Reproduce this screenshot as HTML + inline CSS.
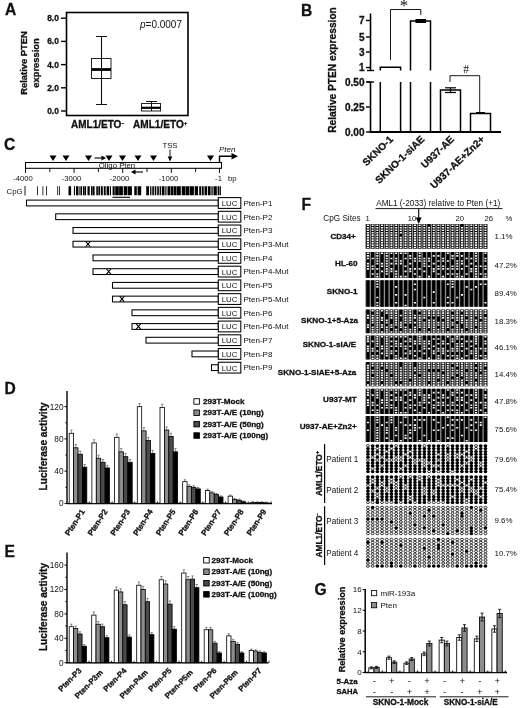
<!DOCTYPE html>
<html lang="en"><head><meta charset="utf-8"><title>Figure</title>
<style>
html,body{margin:0;padding:0;background:#fff;}
body{width:520px;height:708px;overflow:hidden;}
svg{display:block;font-family:"Liberation Sans", "DejaVu Sans", sans-serif;fill:#000;}
svg text{fill:#111;}
</style></head><body>
<svg width="520" height="708" viewBox="0 0 520 708">
<rect width="520" height="708" fill="#fff"/>
<g id="panelA">
<text x="5" y="15.4" text-anchor="start" style="font-size:15.6px;font-weight:bold;stroke:#111;stroke-width:0.3px;" >A</text>
<rect x="66.50" y="12.50" width="121.50" height="103.00" fill="none" stroke="#000" stroke-width="1.6"/>
<line x1="61" y1="111.0" x2="66" y2="111.0" stroke="#000" stroke-width="1.4" />
<text x="58.8" y="114.0" text-anchor="end" style="font-size:8.4px;font-weight:bold;stroke:#111;stroke-width:0.3px;" >0.0</text>
<line x1="61" y1="87.8" x2="66" y2="87.8" stroke="#000" stroke-width="1.4" />
<text x="58.8" y="90.8" text-anchor="end" style="font-size:8.4px;font-weight:bold;stroke:#111;stroke-width:0.3px;" >2.0</text>
<line x1="61" y1="64.6" x2="66" y2="64.6" stroke="#000" stroke-width="1.4" />
<text x="58.8" y="67.6" text-anchor="end" style="font-size:8.4px;font-weight:bold;stroke:#111;stroke-width:0.3px;" >4.0</text>
<line x1="61" y1="41.400000000000006" x2="66" y2="41.400000000000006" stroke="#000" stroke-width="1.4" />
<text x="58.8" y="44.400000000000006" text-anchor="end" style="font-size:8.4px;font-weight:bold;stroke:#111;stroke-width:0.3px;" >6.0</text>
<line x1="61" y1="18.200000000000003" x2="66" y2="18.200000000000003" stroke="#000" stroke-width="1.4" />
<text x="58.8" y="21.200000000000003" text-anchor="end" style="font-size:8.4px;font-weight:bold;stroke:#111;stroke-width:0.3px;" >8.0</text>
<text x="26.5" y="63" text-anchor="middle" style="font-size:9.4px;font-weight:bold;stroke:#111;stroke-width:0.3px;" transform="rotate(-90 26.5 63)" >Relative PTEN</text>
<text x="38.9" y="63" text-anchor="middle" style="font-size:9.4px;font-weight:bold;stroke:#111;stroke-width:0.3px;" transform="rotate(-90 38.9 63)" >expression</text>
<line x1="101.5" y1="36" x2="101.5" y2="105" stroke="#111" stroke-width="1.1" />
<line x1="96" y1="36.5" x2="107" y2="36.5" stroke="#111" stroke-width="1" />
<line x1="96" y1="104.5" x2="107" y2="104.5" stroke="#111" stroke-width="1" />
<rect x="91.50" y="58.50" width="19.50" height="20.00" fill="#fff" stroke="#222" stroke-width="1"/>
<line x1="101.5" y1="58" x2="101.5" y2="78.5" stroke="#111" stroke-width="1" />
<line x1="91.5" y1="69.5" x2="111" y2="69.5" stroke="#000" stroke-width="2.8" />
<line x1="151.5" y1="101" x2="151.5" y2="111" stroke="#111" stroke-width="1" />
<line x1="146" y1="101.5" x2="157" y2="101.5" stroke="#111" stroke-width="1" />
<rect x="141.50" y="103.50" width="19.00" height="7.50" fill="#fff" stroke="#222" stroke-width="1"/>
<line x1="151.5" y1="103.5" x2="151.5" y2="111" stroke="#111" stroke-width="1" />
<line x1="141.5" y1="107.8" x2="160.5" y2="107.8" stroke="#000" stroke-width="2.2" />
<text x="140" y="27.5" text-anchor="start" style="font-size:10px;" ><tspan font-style="italic">p</tspan>=0.0007</text>
<text x="71" y="127.8" text-anchor="start" style="font-size:10px;font-weight:bold;stroke:#111;stroke-width:0.3px;" >AML1/ETO<tspan dy="-3" font-size="7">-</tspan></text>
<text x="133" y="127.8" text-anchor="start" style="font-size:10.1px;font-weight:bold;stroke:#111;stroke-width:0.3px;" >AML1/ETO<tspan dy="-3" font-size="6">+</tspan></text>
</g>
<g id="panelB">
<text x="301" y="15.8" text-anchor="start" style="font-size:15.6px;font-weight:bold;stroke:#111;stroke-width:0.3px;" >B</text>
<line x1="370.5" y1="13.5" x2="370.5" y2="70.5" stroke="#000" stroke-width="1.6" />
<line x1="366" y1="20.5" x2="370.5" y2="20.5" stroke="#000" stroke-width="1.4" />
<text x="364.5" y="24.0" text-anchor="end" style="font-size:10px;font-weight:bold;stroke:#111;stroke-width:0.3px;" >7</text>
<line x1="366" y1="37" x2="370.5" y2="37" stroke="#000" stroke-width="1.4" />
<text x="364.5" y="40.5" text-anchor="end" style="font-size:10px;font-weight:bold;stroke:#111;stroke-width:0.3px;" >5</text>
<line x1="366" y1="52" x2="370.5" y2="52" stroke="#000" stroke-width="1.4" />
<text x="364.5" y="55.5" text-anchor="end" style="font-size:10px;font-weight:bold;stroke:#111;stroke-width:0.3px;" >3</text>
<line x1="366" y1="67.5" x2="370.5" y2="67.5" stroke="#000" stroke-width="1.4" />
<text x="364.5" y="71.0" text-anchor="end" style="font-size:10px;font-weight:bold;stroke:#111;stroke-width:0.3px;" >1</text>
<line x1="367" y1="70.5" x2="374" y2="70.5" stroke="#000" stroke-width="1.4" />
<line x1="370.5" y1="82" x2="370.5" y2="132.5" stroke="#000" stroke-width="1.6" />
<line x1="367" y1="82" x2="374" y2="82" stroke="#000" stroke-width="1.4" />
<line x1="366" y1="82" x2="370.5" y2="82" stroke="#000" stroke-width="1.4" />
<text x="364.5" y="85.5" text-anchor="end" style="font-size:10px;font-weight:bold;stroke:#111;stroke-width:0.3px;" >0.50</text>
<line x1="366" y1="107" x2="370.5" y2="107" stroke="#000" stroke-width="1.4" />
<text x="364.5" y="110.5" text-anchor="end" style="font-size:10px;font-weight:bold;stroke:#111;stroke-width:0.3px;" >0.25</text>
<line x1="366" y1="132" x2="370.5" y2="132" stroke="#000" stroke-width="1.4" />
<text x="364.5" y="135.5" text-anchor="end" style="font-size:10px;font-weight:bold;stroke:#111;stroke-width:0.3px;" >0.00</text>
<line x1="369.7" y1="132" x2="501" y2="132" stroke="#000" stroke-width="1.8" />
<text x="335.8" y="70" text-anchor="middle" style="font-size:10.2px;font-weight:bold;stroke:#111;stroke-width:0.3px;" transform="rotate(-90 335.8 70)" >Relative PTEN expression</text>
<path d="M380.3 70.5V67.3H400.6V70.5" fill="none" stroke="#000" stroke-width="1.5"/>
<path d="M380.3 132V82M400.6 82V132" fill="none" stroke="#000" stroke-width="1.5"/>
<path d="M410.5 70.5V21H430.5V70.5" fill="none" stroke="#000" stroke-width="1.5"/>
<path d="M410.5 132V82M430.5 82V132" fill="none" stroke="#000" stroke-width="1.5"/>
<rect x="415.50" y="19.00" width="10.50" height="4.00" fill="#000" stroke="none" stroke-width="0"/>
<path d="M440.5 132V90H460.5V132" fill="none" stroke="#000" stroke-width="1.5"/>
<line x1="450.5" y1="87.5" x2="450.5" y2="92.5" stroke="#000" stroke-width="1.2" />
<line x1="445" y1="87.8" x2="456" y2="87.8" stroke="#000" stroke-width="1.2" />
<line x1="445" y1="92.5" x2="456" y2="92.5" stroke="#000" stroke-width="1.2" />
<path d="M470.5 132V113.6H490.5V132" fill="none" stroke="#000" stroke-width="1.5"/>
<line x1="476" y1="113" x2="485" y2="113" stroke="#000" stroke-width="2" />
<path d="M390.5 60V9.5H420.8V15" fill="none" stroke="#000" stroke-width="0.9"/>
<text x="404" y="10.5" text-anchor="middle" style="font-size:17px;" font-family="Liberation Serif, serif">*</text>
<path d="M450 82V75.7H479.7V112" fill="none" stroke="#000" stroke-width="0.9"/>
<text x="466" y="73" text-anchor="middle" style="font-size:11.5px;" font-family="Liberation Serif, serif">#</text>
<text x="393.8" y="140" text-anchor="end" style="font-size:10.05px;font-weight:bold;stroke:#111;stroke-width:0.3px;" transform="rotate(-44 393.8 140)" >SKNO-1</text>
<text x="425" y="140" text-anchor="end" style="font-size:10.05px;font-weight:bold;stroke:#111;stroke-width:0.3px;" transform="rotate(-44 425 140)" >SKNO-1-siAE</text>
<text x="454.7" y="140" text-anchor="end" style="font-size:10.05px;font-weight:bold;stroke:#111;stroke-width:0.3px;" transform="rotate(-44 454.7 140)" >U937-AE</text>
<text x="485.2" y="140" text-anchor="end" style="font-size:10.05px;font-weight:bold;stroke:#111;stroke-width:0.3px;" transform="rotate(-44 485.2 140)" >U937-AE+Zn2+</text>
</g>
<g id="panelC">
<text x="4" y="149.5" text-anchor="start" style="font-size:15.6px;font-weight:bold;stroke:#111;stroke-width:0.3px;" >C</text>
<text x="117" y="168.3" text-anchor="middle" style="font-size:7.8px;" >Oligo Pten</text>
<rect x="25.50" y="162.50" width="196.00" height="5.80" fill="none" stroke="#000" stroke-width="1.05"/>
<line x1="25.5" y1="168" x2="25.5" y2="173" stroke="#000" stroke-width="0.9" />
<line x1="49.8" y1="168" x2="49.8" y2="172" stroke="#000" stroke-width="0.9" />
<line x1="74.1" y1="168" x2="74.1" y2="173" stroke="#000" stroke-width="0.9" />
<line x1="98.4" y1="168" x2="98.4" y2="172" stroke="#000" stroke-width="0.9" />
<line x1="122.7" y1="168" x2="122.7" y2="173" stroke="#000" stroke-width="0.9" />
<line x1="147.0" y1="168" x2="147.0" y2="172" stroke="#000" stroke-width="0.9" />
<line x1="171.3" y1="168" x2="171.3" y2="173" stroke="#000" stroke-width="0.9" />
<line x1="195.6" y1="168" x2="195.6" y2="172" stroke="#000" stroke-width="0.9" />
<line x1="219.5" y1="168" x2="219.5" y2="173" stroke="#000" stroke-width="0.9" />
<text x="23" y="181" text-anchor="middle" style="font-size:7.7px;" >-4000</text>
<text x="71.5" y="181" text-anchor="middle" style="font-size:7.7px;" >-3000</text>
<text x="119.5" y="181" text-anchor="middle" style="font-size:7.7px;" >-2000</text>
<text x="168.5" y="181" text-anchor="middle" style="font-size:7.7px;" >-1000</text>
<text x="218.5" y="181" text-anchor="middle" style="font-size:7.7px;" >-1</text>
<text x="228" y="181" text-anchor="start" style="font-size:7.7px;" >bp</text>
<path d="M49.5 155.5H56.5L53 161Z" fill="#000"/>
<path d="M62.5 155.5H69.5L66 161Z" fill="#000"/>
<path d="M85.0 155.5H92.0L88.5 161Z" fill="#000"/>
<path d="M105.5 155.5H112.5L109 161Z" fill="#000"/>
<path d="M119.0 155.5H126.0L122.5 161Z" fill="#000"/>
<path d="M134.5 155.5H141.5L138 161Z" fill="#000"/>
<path d="M150.0 155.5H157.0L153.5 161Z" fill="#000"/>
<path d="M207.0 155.5H214.0L210.5 161Z" fill="#000"/>
<path d="M94.5 158H103" stroke="#000" stroke-width="1.1"/><path d="M106 158L101.5 155.5V160.5Z" fill="#000"/>
<path d="M143 172H134" stroke="#000" stroke-width="1.1"/><path d="M131 172L135.5 169.5V174.5Z" fill="#000"/>
<text x="170" y="147.8" text-anchor="middle" style="font-size:7.8px;" >TSS</text>
<path d="M170 149.5V158" stroke="#000" stroke-width="0.9"/><path d="M170 161.5L167.7 156.5H172.3Z" fill="#000"/>
<text x="219" y="151.5" text-anchor="start" style="font-size:8px;font-style:italic;" >Pten</text>
<path d="M219.5 162.5V156.2H233" fill="none" stroke="#000" stroke-width="1.4"/><path d="M238 156.2L231.5 153V159.4Z" fill="#000"/>
<text x="6.5" y="193.8" text-anchor="start" style="font-size:7.8px;" >CpG</text>
<line x1="25" y1="186" x2="25" y2="195.5" stroke="#000" stroke-width="0.9" />
<path d="M37.0 186.3h0.8v9h-0.8zM42.5 186.3h0.8v9h-0.8zM46.0 186.3h0.8v9h-0.8zM57.3 186.3h0.8v9h-0.8zM59.0 186.3h0.8v9h-0.8zM68.5 186.3h2.6v9h-2.6zM73.9 186.3h1.1v9h-1.1zM76.0 186.3h2v9h-2zM78.5 186.3h1.1v9h-1.1zM80.4 186.3h1.6v9h-1.6zM82.9 186.3h1.4v9h-1.4zM84.6 186.3h1.5v9h-1.5zM87.5 186.3h2.2v9h-2.2zM91.0 186.3h1.6v9h-1.6zM92.9 186.3h1.7v9h-1.7zM96.3 186.3h1.6v9h-1.6zM98.4 186.3h1.6v9h-1.6zM100.8 186.3h2.0v9h-2.0zM103.8 186.3h1.9v9h-1.9zM106.6 186.3h2.4v9h-2.4zM109.8 186.3h1.2v9h-1.2zM112.6 186.3h2.1v9h-2.1zM115.2 186.3h3.6v9h-3.6zM119.1 186.3h3.8v9h-3.8zM123.7 186.3h3.6v9h-3.6zM127.8 186.3h4.1v9h-4.1zM134.3 186.3h2.5v9h-2.5zM137.6 186.3h3.6v9h-3.6zM146.2 186.3h2.8v9h-2.8zM150.1 186.3h1.3v9h-1.3zM152.3 186.3h1.6v9h-1.6zM154.7 186.3h1.6v9h-1.6zM157.2 186.3h1.6v9h-1.6zM159.6 186.3h1.6v9h-1.6zM162.0 186.3h2.5v9h-2.5zM165.3 186.3h1.2v9h-1.2zM167.5 186.3h2.7v9h-2.7zM170.7 186.3h2.6v9h-2.6zM173.7 186.3h2.9v9h-2.9zM177.0 186.3h3.8v9h-3.8zM181.7 186.3h3.3v9h-3.3zM185.4 186.3h3.6v9h-3.6zM189.5 186.3h4.4v9h-4.4zM194.7 186.3h3.3v9h-3.3zM199.2 186.3h2.1v9h-2.1zM202.0 186.3h1.7v9h-1.7zM204.5 186.3h2.5v9h-2.5zM207.8 186.3h2.8v9h-2.8zM211.4 186.3h1.3v9h-1.3zM213.5 186.3h3.3v9h-3.3zM217.6 186.3h1.6v9h-1.6zM219.7 186.3h1.2v9h-1.2z" fill="#000"/>
<line x1="112.5" y1="197.3" x2="130" y2="197.3" stroke="#000" stroke-width="1.1" />
<rect x="26.50" y="200.10" width="191.80" height="5.80" fill="#fff" stroke="#000" stroke-width="1.05"/>
<rect x="218.30" y="197.60" width="22.50" height="10.80" fill="#fff" stroke="#000" stroke-width="1.05"/>
<text x="229.5" y="205.9" text-anchor="middle" style="font-size:7.8px;" >LUC</text>
<text x="243.5" y="205.8" text-anchor="start" style="font-size:8px;" >Pten-P1</text>
<rect x="55.70" y="213.82" width="162.60" height="5.80" fill="#fff" stroke="#000" stroke-width="1.05"/>
<rect x="218.30" y="211.32" width="22.50" height="10.80" fill="#fff" stroke="#000" stroke-width="1.05"/>
<text x="229.5" y="219.62" text-anchor="middle" style="font-size:7.8px;" >LUC</text>
<text x="243.5" y="219.52" text-anchor="start" style="font-size:8px;" >Pten-P2</text>
<rect x="73.00" y="227.54" width="145.30" height="5.80" fill="#fff" stroke="#000" stroke-width="1.05"/>
<rect x="218.30" y="225.04" width="22.50" height="10.80" fill="#fff" stroke="#000" stroke-width="1.05"/>
<text x="229.5" y="233.34" text-anchor="middle" style="font-size:7.8px;" >LUC</text>
<text x="243.5" y="233.24" text-anchor="start" style="font-size:8px;" >Pten-P3</text>
<rect x="73.00" y="241.26" width="145.30" height="5.80" fill="#fff" stroke="#000" stroke-width="1.05"/>
<rect x="218.30" y="238.76" width="22.50" height="10.80" fill="#fff" stroke="#000" stroke-width="1.05"/>
<text x="229.5" y="247.06" text-anchor="middle" style="font-size:7.8px;" >LUC</text>
<text x="243.5" y="246.96" text-anchor="start" style="font-size:8px;" >Pten-P3-Mut</text>
<path d="M85.8 241.56L90.2 246.76M90.2 241.56L85.8 246.76" stroke="#000" stroke-width="1.1"/>
<rect x="93.00" y="254.98" width="125.30" height="5.80" fill="#fff" stroke="#000" stroke-width="1.05"/>
<rect x="218.30" y="252.48" width="22.50" height="10.80" fill="#fff" stroke="#000" stroke-width="1.05"/>
<text x="229.5" y="260.78" text-anchor="middle" style="font-size:7.8px;" >LUC</text>
<text x="243.5" y="260.68" text-anchor="start" style="font-size:8px;" >Pten-P4</text>
<rect x="93.00" y="268.70" width="125.30" height="5.80" fill="#fff" stroke="#000" stroke-width="1.05"/>
<rect x="218.30" y="266.20" width="22.50" height="10.80" fill="#fff" stroke="#000" stroke-width="1.05"/>
<text x="229.5" y="274.5" text-anchor="middle" style="font-size:7.8px;" >LUC</text>
<text x="243.5" y="274.40000000000003" text-anchor="start" style="font-size:8px;" >Pten-P4-Mut</text>
<path d="M106.5 269.0L110.9 274.20000000000005M110.9 269.0L106.5 274.20000000000005" stroke="#000" stroke-width="1.1"/>
<rect x="112.50" y="282.42" width="105.80" height="5.80" fill="#fff" stroke="#000" stroke-width="1.05"/>
<rect x="218.30" y="279.92" width="22.50" height="10.80" fill="#fff" stroke="#000" stroke-width="1.05"/>
<text x="229.5" y="288.21999999999997" text-anchor="middle" style="font-size:7.8px;" >LUC</text>
<text x="243.5" y="288.12" text-anchor="start" style="font-size:8px;" >Pten-P5</text>
<rect x="112.50" y="296.14" width="105.80" height="5.80" fill="#fff" stroke="#000" stroke-width="1.05"/>
<rect x="218.30" y="293.64" width="22.50" height="10.80" fill="#fff" stroke="#000" stroke-width="1.05"/>
<text x="229.5" y="301.94" text-anchor="middle" style="font-size:7.8px;" >LUC</text>
<text x="243.5" y="301.84000000000003" text-anchor="start" style="font-size:8px;" >Pten-P5-Mut</text>
<path d="M119.8 296.44L124.2 301.64000000000004M124.2 296.44L119.8 301.64000000000004" stroke="#000" stroke-width="1.1"/>
<rect x="132.00" y="309.86" width="86.30" height="5.80" fill="#fff" stroke="#000" stroke-width="1.05"/>
<rect x="218.30" y="307.36" width="22.50" height="10.80" fill="#fff" stroke="#000" stroke-width="1.05"/>
<text x="229.5" y="315.65999999999997" text-anchor="middle" style="font-size:7.8px;" >LUC</text>
<text x="243.5" y="315.56" text-anchor="start" style="font-size:8px;" >Pten-P6</text>
<rect x="132.00" y="323.58" width="86.30" height="5.80" fill="#fff" stroke="#000" stroke-width="1.05"/>
<rect x="218.30" y="321.08" width="22.50" height="10.80" fill="#fff" stroke="#000" stroke-width="1.05"/>
<text x="229.5" y="329.38" text-anchor="middle" style="font-size:7.8px;" >LUC</text>
<text x="243.5" y="329.28000000000003" text-anchor="start" style="font-size:8px;" >Pten-P6-Mut</text>
<path d="M136.3 323.88L140.7 329.08000000000004M140.7 323.88L136.3 329.08000000000004" stroke="#000" stroke-width="1.1"/>
<rect x="146.00" y="337.30" width="72.30" height="5.80" fill="#fff" stroke="#000" stroke-width="1.05"/>
<rect x="218.30" y="334.80" width="22.50" height="10.80" fill="#fff" stroke="#000" stroke-width="1.05"/>
<text x="229.5" y="343.1" text-anchor="middle" style="font-size:7.8px;" >LUC</text>
<text x="243.5" y="343.00000000000006" text-anchor="start" style="font-size:8px;" >Pten-P7</text>
<rect x="192.00" y="351.02" width="26.30" height="5.80" fill="#fff" stroke="#000" stroke-width="1.05"/>
<rect x="218.30" y="348.52" width="22.50" height="10.80" fill="#fff" stroke="#000" stroke-width="1.05"/>
<text x="229.5" y="356.82" text-anchor="middle" style="font-size:7.8px;" >LUC</text>
<text x="243.5" y="356.72" text-anchor="start" style="font-size:8px;" >Pten-P8</text>
<rect x="211.50" y="364.74" width="6.80" height="5.80" fill="#fff" stroke="#000" stroke-width="1.05"/>
<rect x="218.30" y="362.24" width="22.50" height="10.80" fill="#fff" stroke="#000" stroke-width="1.05"/>
<text x="229.5" y="370.53999999999996" text-anchor="middle" style="font-size:7.8px;" >LUC</text>
<text x="243.5" y="370.44" text-anchor="start" style="font-size:8px;" >Pten-P9</text>
</g>
<g id="panelD">
<text x="4.5" y="393.7" text-anchor="start" style="font-size:15.6px;font-weight:bold;stroke:#111;stroke-width:0.3px;" >D</text>
<line x1="67" y1="391" x2="67" y2="503.9" stroke="#000" stroke-width="1.4" />
<line x1="66.3" y1="503.4" x2="272" y2="503.4" stroke="#000" stroke-width="1.5" />
<line x1="64.5" y1="503.4" x2="67" y2="503.4" stroke="#000" stroke-width="1" />
<text x="63.5" y="506.29999999999995" text-anchor="end" style="font-size:8.3px;" >0</text>
<line x1="64.5" y1="471.15999999999997" x2="67" y2="471.15999999999997" stroke="#000" stroke-width="1" />
<text x="63.5" y="474.05999999999995" text-anchor="end" style="font-size:8.3px;" >40</text>
<line x1="65.2" y1="487.28" x2="67" y2="487.28" stroke="#000" stroke-width="0.8" />
<line x1="64.5" y1="438.91999999999996" x2="67" y2="438.91999999999996" stroke="#000" stroke-width="1" />
<text x="63.5" y="441.81999999999994" text-anchor="end" style="font-size:8.3px;" >80</text>
<line x1="65.2" y1="455.03999999999996" x2="67" y2="455.03999999999996" stroke="#000" stroke-width="0.8" />
<line x1="64.5" y1="406.67999999999995" x2="67" y2="406.67999999999995" stroke="#000" stroke-width="1" />
<text x="63.5" y="409.5799999999999" text-anchor="end" style="font-size:8.3px;" >120</text>
<line x1="65.2" y1="422.79999999999995" x2="67" y2="422.79999999999995" stroke="#000" stroke-width="0.8" />
<text x="46.8" y="446.4" text-anchor="middle" style="font-size:10.1px;font-weight:bold;stroke:#111;stroke-width:0.3px;" transform="rotate(-90 46.8 446.4)" >Luciferase activity</text>
<line x1="71.4" y1="430.078" x2="71.4" y2="436.47799999999995" stroke="#444" stroke-width="0.6" />
<line x1="70.2" y1="430.078" x2="72.60000000000001" y2="430.078" stroke="#444" stroke-width="0.6" />
<rect x="69.20" y="433.28" width="4.40" height="70.12" fill="#fff" stroke="#000" stroke-width="0.8"/>
<line x1="75.80000000000001" y1="444.58599999999996" x2="75.80000000000001" y2="447.78599999999994" stroke="#444" stroke-width="0.6" />
<line x1="74.60000000000001" y1="444.58599999999996" x2="77.00000000000001" y2="444.58599999999996" stroke="#444" stroke-width="0.6" />
<rect x="73.60" y="447.79" width="4.40" height="55.61" fill="#8c8c8c" stroke="#000" stroke-width="0.8"/>
<line x1="80.2" y1="451.034" x2="80.2" y2="454.234" stroke="#444" stroke-width="0.6" />
<line x1="79.0" y1="451.034" x2="81.4" y2="451.034" stroke="#444" stroke-width="0.6" />
<rect x="78.00" y="454.23" width="4.40" height="49.17" fill="#4a4a4a" stroke="#000" stroke-width="0.8"/>
<line x1="84.60000000000001" y1="464.5165" x2="84.60000000000001" y2="467.13" stroke="#444" stroke-width="0.6" />
<line x1="83.4" y1="464.5165" x2="85.80000000000001" y2="464.5165" stroke="#444" stroke-width="0.6" />
<rect x="82.40" y="467.13" width="4.40" height="36.27" fill="#000" stroke="#000" stroke-width="0.8"/>
<line x1="89.35000000000001" y1="503.4" x2="89.35000000000001" y2="501.4" stroke="#000" stroke-width="0.8" />
<text x="85.1" y="511.59999999999997" text-anchor="end" style="font-size:7.9px;font-weight:bold;stroke:#111;stroke-width:0.3px;" transform="rotate(-57 85.1 511.59999999999997)" >Pten-P1</text>
<line x1="94.10000000000001" y1="439.75" x2="94.10000000000001" y2="446.15" stroke="#444" stroke-width="0.6" />
<line x1="92.9" y1="439.75" x2="95.30000000000001" y2="439.75" stroke="#444" stroke-width="0.6" />
<rect x="91.90" y="442.95" width="4.40" height="60.45" fill="#fff" stroke="#000" stroke-width="0.8"/>
<line x1="98.50000000000001" y1="455.20719999999994" x2="98.50000000000001" y2="458.26399999999995" stroke="#444" stroke-width="0.6" />
<line x1="97.30000000000001" y1="455.20719999999994" x2="99.70000000000002" y2="455.20719999999994" stroke="#444" stroke-width="0.6" />
<rect x="96.30" y="458.26" width="4.40" height="45.14" fill="#8c8c8c" stroke="#000" stroke-width="0.8"/>
<line x1="102.9" y1="459.4387" x2="102.9" y2="462.294" stroke="#444" stroke-width="0.6" />
<line x1="101.7" y1="459.4387" x2="104.10000000000001" y2="459.4387" stroke="#444" stroke-width="0.6" />
<rect x="100.70" y="462.29" width="4.40" height="41.11" fill="#4a4a4a" stroke="#000" stroke-width="0.8"/>
<line x1="107.30000000000001" y1="465.3628" x2="107.30000000000001" y2="467.936" stroke="#444" stroke-width="0.6" />
<line x1="106.10000000000001" y1="465.3628" x2="108.50000000000001" y2="465.3628" stroke="#444" stroke-width="0.6" />
<rect x="105.10" y="467.94" width="4.40" height="35.46" fill="#000" stroke="#000" stroke-width="0.8"/>
<line x1="112.05" y1="503.4" x2="112.05" y2="501.4" stroke="#000" stroke-width="0.8" />
<text x="107.8" y="511.59999999999997" text-anchor="end" style="font-size:7.9px;font-weight:bold;stroke:#111;stroke-width:0.3px;" transform="rotate(-57 107.8 511.59999999999997)" >Pten-P2</text>
<line x1="116.8" y1="434.108" x2="116.8" y2="440.508" stroke="#444" stroke-width="0.6" />
<line x1="115.6" y1="434.108" x2="118.0" y2="434.108" stroke="#444" stroke-width="0.6" />
<rect x="114.60" y="437.31" width="4.40" height="66.09" fill="#fff" stroke="#000" stroke-width="0.8"/>
<line x1="121.2" y1="448.616" x2="121.2" y2="451.816" stroke="#444" stroke-width="0.6" />
<line x1="120.0" y1="448.616" x2="122.4" y2="448.616" stroke="#444" stroke-width="0.6" />
<rect x="119.00" y="451.82" width="4.40" height="51.58" fill="#8c8c8c" stroke="#000" stroke-width="0.8"/>
<line x1="125.6" y1="453.5146" x2="125.6" y2="456.652" stroke="#444" stroke-width="0.6" />
<line x1="124.39999999999999" y1="453.5146" x2="126.8" y2="453.5146" stroke="#444" stroke-width="0.6" />
<rect x="123.40" y="456.65" width="4.40" height="46.75" fill="#4a4a4a" stroke="#000" stroke-width="0.8"/>
<line x1="130.0" y1="459.4387" x2="130.0" y2="462.294" stroke="#444" stroke-width="0.6" />
<line x1="128.8" y1="459.4387" x2="131.2" y2="459.4387" stroke="#444" stroke-width="0.6" />
<rect x="127.80" y="462.29" width="4.40" height="41.11" fill="#000" stroke="#000" stroke-width="0.8"/>
<line x1="134.75" y1="503.4" x2="134.75" y2="501.4" stroke="#000" stroke-width="0.8" />
<text x="130.49999999999997" y="511.59999999999997" text-anchor="end" style="font-size:7.9px;font-weight:bold;stroke:#111;stroke-width:0.3px;" transform="rotate(-57 130.49999999999997 511.59999999999997)" >Pten-P3</text>
<line x1="139.5" y1="403.47999999999996" x2="139.5" y2="409.87999999999994" stroke="#444" stroke-width="0.6" />
<line x1="138.3" y1="403.47999999999996" x2="140.7" y2="403.47999999999996" stroke="#444" stroke-width="0.6" />
<rect x="137.30" y="406.68" width="4.40" height="96.72" fill="#fff" stroke="#000" stroke-width="0.8"/>
<line x1="143.9" y1="427.65999999999997" x2="143.9" y2="430.85999999999996" stroke="#444" stroke-width="0.6" />
<line x1="142.70000000000002" y1="427.65999999999997" x2="145.1" y2="427.65999999999997" stroke="#444" stroke-width="0.6" />
<rect x="141.70" y="430.86" width="4.40" height="72.54" fill="#8c8c8c" stroke="#000" stroke-width="0.8"/>
<line x1="148.3" y1="437.332" x2="148.3" y2="440.532" stroke="#444" stroke-width="0.6" />
<line x1="147.10000000000002" y1="437.332" x2="149.5" y2="437.332" stroke="#444" stroke-width="0.6" />
<rect x="146.10" y="440.53" width="4.40" height="62.87" fill="#4a4a4a" stroke="#000" stroke-width="0.8"/>
<line x1="152.7" y1="450.228" x2="152.7" y2="453.428" stroke="#444" stroke-width="0.6" />
<line x1="151.5" y1="450.228" x2="153.89999999999998" y2="450.228" stroke="#444" stroke-width="0.6" />
<rect x="150.50" y="453.43" width="4.40" height="49.97" fill="#000" stroke="#000" stroke-width="0.8"/>
<line x1="157.45000000000002" y1="503.4" x2="157.45000000000002" y2="501.4" stroke="#000" stroke-width="0.8" />
<text x="153.20000000000002" y="511.59999999999997" text-anchor="end" style="font-size:7.9px;font-weight:bold;stroke:#111;stroke-width:0.3px;" transform="rotate(-57 153.20000000000002 511.59999999999997)" >Pten-P4</text>
<line x1="162.2" y1="404.286" x2="162.2" y2="410.686" stroke="#444" stroke-width="0.6" />
<line x1="161.0" y1="404.286" x2="163.39999999999998" y2="404.286" stroke="#444" stroke-width="0.6" />
<rect x="160.00" y="407.49" width="4.40" height="95.91" fill="#fff" stroke="#000" stroke-width="0.8"/>
<line x1="166.6" y1="426.854" x2="166.6" y2="430.054" stroke="#444" stroke-width="0.6" />
<line x1="165.4" y1="426.854" x2="167.79999999999998" y2="426.854" stroke="#444" stroke-width="0.6" />
<rect x="164.40" y="430.05" width="4.40" height="73.35" fill="#8c8c8c" stroke="#000" stroke-width="0.8"/>
<line x1="171.0" y1="433.30199999999996" x2="171.0" y2="436.50199999999995" stroke="#444" stroke-width="0.6" />
<line x1="169.8" y1="433.30199999999996" x2="172.2" y2="433.30199999999996" stroke="#444" stroke-width="0.6" />
<rect x="168.80" y="436.50" width="4.40" height="66.90" fill="#4a4a4a" stroke="#000" stroke-width="0.8"/>
<line x1="175.39999999999998" y1="448.616" x2="175.39999999999998" y2="451.816" stroke="#444" stroke-width="0.6" />
<line x1="174.2" y1="448.616" x2="176.59999999999997" y2="448.616" stroke="#444" stroke-width="0.6" />
<rect x="173.20" y="451.82" width="4.40" height="51.58" fill="#000" stroke="#000" stroke-width="0.8"/>
<line x1="180.15" y1="503.4" x2="180.15" y2="501.4" stroke="#000" stroke-width="0.8" />
<text x="175.9" y="511.59999999999997" text-anchor="end" style="font-size:7.9px;font-weight:bold;stroke:#111;stroke-width:0.3px;" transform="rotate(-57 175.9 511.59999999999997)" >Pten-P5</text>
<line x1="184.89999999999998" y1="479.74989999999997" x2="184.89999999999998" y2="483.5261" stroke="#444" stroke-width="0.6" />
<line x1="183.7" y1="479.74989999999997" x2="186.09999999999997" y2="479.74989999999997" stroke="#444" stroke-width="0.6" />
<rect x="182.70" y="481.64" width="4.40" height="21.76" fill="#fff" stroke="#000" stroke-width="0.8"/>
<line x1="189.29999999999998" y1="484.8277" x2="189.29999999999998" y2="486.474" stroke="#444" stroke-width="0.6" />
<line x1="188.1" y1="484.8277" x2="190.49999999999997" y2="484.8277" stroke="#444" stroke-width="0.6" />
<rect x="187.10" y="486.47" width="4.40" height="16.93" fill="#8c8c8c" stroke="#000" stroke-width="0.8"/>
<line x1="193.7" y1="485.674" x2="193.7" y2="487.28" stroke="#444" stroke-width="0.6" />
<line x1="192.5" y1="485.674" x2="194.89999999999998" y2="485.674" stroke="#444" stroke-width="0.6" />
<rect x="191.50" y="487.28" width="4.40" height="16.12" fill="#4a4a4a" stroke="#000" stroke-width="0.8"/>
<line x1="198.09999999999997" y1="487.3666" x2="198.09999999999997" y2="488.892" stroke="#444" stroke-width="0.6" />
<line x1="196.89999999999998" y1="487.3666" x2="199.29999999999995" y2="487.3666" stroke="#444" stroke-width="0.6" />
<rect x="195.90" y="488.89" width="4.40" height="14.51" fill="#000" stroke="#000" stroke-width="0.8"/>
<line x1="202.85" y1="503.4" x2="202.85" y2="501.4" stroke="#000" stroke-width="0.8" />
<text x="198.6" y="511.59999999999997" text-anchor="end" style="font-size:7.9px;font-weight:bold;stroke:#111;stroke-width:0.3px;" transform="rotate(-57 198.6 511.59999999999997)" >Pten-P6</text>
<line x1="207.59999999999997" y1="489.0592" x2="207.59999999999997" y2="491.94879999999995" stroke="#444" stroke-width="0.6" />
<line x1="206.39999999999998" y1="489.0592" x2="208.79999999999995" y2="489.0592" stroke="#444" stroke-width="0.6" />
<rect x="205.40" y="490.50" width="4.40" height="12.90" fill="#fff" stroke="#000" stroke-width="0.8"/>
<line x1="211.99999999999997" y1="491.5981" x2="211.99999999999997" y2="492.92199999999997" stroke="#444" stroke-width="0.6" />
<line x1="210.79999999999998" y1="491.5981" x2="213.19999999999996" y2="491.5981" stroke="#444" stroke-width="0.6" />
<rect x="209.80" y="492.92" width="4.40" height="10.48" fill="#8c8c8c" stroke="#000" stroke-width="0.8"/>
<line x1="216.39999999999998" y1="493.2907" x2="216.39999999999998" y2="494.534" stroke="#444" stroke-width="0.6" />
<line x1="215.2" y1="493.2907" x2="217.59999999999997" y2="493.2907" stroke="#444" stroke-width="0.6" />
<rect x="214.20" y="494.53" width="4.40" height="8.87" fill="#4a4a4a" stroke="#000" stroke-width="0.8"/>
<line x1="220.79999999999995" y1="495.82959999999997" x2="220.79999999999995" y2="496.952" stroke="#444" stroke-width="0.6" />
<line x1="219.59999999999997" y1="495.82959999999997" x2="221.99999999999994" y2="495.82959999999997" stroke="#444" stroke-width="0.6" />
<rect x="218.60" y="496.95" width="4.40" height="6.45" fill="#000" stroke="#000" stroke-width="0.8"/>
<line x1="225.54999999999998" y1="503.4" x2="225.54999999999998" y2="501.4" stroke="#000" stroke-width="0.8" />
<text x="221.29999999999998" y="511.59999999999997" text-anchor="end" style="font-size:7.9px;font-weight:bold;stroke:#111;stroke-width:0.3px;" transform="rotate(-57 221.29999999999998 511.59999999999997)" >Pten-P7</text>
<line x1="230.3" y1="494.9833" x2="230.3" y2="497.30869999999993" stroke="#444" stroke-width="0.6" />
<line x1="229.10000000000002" y1="494.9833" x2="231.5" y2="494.9833" stroke="#444" stroke-width="0.6" />
<rect x="228.10" y="496.15" width="4.40" height="7.25" fill="#fff" stroke="#000" stroke-width="0.8"/>
<line x1="234.70000000000002" y1="498.3685" x2="234.70000000000002" y2="499.37" stroke="#444" stroke-width="0.6" />
<line x1="233.50000000000003" y1="498.3685" x2="235.9" y2="498.3685" stroke="#444" stroke-width="0.6" />
<rect x="232.50" y="499.37" width="4.40" height="4.03" fill="#8c8c8c" stroke="#000" stroke-width="0.8"/>
<line x1="239.10000000000002" y1="499.21479999999997" x2="239.10000000000002" y2="500.176" stroke="#444" stroke-width="0.6" />
<line x1="237.90000000000003" y1="499.21479999999997" x2="240.3" y2="499.21479999999997" stroke="#444" stroke-width="0.6" />
<rect x="236.90" y="500.18" width="4.40" height="3.22" fill="#4a4a4a" stroke="#000" stroke-width="0.8"/>
<line x1="243.5" y1="500.90739999999994" x2="243.5" y2="501.78799999999995" stroke="#444" stroke-width="0.6" />
<line x1="242.3" y1="500.90739999999994" x2="244.7" y2="500.90739999999994" stroke="#444" stroke-width="0.6" />
<rect x="241.30" y="501.79" width="4.40" height="1.61" fill="#000" stroke="#000" stroke-width="0.8"/>
<line x1="248.25000000000003" y1="503.4" x2="248.25000000000003" y2="501.4" stroke="#000" stroke-width="0.8" />
<text x="244.00000000000003" y="511.59999999999997" text-anchor="end" style="font-size:7.9px;font-weight:bold;stroke:#111;stroke-width:0.3px;" transform="rotate(-57 244.00000000000003 511.59999999999997)" >Pten-P8</text>
<line x1="253.0" y1="501.58444" x2="253.0" y2="503.28116" stroke="#444" stroke-width="0.6" />
<line x1="251.8" y1="501.58444" x2="254.2" y2="501.58444" stroke="#444" stroke-width="0.6" />
<rect x="250.80" y="502.43" width="4.40" height="0.97" fill="#fff" stroke="#000" stroke-width="0.8"/>
<line x1="257.40000000000003" y1="501.7537" x2="257.40000000000003" y2="502.594" stroke="#444" stroke-width="0.6" />
<line x1="256.20000000000005" y1="501.7537" x2="258.6" y2="501.7537" stroke="#444" stroke-width="0.6" />
<rect x="255.20" y="502.59" width="4.40" height="0.81" fill="#8c8c8c" stroke="#000" stroke-width="0.8"/>
<line x1="261.8" y1="501.7537" x2="261.8" y2="502.594" stroke="#444" stroke-width="0.6" />
<line x1="260.6" y1="501.7537" x2="263.0" y2="501.7537" stroke="#444" stroke-width="0.6" />
<rect x="259.60" y="502.59" width="4.40" height="0.81" fill="#4a4a4a" stroke="#000" stroke-width="0.8"/>
<line x1="266.2" y1="502.09221999999994" x2="266.2" y2="502.91639999999995" stroke="#444" stroke-width="0.6" />
<line x1="265.0" y1="502.09221999999994" x2="267.4" y2="502.09221999999994" stroke="#444" stroke-width="0.6" />
<rect x="264.00" y="502.92" width="4.40" height="0.48" fill="#000" stroke="#000" stroke-width="0.8"/>
<line x1="270.95000000000005" y1="503.4" x2="270.95000000000005" y2="501.4" stroke="#000" stroke-width="0.8" />
<text x="266.70000000000005" y="511.59999999999997" text-anchor="end" style="font-size:7.9px;font-weight:bold;stroke:#111;stroke-width:0.3px;" transform="rotate(-57 266.70000000000005 511.59999999999997)" >Pten-P9</text>
<rect x="193.90" y="398.70" width="5.50" height="5.50" fill="#fff" stroke="#000" stroke-width="0.9"/>
<text x="203" y="403.8" text-anchor="start" style="font-size:8.1px;font-weight:bold;stroke:#111;stroke-width:0.3px;" >293T-Mock</text>
<rect x="193.90" y="410.00" width="5.50" height="5.50" fill="#8c8c8c" stroke="#000" stroke-width="0.9"/>
<text x="203" y="415.1" text-anchor="start" style="font-size:8.1px;font-weight:bold;stroke:#111;stroke-width:0.3px;" >293T-A/E (10ng)</text>
<rect x="193.90" y="421.40" width="5.50" height="5.50" fill="#4a4a4a" stroke="#000" stroke-width="0.9"/>
<text x="203" y="426.5" text-anchor="start" style="font-size:8.1px;font-weight:bold;stroke:#111;stroke-width:0.3px;" >293T-A/E (50ng)</text>
<rect x="193.90" y="432.80" width="5.50" height="5.50" fill="#000" stroke="#000" stroke-width="0.9"/>
<text x="203" y="437.90000000000003" text-anchor="start" style="font-size:8.1px;font-weight:bold;stroke:#111;stroke-width:0.3px;" >293T-A/E (100ng)</text>
</g>
<g id="panelE">
<text x="4.5" y="557.4" text-anchor="start" style="font-size:15.6px;font-weight:bold;stroke:#111;stroke-width:0.3px;" >E</text>
<line x1="67" y1="552.5" x2="67" y2="663.2" stroke="#000" stroke-width="1.4" />
<line x1="66.3" y1="662.7" x2="268.5" y2="662.7" stroke="#000" stroke-width="1.5" />
<line x1="64.5" y1="662.7" x2="67" y2="662.7" stroke="#000" stroke-width="1" />
<text x="63.5" y="665.6" text-anchor="end" style="font-size:8.3px;" >0</text>
<line x1="64.5" y1="638.3000000000001" x2="67" y2="638.3000000000001" stroke="#000" stroke-width="1" />
<text x="63.5" y="641.2" text-anchor="end" style="font-size:8.3px;" >40</text>
<line x1="65.2" y1="650.5" x2="67" y2="650.5" stroke="#000" stroke-width="0.8" />
<line x1="64.5" y1="613.9000000000001" x2="67" y2="613.9000000000001" stroke="#000" stroke-width="1" />
<text x="63.5" y="616.8000000000001" text-anchor="end" style="font-size:8.3px;" >80</text>
<line x1="65.2" y1="626.1" x2="67" y2="626.1" stroke="#000" stroke-width="0.8" />
<line x1="64.5" y1="589.5" x2="67" y2="589.5" stroke="#000" stroke-width="1" />
<text x="63.5" y="592.4" text-anchor="end" style="font-size:8.3px;" >120</text>
<line x1="65.2" y1="601.7" x2="67" y2="601.7" stroke="#000" stroke-width="0.8" />
<line x1="64.5" y1="565.1" x2="67" y2="565.1" stroke="#000" stroke-width="1" />
<text x="63.5" y="568.0" text-anchor="end" style="font-size:8.3px;" >160</text>
<line x1="65.2" y1="577.3000000000001" x2="67" y2="577.3000000000001" stroke="#000" stroke-width="0.8" />
<text x="46.8" y="607" text-anchor="middle" style="font-size:10.1px;font-weight:bold;stroke:#111;stroke-width:0.3px;" transform="rotate(-90 46.8 607)" >Luciferase activity</text>
<line x1="71.35000000000001" y1="624.1105" x2="71.35000000000001" y2="629.3095000000001" stroke="#444" stroke-width="0.6" />
<line x1="70.15" y1="624.1105" x2="72.55000000000001" y2="624.1105" stroke="#444" stroke-width="0.6" />
<rect x="69.20" y="626.71" width="4.30" height="35.99" fill="#fff" stroke="#000" stroke-width="0.8"/>
<line x1="75.65" y1="626.032" x2="75.65" y2="628.5400000000001" stroke="#444" stroke-width="0.6" />
<line x1="74.45" y1="626.032" x2="76.85000000000001" y2="626.032" stroke="#444" stroke-width="0.6" />
<rect x="73.50" y="628.54" width="4.30" height="34.16" fill="#8c8c8c" stroke="#000" stroke-width="0.8"/>
<line x1="79.95" y1="631.7965" x2="79.95" y2="634.0300000000001" stroke="#444" stroke-width="0.6" />
<line x1="78.75" y1="631.7965" x2="81.15" y2="631.7965" stroke="#444" stroke-width="0.6" />
<rect x="77.80" y="634.03" width="4.30" height="28.67" fill="#4a4a4a" stroke="#000" stroke-width="0.8"/>
<line x1="84.25" y1="644.6065" x2="84.25" y2="646.23" stroke="#444" stroke-width="0.6" />
<line x1="83.05" y1="644.6065" x2="85.45" y2="644.6065" stroke="#444" stroke-width="0.6" />
<rect x="82.10" y="646.23" width="4.30" height="16.47" fill="#000" stroke="#000" stroke-width="0.8"/>
<line x1="89.05000000000001" y1="662.7" x2="89.05000000000001" y2="660.7" stroke="#000" stroke-width="0.8" />
<text x="82.0" y="671.0" text-anchor="end" style="font-size:7.9px;font-weight:bold;stroke:#111;stroke-width:0.3px;" transform="rotate(-46 82.0 671.0)" >Pten-P3</text>
<line x1="93.85000000000001" y1="611.941" x2="93.85000000000001" y2="618.299" stroke="#444" stroke-width="0.6" />
<line x1="92.65" y1="611.941" x2="95.05000000000001" y2="611.941" stroke="#444" stroke-width="0.6" />
<rect x="91.70" y="615.12" width="4.30" height="47.58" fill="#fff" stroke="#000" stroke-width="0.8"/>
<line x1="98.15" y1="621.5485000000001" x2="98.15" y2="624.2700000000001" stroke="#444" stroke-width="0.6" />
<line x1="96.95" y1="621.5485000000001" x2="99.35000000000001" y2="621.5485000000001" stroke="#444" stroke-width="0.6" />
<rect x="96.00" y="624.27" width="4.30" height="38.43" fill="#8c8c8c" stroke="#000" stroke-width="0.8"/>
<line x1="102.45" y1="624.1105" x2="102.45" y2="626.71" stroke="#444" stroke-width="0.6" />
<line x1="101.25" y1="624.1105" x2="103.65" y2="624.1105" stroke="#444" stroke-width="0.6" />
<rect x="100.30" y="626.71" width="4.30" height="35.99" fill="#4a4a4a" stroke="#000" stroke-width="0.8"/>
<line x1="106.75" y1="635.6395" x2="106.75" y2="637.69" stroke="#444" stroke-width="0.6" />
<line x1="105.55" y1="635.6395" x2="107.95" y2="635.6395" stroke="#444" stroke-width="0.6" />
<rect x="104.60" y="637.69" width="4.30" height="25.01" fill="#000" stroke="#000" stroke-width="0.8"/>
<line x1="111.55000000000001" y1="662.7" x2="111.55000000000001" y2="660.7" stroke="#000" stroke-width="0.8" />
<text x="103.3" y="673.0" text-anchor="end" style="font-size:7.9px;font-weight:bold;stroke:#111;stroke-width:0.3px;" transform="rotate(-46 103.3 673.0)" >Pten-P3m</text>
<line x1="116.35000000000001" y1="586.91" x2="116.35000000000001" y2="593.3100000000001" stroke="#444" stroke-width="0.6" />
<line x1="115.15" y1="586.91" x2="117.55000000000001" y2="586.91" stroke="#444" stroke-width="0.6" />
<rect x="114.20" y="590.11" width="4.30" height="72.59" fill="#fff" stroke="#000" stroke-width="0.8"/>
<line x1="120.65" y1="588.74" x2="120.65" y2="591.94" stroke="#444" stroke-width="0.6" />
<line x1="119.45" y1="588.74" x2="121.85000000000001" y2="588.74" stroke="#444" stroke-width="0.6" />
<rect x="118.50" y="591.94" width="4.30" height="70.76" fill="#8c8c8c" stroke="#000" stroke-width="0.8"/>
<line x1="124.95" y1="601.55" x2="124.95" y2="604.75" stroke="#444" stroke-width="0.6" />
<line x1="123.75" y1="601.55" x2="126.15" y2="601.55" stroke="#444" stroke-width="0.6" />
<rect x="122.80" y="604.75" width="4.30" height="57.95" fill="#4a4a4a" stroke="#000" stroke-width="0.8"/>
<line x1="129.25" y1="634.999" x2="129.25" y2="637.08" stroke="#444" stroke-width="0.6" />
<line x1="128.05" y1="634.999" x2="130.45" y2="634.999" stroke="#444" stroke-width="0.6" />
<rect x="127.10" y="637.08" width="4.30" height="25.62" fill="#000" stroke="#000" stroke-width="0.8"/>
<line x1="134.05" y1="662.7" x2="134.05" y2="660.7" stroke="#000" stroke-width="0.8" />
<text x="127.00000000000001" y="671.0" text-anchor="end" style="font-size:7.9px;font-weight:bold;stroke:#111;stroke-width:0.3px;" transform="rotate(-46 127.00000000000001 671.0)" >Pten-P4</text>
<line x1="138.85" y1="582.03" x2="138.85" y2="588.4300000000001" stroke="#444" stroke-width="0.6" />
<line x1="137.65" y1="582.03" x2="140.04999999999998" y2="582.03" stroke="#444" stroke-width="0.6" />
<rect x="136.70" y="585.23" width="4.30" height="77.47" fill="#fff" stroke="#000" stroke-width="0.8"/>
<line x1="143.15" y1="586.3" x2="143.15" y2="589.5" stroke="#444" stroke-width="0.6" />
<line x1="141.95000000000002" y1="586.3" x2="144.35" y2="586.3" stroke="#444" stroke-width="0.6" />
<rect x="141.00" y="589.50" width="4.30" height="73.20" fill="#8c8c8c" stroke="#000" stroke-width="0.8"/>
<line x1="147.45" y1="598.5" x2="147.45" y2="601.7" stroke="#444" stroke-width="0.6" />
<line x1="146.25" y1="598.5" x2="148.64999999999998" y2="598.5" stroke="#444" stroke-width="0.6" />
<rect x="145.30" y="601.70" width="4.30" height="61.00" fill="#4a4a4a" stroke="#000" stroke-width="0.8"/>
<line x1="151.75" y1="632.4370000000001" x2="151.75" y2="634.6400000000001" stroke="#444" stroke-width="0.6" />
<line x1="150.55" y1="632.4370000000001" x2="152.95" y2="632.4370000000001" stroke="#444" stroke-width="0.6" />
<rect x="149.60" y="634.64" width="4.30" height="28.06" fill="#000" stroke="#000" stroke-width="0.8"/>
<line x1="156.54999999999998" y1="662.7" x2="156.54999999999998" y2="660.7" stroke="#000" stroke-width="0.8" />
<text x="148.29999999999998" y="673.0" text-anchor="end" style="font-size:7.9px;font-weight:bold;stroke:#111;stroke-width:0.3px;" transform="rotate(-46 148.29999999999998 673.0)" >Pten-P4m</text>
<line x1="161.35" y1="576.54" x2="161.35" y2="582.94" stroke="#444" stroke-width="0.6" />
<line x1="160.15" y1="576.54" x2="162.54999999999998" y2="576.54" stroke="#444" stroke-width="0.6" />
<rect x="159.20" y="579.74" width="4.30" height="82.96" fill="#fff" stroke="#000" stroke-width="0.8"/>
<line x1="165.65" y1="580.81" x2="165.65" y2="584.01" stroke="#444" stroke-width="0.6" />
<line x1="164.45000000000002" y1="580.81" x2="166.85" y2="580.81" stroke="#444" stroke-width="0.6" />
<rect x="163.50" y="584.01" width="4.30" height="78.69" fill="#8c8c8c" stroke="#000" stroke-width="0.8"/>
<line x1="169.95" y1="600.94" x2="169.95" y2="604.1400000000001" stroke="#444" stroke-width="0.6" />
<line x1="168.75" y1="600.94" x2="171.14999999999998" y2="600.94" stroke="#444" stroke-width="0.6" />
<rect x="167.80" y="604.14" width="4.30" height="58.56" fill="#4a4a4a" stroke="#000" stroke-width="0.8"/>
<line x1="174.25" y1="626.6725000000001" x2="174.25" y2="629.1500000000001" stroke="#444" stroke-width="0.6" />
<line x1="173.05" y1="626.6725000000001" x2="175.45" y2="626.6725000000001" stroke="#444" stroke-width="0.6" />
<rect x="172.10" y="629.15" width="4.30" height="33.55" fill="#000" stroke="#000" stroke-width="0.8"/>
<line x1="179.04999999999998" y1="662.7" x2="179.04999999999998" y2="660.7" stroke="#000" stroke-width="0.8" />
<text x="171.99999999999997" y="671.0" text-anchor="end" style="font-size:7.9px;font-weight:bold;stroke:#111;stroke-width:0.3px;" transform="rotate(-46 171.99999999999997 671.0)" >Pten-P5</text>
<line x1="183.85" y1="569.83" x2="183.85" y2="576.2300000000001" stroke="#444" stroke-width="0.6" />
<line x1="182.65" y1="569.83" x2="185.04999999999998" y2="569.83" stroke="#444" stroke-width="0.6" />
<rect x="181.70" y="573.03" width="4.30" height="89.67" fill="#fff" stroke="#000" stroke-width="0.8"/>
<line x1="188.15" y1="576.54" x2="188.15" y2="579.74" stroke="#444" stroke-width="0.6" />
<line x1="186.95000000000002" y1="576.54" x2="189.35" y2="576.54" stroke="#444" stroke-width="0.6" />
<rect x="186.00" y="579.74" width="4.30" height="82.96" fill="#8c8c8c" stroke="#000" stroke-width="0.8"/>
<line x1="192.45" y1="575.9300000000001" x2="192.45" y2="579.1300000000001" stroke="#444" stroke-width="0.6" />
<line x1="191.25" y1="575.9300000000001" x2="193.64999999999998" y2="575.9300000000001" stroke="#444" stroke-width="0.6" />
<rect x="190.30" y="579.13" width="4.30" height="83.57" fill="#4a4a4a" stroke="#000" stroke-width="0.8"/>
<line x1="196.75" y1="584.47" x2="196.75" y2="587.6700000000001" stroke="#444" stroke-width="0.6" />
<line x1="195.55" y1="584.47" x2="197.95" y2="584.47" stroke="#444" stroke-width="0.6" />
<rect x="194.60" y="587.67" width="4.30" height="75.03" fill="#000" stroke="#000" stroke-width="0.8"/>
<line x1="201.54999999999998" y1="662.7" x2="201.54999999999998" y2="660.7" stroke="#000" stroke-width="0.8" />
<text x="193.29999999999998" y="673.0" text-anchor="end" style="font-size:7.9px;font-weight:bold;stroke:#111;stroke-width:0.3px;" transform="rotate(-46 193.29999999999998 673.0)" >Pten-P5m</text>
<line x1="206.35" y1="627.313" x2="206.35" y2="632.207" stroke="#444" stroke-width="0.6" />
<line x1="205.15" y1="627.313" x2="207.54999999999998" y2="627.313" stroke="#444" stroke-width="0.6" />
<rect x="204.20" y="629.76" width="4.30" height="32.94" fill="#fff" stroke="#000" stroke-width="0.8"/>
<line x1="210.65" y1="627.313" x2="210.65" y2="629.76" stroke="#444" stroke-width="0.6" />
<line x1="209.45000000000002" y1="627.313" x2="211.85" y2="627.313" stroke="#444" stroke-width="0.6" />
<rect x="208.50" y="629.76" width="4.30" height="32.94" fill="#8c8c8c" stroke="#000" stroke-width="0.8"/>
<line x1="214.95" y1="641.4040000000001" x2="214.95" y2="643.1800000000001" stroke="#444" stroke-width="0.6" />
<line x1="213.75" y1="641.4040000000001" x2="216.14999999999998" y2="641.4040000000001" stroke="#444" stroke-width="0.6" />
<rect x="212.80" y="643.18" width="4.30" height="19.52" fill="#4a4a4a" stroke="#000" stroke-width="0.8"/>
<line x1="219.25" y1="651.652" x2="219.25" y2="652.94" stroke="#444" stroke-width="0.6" />
<line x1="218.05" y1="651.652" x2="220.45" y2="651.652" stroke="#444" stroke-width="0.6" />
<rect x="217.10" y="652.94" width="4.30" height="9.76" fill="#000" stroke="#000" stroke-width="0.8"/>
<line x1="224.04999999999998" y1="662.7" x2="224.04999999999998" y2="660.7" stroke="#000" stroke-width="0.8" />
<text x="216.99999999999997" y="671.0" text-anchor="end" style="font-size:7.9px;font-weight:bold;stroke:#111;stroke-width:0.3px;" transform="rotate(-46 216.99999999999997 671.0)" >Pten-P6</text>
<line x1="228.85" y1="633.718" x2="228.85" y2="638.0020000000001" stroke="#444" stroke-width="0.6" />
<line x1="227.65" y1="633.718" x2="230.04999999999998" y2="633.718" stroke="#444" stroke-width="0.6" />
<rect x="226.70" y="635.86" width="4.30" height="26.84" fill="#fff" stroke="#000" stroke-width="0.8"/>
<line x1="233.15" y1="639.4825000000001" x2="233.15" y2="641.35" stroke="#444" stroke-width="0.6" />
<line x1="231.95000000000002" y1="639.4825000000001" x2="234.35" y2="639.4825000000001" stroke="#444" stroke-width="0.6" />
<rect x="231.00" y="641.35" width="4.30" height="21.35" fill="#8c8c8c" stroke="#000" stroke-width="0.8"/>
<line x1="237.45" y1="642.6850000000001" x2="237.45" y2="644.4000000000001" stroke="#444" stroke-width="0.6" />
<line x1="236.25" y1="642.6850000000001" x2="238.64999999999998" y2="642.6850000000001" stroke="#444" stroke-width="0.6" />
<rect x="235.30" y="644.40" width="4.30" height="18.30" fill="#4a4a4a" stroke="#000" stroke-width="0.8"/>
<line x1="241.75" y1="651.652" x2="241.75" y2="652.94" stroke="#444" stroke-width="0.6" />
<line x1="240.55" y1="651.652" x2="242.95" y2="651.652" stroke="#444" stroke-width="0.6" />
<rect x="239.60" y="652.94" width="4.30" height="9.76" fill="#000" stroke="#000" stroke-width="0.8"/>
<line x1="246.54999999999998" y1="662.7" x2="246.54999999999998" y2="660.7" stroke="#000" stroke-width="0.8" />
<text x="238.29999999999998" y="673.0" text-anchor="end" style="font-size:7.9px;font-weight:bold;stroke:#111;stroke-width:0.3px;" transform="rotate(-46 238.29999999999998 673.0)" >Pten-P6m</text>
<line x1="251.35" y1="649.09" x2="251.35" y2="651.91" stroke="#444" stroke-width="0.6" />
<line x1="250.15" y1="649.09" x2="252.54999999999998" y2="649.09" stroke="#444" stroke-width="0.6" />
<rect x="249.20" y="650.50" width="4.30" height="12.20" fill="#fff" stroke="#000" stroke-width="0.8"/>
<line x1="255.65" y1="649.7305" x2="255.65" y2="651.11" stroke="#444" stroke-width="0.6" />
<line x1="254.45000000000002" y1="649.7305" x2="256.85" y2="649.7305" stroke="#444" stroke-width="0.6" />
<rect x="253.50" y="651.11" width="4.30" height="11.59" fill="#8c8c8c" stroke="#000" stroke-width="0.8"/>
<line x1="259.95" y1="651.0115000000001" x2="259.95" y2="652.33" stroke="#444" stroke-width="0.6" />
<line x1="258.75" y1="651.0115000000001" x2="261.15" y2="651.0115000000001" stroke="#444" stroke-width="0.6" />
<rect x="257.80" y="652.33" width="4.30" height="10.37" fill="#4a4a4a" stroke="#000" stroke-width="0.8"/>
<line x1="264.24999999999994" y1="651.652" x2="264.24999999999994" y2="652.94" stroke="#444" stroke-width="0.6" />
<line x1="263.04999999999995" y1="651.652" x2="265.44999999999993" y2="651.652" stroke="#444" stroke-width="0.6" />
<rect x="262.10" y="652.94" width="4.30" height="9.76" fill="#000" stroke="#000" stroke-width="0.8"/>
<line x1="269.04999999999995" y1="662.7" x2="269.04999999999995" y2="660.7" stroke="#000" stroke-width="0.8" />
<text x="262.0" y="671.0" text-anchor="end" style="font-size:7.9px;font-weight:bold;stroke:#111;stroke-width:0.3px;" transform="rotate(-46 262.0 671.0)" >Pten-P7</text>
<rect x="203.70" y="557.50" width="5.50" height="5.50" fill="#fff" stroke="#000" stroke-width="0.9"/>
<text x="211.5" y="562.5999999999999" text-anchor="start" style="font-size:8.1px;font-weight:bold;stroke:#111;stroke-width:0.3px;" >293T-Mock</text>
<rect x="203.70" y="569.00" width="5.50" height="5.50" fill="#8c8c8c" stroke="#000" stroke-width="0.9"/>
<text x="211.5" y="574.0999999999999" text-anchor="start" style="font-size:8.1px;font-weight:bold;stroke:#111;stroke-width:0.3px;" >293T-A/E (10ng)</text>
<rect x="203.70" y="580.50" width="5.50" height="5.50" fill="#4a4a4a" stroke="#000" stroke-width="0.9"/>
<text x="211.5" y="585.5999999999999" text-anchor="start" style="font-size:8.1px;font-weight:bold;stroke:#111;stroke-width:0.3px;" >293T-A/E (50ng)</text>
<rect x="203.70" y="591.60" width="5.50" height="5.50" fill="#000" stroke="#000" stroke-width="0.9"/>
<text x="211.5" y="596.6999999999999" text-anchor="start" style="font-size:8.1px;font-weight:bold;stroke:#111;stroke-width:0.3px;" >293T-A/E (100ng)</text>
</g>
<g id="panelF">
<text x="301.6" y="210.4" text-anchor="start" style="font-size:15.6px;font-weight:bold;stroke:#111;stroke-width:0.3px;" >F</text>
<text x="376.2" y="206.4" text-anchor="start" style="font-size:8.2px;" >AML1 (-2033) relative to Pten (+1)</text>
<line x1="375.5" y1="208.6" x2="502.5" y2="208.6" stroke="#000" stroke-width="0.9" />
<text x="323.3" y="221.3" text-anchor="start" style="font-size:8.2px;" >CpG Sites</text>
<text x="365.5" y="221.3" text-anchor="start" style="font-size:7.7px;" >1</text>
<text x="412" y="221.3" text-anchor="middle" style="font-size:7.7px;" >10</text>
<text x="459.7" y="221.3" text-anchor="middle" style="font-size:7.7px;" >20</text>
<text x="488.7" y="221.3" text-anchor="middle" style="font-size:7.7px;" >26</text>
<text x="505.5" y="221.3" text-anchor="start" style="font-size:7.7px;" >%</text>
<path d="M418.7 209V219" stroke="#000" stroke-width="1.1"/><path d="M418.7 224L415.8 217.5H421.6Z" fill="#000"/>
<rect x="365.20000000000005" y="224" width="122.60000000000001" height="24.8" fill="#909090"/>
<path d="M366.25 224h3.4v24.8h-3.4zM370.95 224h3.4v24.8h-3.4zM375.65 224h3.4v24.8h-3.4zM380.35 224h3.4v24.8h-3.4zM385.05 224h3.4v24.8h-3.4zM389.75 224h3.4v24.8h-3.4zM394.45 224h3.4v24.8h-3.4zM399.15 224h3.4v24.8h-3.4zM403.85 224h3.4v24.8h-3.4zM408.55 224h3.4v24.8h-3.4zM413.25 224h3.4v24.8h-3.4zM417.95 224h3.4v24.8h-3.4zM422.65 224h3.4v24.8h-3.4zM427.35 224h3.4v24.8h-3.4zM432.05 224h3.4v24.8h-3.4zM436.75 224h3.4v24.8h-3.4zM441.45 224h3.4v24.8h-3.4zM446.15 224h3.4v24.8h-3.4zM450.85 224h3.4v24.8h-3.4zM455.55 224h3.4v24.8h-3.4zM460.25 224h3.4v24.8h-3.4zM464.95 224h3.4v24.8h-3.4zM469.65 224h3.4v24.8h-3.4zM474.35 224h3.4v24.8h-3.4zM479.05 224h3.4v24.8h-3.4zM483.75 224h3.4v24.8h-3.4z" fill="#000"/>
<path d="M366.95 224.44h2v1.6h-2zM371.65 224.44h2v1.6h-2zM376.35 224.44h2v1.6h-2zM381.05 224.44h2v1.6h-2zM385.75 224.44h2v1.6h-2zM390.45 224.44h2v1.6h-2zM395.15 224.44h2v1.6h-2zM399.85 224.44h2v1.6h-2zM404.55 224.44h2v1.6h-2zM409.25 224.44h2v1.6h-2zM413.95 224.44h2v1.6h-2zM418.65 224.44h2v1.6h-2zM423.35 224.44h2v1.6h-2zM432.75 224.44h2v1.6h-2zM437.45 224.44h2v1.6h-2zM442.15 224.44h2v1.6h-2zM446.85 224.44h2v1.6h-2zM451.55 224.44h2v1.6h-2zM456.25 224.44h2v1.6h-2zM465.65 224.44h2v1.6h-2zM470.35 224.44h2v1.6h-2zM475.05 224.44h2v1.6h-2zM479.75 224.44h2v1.6h-2zM484.45 224.44h2v1.6h-2zM366.95 226.92h2v1.6h-2zM371.65 226.92h2v1.6h-2zM376.35 226.92h2v1.6h-2zM381.05 226.92h2v1.6h-2zM385.75 226.92h2v1.6h-2zM390.45 226.92h2v1.6h-2zM395.15 226.92h2v1.6h-2zM399.85 226.92h2v1.6h-2zM404.55 226.92h2v1.6h-2zM409.25 226.92h2v1.6h-2zM413.95 226.92h2v1.6h-2zM418.65 226.92h2v1.6h-2zM423.35 226.92h2v1.6h-2zM428.05 226.92h2v1.6h-2zM432.75 226.92h2v1.6h-2zM437.45 226.92h2v1.6h-2zM442.15 226.92h2v1.6h-2zM446.85 226.92h2v1.6h-2zM451.55 226.92h2v1.6h-2zM456.25 226.92h2v1.6h-2zM460.95 226.92h2v1.6h-2zM465.65 226.92h2v1.6h-2zM470.35 226.92h2v1.6h-2zM475.05 226.92h2v1.6h-2zM479.75 226.92h2v1.6h-2zM484.45 226.92h2v1.6h-2zM366.95 229.4h2v1.6h-2zM371.65 229.4h2v1.6h-2zM376.35 229.4h2v1.6h-2zM381.05 229.4h2v1.6h-2zM385.75 229.4h2v1.6h-2zM390.45 229.4h2v1.6h-2zM395.15 229.4h2v1.6h-2zM399.85 229.4h2v1.6h-2zM404.55 229.4h2v1.6h-2zM409.25 229.4h2v1.6h-2zM413.95 229.4h2v1.6h-2zM418.65 229.4h2v1.6h-2zM423.35 229.4h2v1.6h-2zM428.05 229.4h2v1.6h-2zM432.75 229.4h2v1.6h-2zM437.45 229.4h2v1.6h-2zM442.15 229.4h2v1.6h-2zM446.85 229.4h2v1.6h-2zM451.55 229.4h2v1.6h-2zM456.25 229.4h2v1.6h-2zM460.95 229.4h2v1.6h-2zM465.65 229.4h2v1.6h-2zM470.35 229.4h2v1.6h-2zM475.05 229.4h2v1.6h-2zM479.75 229.4h2v1.6h-2zM484.45 229.4h2v1.6h-2zM366.95 231.88h2v1.6h-2zM371.65 231.88h2v1.6h-2zM376.35 231.88h2v1.6h-2zM381.05 231.88h2v1.6h-2zM385.75 231.88h2v1.6h-2zM390.45 231.88h2v1.6h-2zM395.15 231.88h2v1.6h-2zM399.85 231.88h2v1.6h-2zM404.55 231.88h2v1.6h-2zM409.25 231.88h2v1.6h-2zM413.95 231.88h2v1.6h-2zM418.65 231.88h2v1.6h-2zM423.35 231.88h2v1.6h-2zM428.05 231.88h2v1.6h-2zM432.75 231.88h2v1.6h-2zM437.45 231.88h2v1.6h-2zM442.15 231.88h2v1.6h-2zM446.85 231.88h2v1.6h-2zM451.55 231.88h2v1.6h-2zM456.25 231.88h2v1.6h-2zM460.95 231.88h2v1.6h-2zM465.65 231.88h2v1.6h-2zM470.35 231.88h2v1.6h-2zM475.05 231.88h2v1.6h-2zM479.75 231.88h2v1.6h-2zM484.45 231.88h2v1.6h-2zM366.95 234.36h2v1.6h-2zM371.65 234.36h2v1.6h-2zM376.35 234.36h2v1.6h-2zM381.05 234.36h2v1.6h-2zM385.75 234.36h2v1.6h-2zM390.45 234.36h2v1.6h-2zM395.15 234.36h2v1.6h-2zM404.55 234.36h2v1.6h-2zM409.25 234.36h2v1.6h-2zM413.95 234.36h2v1.6h-2zM418.65 234.36h2v1.6h-2zM423.35 234.36h2v1.6h-2zM428.05 234.36h2v1.6h-2zM432.75 234.36h2v1.6h-2zM437.45 234.36h2v1.6h-2zM442.15 234.36h2v1.6h-2zM446.85 234.36h2v1.6h-2zM451.55 234.36h2v1.6h-2zM456.25 234.36h2v1.6h-2zM460.95 234.36h2v1.6h-2zM465.65 234.36h2v1.6h-2zM470.35 234.36h2v1.6h-2zM475.05 234.36h2v1.6h-2zM479.75 234.36h2v1.6h-2zM484.45 234.36h2v1.6h-2zM366.95 236.84h2v1.6h-2zM371.65 236.84h2v1.6h-2zM376.35 236.84h2v1.6h-2zM381.05 236.84h2v1.6h-2zM385.75 236.84h2v1.6h-2zM390.45 236.84h2v1.6h-2zM395.15 236.84h2v1.6h-2zM399.85 236.84h2v1.6h-2zM404.55 236.84h2v1.6h-2zM409.25 236.84h2v1.6h-2zM413.95 236.84h2v1.6h-2zM418.65 236.84h2v1.6h-2zM423.35 236.84h2v1.6h-2zM428.05 236.84h2v1.6h-2zM432.75 236.84h2v1.6h-2zM437.45 236.84h2v1.6h-2zM442.15 236.84h2v1.6h-2zM446.85 236.84h2v1.6h-2zM451.55 236.84h2v1.6h-2zM456.25 236.84h2v1.6h-2zM460.95 236.84h2v1.6h-2zM465.65 236.84h2v1.6h-2zM470.35 236.84h2v1.6h-2zM475.05 236.84h2v1.6h-2zM479.75 236.84h2v1.6h-2zM484.45 236.84h2v1.6h-2zM366.95 239.32h2v1.6h-2zM371.65 239.32h2v1.6h-2zM376.35 239.32h2v1.6h-2zM381.05 239.32h2v1.6h-2zM385.75 239.32h2v1.6h-2zM390.45 239.32h2v1.6h-2zM395.15 239.32h2v1.6h-2zM399.85 239.32h2v1.6h-2zM404.55 239.32h2v1.6h-2zM409.25 239.32h2v1.6h-2zM413.95 239.32h2v1.6h-2zM418.65 239.32h2v1.6h-2zM423.35 239.32h2v1.6h-2zM428.05 239.32h2v1.6h-2zM432.75 239.32h2v1.6h-2zM437.45 239.32h2v1.6h-2zM442.15 239.32h2v1.6h-2zM446.85 239.32h2v1.6h-2zM451.55 239.32h2v1.6h-2zM456.25 239.32h2v1.6h-2zM460.95 239.32h2v1.6h-2zM465.65 239.32h2v1.6h-2zM470.35 239.32h2v1.6h-2zM475.05 239.32h2v1.6h-2zM479.75 239.32h2v1.6h-2zM484.45 239.32h2v1.6h-2zM366.95 241.8h2v1.6h-2zM371.65 241.8h2v1.6h-2zM376.35 241.8h2v1.6h-2zM381.05 241.8h2v1.6h-2zM385.75 241.8h2v1.6h-2zM390.45 241.8h2v1.6h-2zM395.15 241.8h2v1.6h-2zM399.85 241.8h2v1.6h-2zM404.55 241.8h2v1.6h-2zM409.25 241.8h2v1.6h-2zM413.95 241.8h2v1.6h-2zM418.65 241.8h2v1.6h-2zM423.35 241.8h2v1.6h-2zM428.05 241.8h2v1.6h-2zM432.75 241.8h2v1.6h-2zM437.45 241.8h2v1.6h-2zM442.15 241.8h2v1.6h-2zM446.85 241.8h2v1.6h-2zM451.55 241.8h2v1.6h-2zM456.25 241.8h2v1.6h-2zM460.95 241.8h2v1.6h-2zM465.65 241.8h2v1.6h-2zM470.35 241.8h2v1.6h-2zM475.05 241.8h2v1.6h-2zM479.75 241.8h2v1.6h-2zM484.45 241.8h2v1.6h-2zM366.95 244.28h2v1.6h-2zM371.65 244.28h2v1.6h-2zM376.35 244.28h2v1.6h-2zM381.05 244.28h2v1.6h-2zM385.75 244.28h2v1.6h-2zM390.45 244.28h2v1.6h-2zM395.15 244.28h2v1.6h-2zM399.85 244.28h2v1.6h-2zM404.55 244.28h2v1.6h-2zM409.25 244.28h2v1.6h-2zM413.95 244.28h2v1.6h-2zM418.65 244.28h2v1.6h-2zM423.35 244.28h2v1.6h-2zM428.05 244.28h2v1.6h-2zM432.75 244.28h2v1.6h-2zM437.45 244.28h2v1.6h-2zM442.15 244.28h2v1.6h-2zM446.85 244.28h2v1.6h-2zM451.55 244.28h2v1.6h-2zM456.25 244.28h2v1.6h-2zM460.95 244.28h2v1.6h-2zM465.65 244.28h2v1.6h-2zM470.35 244.28h2v1.6h-2zM475.05 244.28h2v1.6h-2zM479.75 244.28h2v1.6h-2zM484.45 244.28h2v1.6h-2zM366.95 246.76h2v1.6h-2zM371.65 246.76h2v1.6h-2zM376.35 246.76h2v1.6h-2zM381.05 246.76h2v1.6h-2zM385.75 246.76h2v1.6h-2zM390.45 246.76h2v1.6h-2zM395.15 246.76h2v1.6h-2zM399.85 246.76h2v1.6h-2zM404.55 246.76h2v1.6h-2zM409.25 246.76h2v1.6h-2zM413.95 246.76h2v1.6h-2zM418.65 246.76h2v1.6h-2zM423.35 246.76h2v1.6h-2zM428.05 246.76h2v1.6h-2zM432.75 246.76h2v1.6h-2zM437.45 246.76h2v1.6h-2zM442.15 246.76h2v1.6h-2zM446.85 246.76h2v1.6h-2zM451.55 246.76h2v1.6h-2zM456.25 246.76h2v1.6h-2zM460.95 246.76h2v1.6h-2zM465.65 246.76h2v1.6h-2zM470.35 246.76h2v1.6h-2zM475.05 246.76h2v1.6h-2zM479.75 246.76h2v1.6h-2zM484.45 246.76h2v1.6h-2z" fill="#fff"/>
<text x="355.8" y="239.0" text-anchor="end" style="font-size:8.1px;font-weight:bold;stroke:#111;stroke-width:0.3px;" >CD34+</text>
<text x="494.5" y="239.3" text-anchor="start" style="font-size:7.9px;" >1.1%</text>
<rect x="365.20000000000005" y="252" width="122.60000000000001" height="25.9" fill="#909090"/>
<path d="M366.25 252h3.4v25.9h-3.4zM370.95 252h3.4v25.9h-3.4zM375.65 252h3.4v25.9h-3.4zM380.35 252h3.4v25.9h-3.4zM385.05 252h3.4v25.9h-3.4zM389.75 252h3.4v25.9h-3.4zM394.45 252h3.4v25.9h-3.4zM399.15 252h3.4v25.9h-3.4zM403.85 252h3.4v25.9h-3.4zM408.55 252h3.4v25.9h-3.4zM413.25 252h3.4v25.9h-3.4zM417.95 252h3.4v25.9h-3.4zM422.65 252h3.4v25.9h-3.4zM427.35 252h3.4v25.9h-3.4zM432.05 252h3.4v25.9h-3.4zM436.75 252h3.4v25.9h-3.4zM441.45 252h3.4v25.9h-3.4zM446.15 252h3.4v25.9h-3.4zM450.85 252h3.4v25.9h-3.4zM455.55 252h3.4v25.9h-3.4zM460.25 252h3.4v25.9h-3.4zM464.95 252h3.4v25.9h-3.4zM469.65 252h3.4v25.9h-3.4zM474.35 252h3.4v25.9h-3.4zM479.05 252h3.4v25.9h-3.4zM483.75 252h3.4v25.9h-3.4z" fill="#000"/>
<path d="M366.95 252.49h2v1.6h-2zM376.35 252.49h2v1.6h-2zM381.05 252.49h2v1.6h-2zM385.75 252.49h2v1.6h-2zM390.45 252.49h2v1.6h-2zM395.15 252.49h2v1.6h-2zM399.85 252.49h2v1.6h-2zM404.55 252.49h2v1.6h-2zM418.65 252.49h2v1.6h-2zM446.85 252.49h2v1.6h-2zM456.25 252.49h2v1.6h-2zM475.05 252.49h2v1.6h-2zM484.45 252.49h2v1.6h-2zM366.95 255.08h2v1.6h-2zM376.35 255.08h2v1.6h-2zM385.75 255.08h2v1.6h-2zM409.25 255.08h2v1.6h-2zM418.65 255.08h2v1.6h-2zM432.75 255.08h2v1.6h-2zM437.45 255.08h2v1.6h-2zM451.55 255.08h2v1.6h-2zM456.25 255.08h2v1.6h-2zM460.95 255.08h2v1.6h-2zM475.05 255.08h2v1.6h-2zM366.95 257.68h2v1.6h-2zM371.65 257.68h2v1.6h-2zM376.35 257.68h2v1.6h-2zM385.75 257.68h2v1.6h-2zM390.45 257.68h2v1.6h-2zM395.15 257.68h2v1.6h-2zM404.55 257.68h2v1.6h-2zM409.25 257.68h2v1.6h-2zM413.95 257.68h2v1.6h-2zM418.65 257.68h2v1.6h-2zM423.35 257.68h2v1.6h-2zM428.05 257.68h2v1.6h-2zM442.15 257.68h2v1.6h-2zM451.55 257.68h2v1.6h-2zM465.65 257.68h2v1.6h-2zM470.35 257.68h2v1.6h-2zM475.05 257.68h2v1.6h-2zM484.45 257.68h2v1.6h-2zM376.35 260.26h2v1.6h-2zM385.75 260.26h2v1.6h-2zM395.15 260.26h2v1.6h-2zM399.85 260.26h2v1.6h-2zM413.95 260.26h2v1.6h-2zM418.65 260.26h2v1.6h-2zM423.35 260.26h2v1.6h-2zM428.05 260.26h2v1.6h-2zM437.45 260.26h2v1.6h-2zM442.15 260.26h2v1.6h-2zM446.85 260.26h2v1.6h-2zM456.25 260.26h2v1.6h-2zM460.95 260.26h2v1.6h-2zM475.05 260.26h2v1.6h-2zM484.45 260.26h2v1.6h-2zM366.95 262.85h2v1.6h-2zM376.35 262.85h2v1.6h-2zM381.05 262.85h2v1.6h-2zM385.75 262.85h2v1.6h-2zM390.45 262.85h2v1.6h-2zM395.15 262.85h2v1.6h-2zM399.85 262.85h2v1.6h-2zM409.25 262.85h2v1.6h-2zM423.35 262.85h2v1.6h-2zM432.75 262.85h2v1.6h-2zM456.25 262.85h2v1.6h-2zM460.95 262.85h2v1.6h-2zM470.35 262.85h2v1.6h-2zM366.95 265.44h2v1.6h-2zM371.65 265.44h2v1.6h-2zM381.05 265.44h2v1.6h-2zM385.75 265.44h2v1.6h-2zM404.55 265.44h2v1.6h-2zM423.35 265.44h2v1.6h-2zM428.05 265.44h2v1.6h-2zM437.45 265.44h2v1.6h-2zM442.15 265.44h2v1.6h-2zM451.55 265.44h2v1.6h-2zM456.25 265.44h2v1.6h-2zM465.65 265.44h2v1.6h-2zM475.05 265.44h2v1.6h-2zM479.75 265.44h2v1.6h-2zM484.45 265.44h2v1.6h-2zM366.95 268.03h2v1.6h-2zM371.65 268.03h2v1.6h-2zM376.35 268.03h2v1.6h-2zM385.75 268.03h2v1.6h-2zM390.45 268.03h2v1.6h-2zM409.25 268.03h2v1.6h-2zM413.95 268.03h2v1.6h-2zM418.65 268.03h2v1.6h-2zM432.75 268.03h2v1.6h-2zM437.45 268.03h2v1.6h-2zM442.15 268.03h2v1.6h-2zM446.85 268.03h2v1.6h-2zM451.55 268.03h2v1.6h-2zM456.25 268.03h2v1.6h-2zM460.95 268.03h2v1.6h-2zM470.35 268.03h2v1.6h-2zM475.05 268.03h2v1.6h-2zM484.45 268.03h2v1.6h-2zM381.05 270.62h2v1.6h-2zM385.75 270.62h2v1.6h-2zM390.45 270.62h2v1.6h-2zM395.15 270.62h2v1.6h-2zM404.55 270.62h2v1.6h-2zM409.25 270.62h2v1.6h-2zM423.35 270.62h2v1.6h-2zM432.75 270.62h2v1.6h-2zM470.35 270.62h2v1.6h-2zM475.05 270.62h2v1.6h-2zM371.65 273.21h2v1.6h-2zM376.35 273.21h2v1.6h-2zM385.75 273.21h2v1.6h-2zM395.15 273.21h2v1.6h-2zM413.95 273.21h2v1.6h-2zM437.45 273.21h2v1.6h-2zM446.85 273.21h2v1.6h-2zM451.55 273.21h2v1.6h-2zM456.25 273.21h2v1.6h-2zM465.65 273.21h2v1.6h-2zM475.05 273.21h2v1.6h-2zM479.75 273.21h2v1.6h-2zM484.45 273.21h2v1.6h-2zM376.35 275.8h2v1.6h-2zM395.15 275.8h2v1.6h-2zM399.85 275.8h2v1.6h-2zM404.55 275.8h2v1.6h-2zM418.65 275.8h2v1.6h-2zM428.05 275.8h2v1.6h-2zM442.15 275.8h2v1.6h-2zM456.25 275.8h2v1.6h-2zM460.95 275.8h2v1.6h-2zM475.05 275.8h2v1.6h-2zM484.45 275.8h2v1.6h-2z" fill="#fff"/>
<text x="357.6" y="265.59999999999997" text-anchor="end" style="font-size:8.1px;font-weight:bold;stroke:#111;stroke-width:0.3px;" >HL-60</text>
<text x="494.5" y="267.84999999999997" text-anchor="start" style="font-size:7.9px;" >47.2%</text>
<rect x="365.20000000000005" y="280.2" width="122.60000000000001" height="26.6" fill="#909090"/>
<path d="M366.25 280.2h3.4v26.6h-3.4zM370.95 280.2h3.4v26.6h-3.4zM375.65 280.2h3.4v26.6h-3.4zM380.35 280.2h3.4v26.6h-3.4zM385.05 280.2h3.4v26.6h-3.4zM389.75 280.2h3.4v26.6h-3.4zM394.45 280.2h3.4v26.6h-3.4zM399.15 280.2h3.4v26.6h-3.4zM403.85 280.2h3.4v26.6h-3.4zM408.55 280.2h3.4v26.6h-3.4zM413.25 280.2h3.4v26.6h-3.4zM417.95 280.2h3.4v26.6h-3.4zM422.65 280.2h3.4v26.6h-3.4zM427.35 280.2h3.4v26.6h-3.4zM432.05 280.2h3.4v26.6h-3.4zM436.75 280.2h3.4v26.6h-3.4zM441.45 280.2h3.4v26.6h-3.4zM446.15 280.2h3.4v26.6h-3.4zM450.85 280.2h3.4v26.6h-3.4zM455.55 280.2h3.4v26.6h-3.4zM460.25 280.2h3.4v26.6h-3.4zM464.95 280.2h3.4v26.6h-3.4zM469.65 280.2h3.4v26.6h-3.4zM474.35 280.2h3.4v26.6h-3.4zM479.05 280.2h3.4v26.6h-3.4zM483.75 280.2h3.4v26.6h-3.4z" fill="#000"/>
<path d="M376.35 280.73h2v1.6h-2zM451.55 280.73h2v1.6h-2zM376.35 283.39h2v1.6h-2zM413.95 283.39h2v1.6h-2zM446.85 283.39h2v1.6h-2zM451.55 283.39h2v1.6h-2zM479.75 283.39h2v1.6h-2zM484.45 283.39h2v1.6h-2zM376.35 286.05h2v1.6h-2zM395.15 286.05h2v1.6h-2zM451.55 286.05h2v1.6h-2zM465.65 286.05h2v1.6h-2zM475.05 286.05h2v1.6h-2zM413.95 288.71h2v1.6h-2zM470.35 288.71h2v1.6h-2zM432.75 291.37h2v1.6h-2zM395.15 294.03h2v1.6h-2zM404.55 294.03h2v1.6h-2zM460.95 294.03h2v1.6h-2zM376.35 296.69h2v1.6h-2zM423.35 296.69h2v1.6h-2zM446.85 296.69h2v1.6h-2zM456.25 296.69h2v1.6h-2zM376.35 302.01h2v1.6h-2zM395.15 302.01h2v1.6h-2zM413.95 302.01h2v1.6h-2zM432.75 302.01h2v1.6h-2zM446.85 302.01h2v1.6h-2zM451.55 302.01h2v1.6h-2zM484.45 302.01h2v1.6h-2zM376.35 304.67h2v1.6h-2zM404.55 304.67h2v1.6h-2z" fill="#fff"/>
<text x="357.4" y="294.09999999999997" text-anchor="end" style="font-size:8.1px;font-weight:bold;stroke:#111;stroke-width:0.3px;" >SKNO-1</text>
<text x="494.5" y="296.4" text-anchor="start" style="font-size:7.9px;" >89.4%</text>
<rect x="365.20000000000005" y="309.6" width="122.60000000000001" height="23.6" fill="#909090"/>
<path d="M366.25 309.6h3.4v23.6h-3.4zM370.95 309.6h3.4v23.6h-3.4zM375.65 309.6h3.4v23.6h-3.4zM380.35 309.6h3.4v23.6h-3.4zM385.05 309.6h3.4v23.6h-3.4zM389.75 309.6h3.4v23.6h-3.4zM394.45 309.6h3.4v23.6h-3.4zM399.15 309.6h3.4v23.6h-3.4zM403.85 309.6h3.4v23.6h-3.4zM408.55 309.6h3.4v23.6h-3.4zM413.25 309.6h3.4v23.6h-3.4zM417.95 309.6h3.4v23.6h-3.4zM422.65 309.6h3.4v23.6h-3.4zM427.35 309.6h3.4v23.6h-3.4zM432.05 309.6h3.4v23.6h-3.4zM436.75 309.6h3.4v23.6h-3.4zM441.45 309.6h3.4v23.6h-3.4zM446.15 309.6h3.4v23.6h-3.4zM450.85 309.6h3.4v23.6h-3.4zM455.55 309.6h3.4v23.6h-3.4zM460.25 309.6h3.4v23.6h-3.4zM464.95 309.6h3.4v23.6h-3.4zM469.65 309.6h3.4v23.6h-3.4zM474.35 309.6h3.4v23.6h-3.4zM479.05 309.6h3.4v23.6h-3.4zM483.75 309.6h3.4v23.6h-3.4z" fill="#000"/>
<path d="M371.65 309.98h2v1.6h-2zM376.35 309.98h2v1.6h-2zM381.05 309.98h2v1.6h-2zM385.75 309.98h2v1.6h-2zM390.45 309.98h2v1.6h-2zM395.15 309.98h2v1.6h-2zM404.55 309.98h2v1.6h-2zM409.25 309.98h2v1.6h-2zM418.65 309.98h2v1.6h-2zM423.35 309.98h2v1.6h-2zM428.05 309.98h2v1.6h-2zM432.75 309.98h2v1.6h-2zM437.45 309.98h2v1.6h-2zM442.15 309.98h2v1.6h-2zM446.85 309.98h2v1.6h-2zM451.55 309.98h2v1.6h-2zM456.25 309.98h2v1.6h-2zM460.95 309.98h2v1.6h-2zM465.65 309.98h2v1.6h-2zM470.35 309.98h2v1.6h-2zM475.05 309.98h2v1.6h-2zM479.75 309.98h2v1.6h-2zM484.45 309.98h2v1.6h-2zM376.35 312.34h2v1.6h-2zM385.75 312.34h2v1.6h-2zM390.45 312.34h2v1.6h-2zM395.15 312.34h2v1.6h-2zM404.55 312.34h2v1.6h-2zM409.25 312.34h2v1.6h-2zM423.35 312.34h2v1.6h-2zM428.05 312.34h2v1.6h-2zM432.75 312.34h2v1.6h-2zM437.45 312.34h2v1.6h-2zM442.15 312.34h2v1.6h-2zM446.85 312.34h2v1.6h-2zM456.25 312.34h2v1.6h-2zM465.65 312.34h2v1.6h-2zM470.35 312.34h2v1.6h-2zM475.05 312.34h2v1.6h-2zM479.75 312.34h2v1.6h-2zM484.45 312.34h2v1.6h-2zM366.95 314.7h2v1.6h-2zM371.65 314.7h2v1.6h-2zM376.35 314.7h2v1.6h-2zM390.45 314.7h2v1.6h-2zM395.15 314.7h2v1.6h-2zM399.85 314.7h2v1.6h-2zM404.55 314.7h2v1.6h-2zM409.25 314.7h2v1.6h-2zM413.95 314.7h2v1.6h-2zM418.65 314.7h2v1.6h-2zM423.35 314.7h2v1.6h-2zM428.05 314.7h2v1.6h-2zM432.75 314.7h2v1.6h-2zM437.45 314.7h2v1.6h-2zM442.15 314.7h2v1.6h-2zM446.85 314.7h2v1.6h-2zM451.55 314.7h2v1.6h-2zM456.25 314.7h2v1.6h-2zM460.95 314.7h2v1.6h-2zM465.65 314.7h2v1.6h-2zM470.35 314.7h2v1.6h-2zM475.05 314.7h2v1.6h-2zM479.75 314.7h2v1.6h-2zM366.95 317.06h2v1.6h-2zM371.65 317.06h2v1.6h-2zM376.35 317.06h2v1.6h-2zM381.05 317.06h2v1.6h-2zM390.45 317.06h2v1.6h-2zM395.15 317.06h2v1.6h-2zM404.55 317.06h2v1.6h-2zM409.25 317.06h2v1.6h-2zM413.95 317.06h2v1.6h-2zM418.65 317.06h2v1.6h-2zM423.35 317.06h2v1.6h-2zM442.15 317.06h2v1.6h-2zM446.85 317.06h2v1.6h-2zM451.55 317.06h2v1.6h-2zM456.25 317.06h2v1.6h-2zM460.95 317.06h2v1.6h-2zM470.35 317.06h2v1.6h-2zM479.75 317.06h2v1.6h-2zM484.45 317.06h2v1.6h-2zM371.65 319.42h2v1.6h-2zM376.35 319.42h2v1.6h-2zM381.05 319.42h2v1.6h-2zM385.75 319.42h2v1.6h-2zM395.15 319.42h2v1.6h-2zM404.55 319.42h2v1.6h-2zM409.25 319.42h2v1.6h-2zM418.65 319.42h2v1.6h-2zM428.05 319.42h2v1.6h-2zM432.75 319.42h2v1.6h-2zM446.85 319.42h2v1.6h-2zM456.25 319.42h2v1.6h-2zM460.95 319.42h2v1.6h-2zM465.65 319.42h2v1.6h-2zM470.35 319.42h2v1.6h-2zM475.05 319.42h2v1.6h-2zM484.45 319.42h2v1.6h-2zM371.65 321.78h2v1.6h-2zM376.35 321.78h2v1.6h-2zM385.75 321.78h2v1.6h-2zM395.15 321.78h2v1.6h-2zM399.85 321.78h2v1.6h-2zM404.55 321.78h2v1.6h-2zM409.25 321.78h2v1.6h-2zM413.95 321.78h2v1.6h-2zM418.65 321.78h2v1.6h-2zM423.35 321.78h2v1.6h-2zM428.05 321.78h2v1.6h-2zM432.75 321.78h2v1.6h-2zM437.45 321.78h2v1.6h-2zM442.15 321.78h2v1.6h-2zM446.85 321.78h2v1.6h-2zM451.55 321.78h2v1.6h-2zM460.95 321.78h2v1.6h-2zM465.65 321.78h2v1.6h-2zM470.35 321.78h2v1.6h-2zM475.05 321.78h2v1.6h-2zM479.75 321.78h2v1.6h-2zM484.45 321.78h2v1.6h-2zM366.95 324.14h2v1.6h-2zM376.35 324.14h2v1.6h-2zM381.05 324.14h2v1.6h-2zM390.45 324.14h2v1.6h-2zM395.15 324.14h2v1.6h-2zM399.85 324.14h2v1.6h-2zM418.65 324.14h2v1.6h-2zM423.35 324.14h2v1.6h-2zM428.05 324.14h2v1.6h-2zM432.75 324.14h2v1.6h-2zM437.45 324.14h2v1.6h-2zM442.15 324.14h2v1.6h-2zM446.85 324.14h2v1.6h-2zM451.55 324.14h2v1.6h-2zM456.25 324.14h2v1.6h-2zM465.65 324.14h2v1.6h-2zM470.35 324.14h2v1.6h-2zM475.05 324.14h2v1.6h-2zM479.75 324.14h2v1.6h-2zM484.45 324.14h2v1.6h-2zM366.95 326.5h2v1.6h-2zM371.65 326.5h2v1.6h-2zM376.35 326.5h2v1.6h-2zM381.05 326.5h2v1.6h-2zM385.75 326.5h2v1.6h-2zM390.45 326.5h2v1.6h-2zM399.85 326.5h2v1.6h-2zM404.55 326.5h2v1.6h-2zM413.95 326.5h2v1.6h-2zM418.65 326.5h2v1.6h-2zM423.35 326.5h2v1.6h-2zM428.05 326.5h2v1.6h-2zM432.75 326.5h2v1.6h-2zM442.15 326.5h2v1.6h-2zM446.85 326.5h2v1.6h-2zM456.25 326.5h2v1.6h-2zM465.65 326.5h2v1.6h-2zM470.35 326.5h2v1.6h-2zM479.75 326.5h2v1.6h-2zM484.45 326.5h2v1.6h-2zM371.65 328.86h2v1.6h-2zM376.35 328.86h2v1.6h-2zM385.75 328.86h2v1.6h-2zM395.15 328.86h2v1.6h-2zM404.55 328.86h2v1.6h-2zM409.25 328.86h2v1.6h-2zM413.95 328.86h2v1.6h-2zM423.35 328.86h2v1.6h-2zM432.75 328.86h2v1.6h-2zM437.45 328.86h2v1.6h-2zM442.15 328.86h2v1.6h-2zM451.55 328.86h2v1.6h-2zM456.25 328.86h2v1.6h-2zM460.95 328.86h2v1.6h-2zM470.35 328.86h2v1.6h-2zM475.05 328.86h2v1.6h-2zM479.75 328.86h2v1.6h-2zM484.45 328.86h2v1.6h-2zM371.65 331.22h2v1.6h-2zM376.35 331.22h2v1.6h-2zM381.05 331.22h2v1.6h-2zM385.75 331.22h2v1.6h-2zM390.45 331.22h2v1.6h-2zM395.15 331.22h2v1.6h-2zM399.85 331.22h2v1.6h-2zM404.55 331.22h2v1.6h-2zM409.25 331.22h2v1.6h-2zM413.95 331.22h2v1.6h-2zM418.65 331.22h2v1.6h-2zM423.35 331.22h2v1.6h-2zM428.05 331.22h2v1.6h-2zM432.75 331.22h2v1.6h-2zM437.45 331.22h2v1.6h-2zM442.15 331.22h2v1.6h-2zM446.85 331.22h2v1.6h-2zM451.55 331.22h2v1.6h-2zM456.25 331.22h2v1.6h-2zM460.95 331.22h2v1.6h-2zM465.65 331.22h2v1.6h-2zM470.35 331.22h2v1.6h-2zM475.05 331.22h2v1.6h-2zM479.75 331.22h2v1.6h-2zM484.45 331.22h2v1.6h-2z" fill="#fff"/>
<text x="358" y="322.9" text-anchor="end" style="font-size:8.1px;font-weight:bold;stroke:#111;stroke-width:0.3px;" >SKNO-1+5-Aza</text>
<text x="494.5" y="324.29999999999995" text-anchor="start" style="font-size:7.9px;" >18.3%</text>
<rect x="365.20000000000005" y="335.4" width="122.60000000000001" height="24" fill="#909090"/>
<path d="M366.25 335.4h3.4v24h-3.4zM370.95 335.4h3.4v24h-3.4zM375.65 335.4h3.4v24h-3.4zM380.35 335.4h3.4v24h-3.4zM385.05 335.4h3.4v24h-3.4zM389.75 335.4h3.4v24h-3.4zM394.45 335.4h3.4v24h-3.4zM399.15 335.4h3.4v24h-3.4zM403.85 335.4h3.4v24h-3.4zM408.55 335.4h3.4v24h-3.4zM413.25 335.4h3.4v24h-3.4zM417.95 335.4h3.4v24h-3.4zM422.65 335.4h3.4v24h-3.4zM427.35 335.4h3.4v24h-3.4zM432.05 335.4h3.4v24h-3.4zM436.75 335.4h3.4v24h-3.4zM441.45 335.4h3.4v24h-3.4zM446.15 335.4h3.4v24h-3.4zM450.85 335.4h3.4v24h-3.4zM455.55 335.4h3.4v24h-3.4zM460.25 335.4h3.4v24h-3.4zM464.95 335.4h3.4v24h-3.4zM469.65 335.4h3.4v24h-3.4zM474.35 335.4h3.4v24h-3.4zM479.05 335.4h3.4v24h-3.4zM483.75 335.4h3.4v24h-3.4z" fill="#000"/>
<path d="M366.95 335.8h2v1.6h-2zM376.35 335.8h2v1.6h-2zM381.05 335.8h2v1.6h-2zM385.75 335.8h2v1.6h-2zM390.45 335.8h2v1.6h-2zM395.15 335.8h2v1.6h-2zM399.85 335.8h2v1.6h-2zM404.55 335.8h2v1.6h-2zM418.65 335.8h2v1.6h-2zM446.85 335.8h2v1.6h-2zM456.25 335.8h2v1.6h-2zM475.05 335.8h2v1.6h-2zM484.45 335.8h2v1.6h-2zM366.95 338.2h2v1.6h-2zM376.35 338.2h2v1.6h-2zM385.75 338.2h2v1.6h-2zM409.25 338.2h2v1.6h-2zM418.65 338.2h2v1.6h-2zM432.75 338.2h2v1.6h-2zM437.45 338.2h2v1.6h-2zM451.55 338.2h2v1.6h-2zM456.25 338.2h2v1.6h-2zM460.95 338.2h2v1.6h-2zM475.05 338.2h2v1.6h-2zM366.95 340.6h2v1.6h-2zM371.65 340.6h2v1.6h-2zM376.35 340.6h2v1.6h-2zM385.75 340.6h2v1.6h-2zM390.45 340.6h2v1.6h-2zM395.15 340.6h2v1.6h-2zM404.55 340.6h2v1.6h-2zM409.25 340.6h2v1.6h-2zM413.95 340.6h2v1.6h-2zM418.65 340.6h2v1.6h-2zM423.35 340.6h2v1.6h-2zM428.05 340.6h2v1.6h-2zM442.15 340.6h2v1.6h-2zM451.55 340.6h2v1.6h-2zM465.65 340.6h2v1.6h-2zM470.35 340.6h2v1.6h-2zM475.05 340.6h2v1.6h-2zM484.45 340.6h2v1.6h-2zM376.35 343h2v1.6h-2zM385.75 343h2v1.6h-2zM395.15 343h2v1.6h-2zM399.85 343h2v1.6h-2zM413.95 343h2v1.6h-2zM418.65 343h2v1.6h-2zM423.35 343h2v1.6h-2zM428.05 343h2v1.6h-2zM437.45 343h2v1.6h-2zM442.15 343h2v1.6h-2zM446.85 343h2v1.6h-2zM456.25 343h2v1.6h-2zM460.95 343h2v1.6h-2zM475.05 343h2v1.6h-2zM484.45 343h2v1.6h-2zM366.95 345.4h2v1.6h-2zM376.35 345.4h2v1.6h-2zM381.05 345.4h2v1.6h-2zM385.75 345.4h2v1.6h-2zM390.45 345.4h2v1.6h-2zM395.15 345.4h2v1.6h-2zM399.85 345.4h2v1.6h-2zM404.55 345.4h2v1.6h-2zM409.25 345.4h2v1.6h-2zM423.35 345.4h2v1.6h-2zM432.75 345.4h2v1.6h-2zM456.25 345.4h2v1.6h-2zM460.95 345.4h2v1.6h-2zM470.35 345.4h2v1.6h-2zM366.95 347.8h2v1.6h-2zM371.65 347.8h2v1.6h-2zM381.05 347.8h2v1.6h-2zM385.75 347.8h2v1.6h-2zM404.55 347.8h2v1.6h-2zM423.35 347.8h2v1.6h-2zM428.05 347.8h2v1.6h-2zM437.45 347.8h2v1.6h-2zM442.15 347.8h2v1.6h-2zM451.55 347.8h2v1.6h-2zM456.25 347.8h2v1.6h-2zM465.65 347.8h2v1.6h-2zM475.05 347.8h2v1.6h-2zM479.75 347.8h2v1.6h-2zM484.45 347.8h2v1.6h-2zM366.95 350.2h2v1.6h-2zM371.65 350.2h2v1.6h-2zM376.35 350.2h2v1.6h-2zM385.75 350.2h2v1.6h-2zM390.45 350.2h2v1.6h-2zM395.15 350.2h2v1.6h-2zM409.25 350.2h2v1.6h-2zM413.95 350.2h2v1.6h-2zM418.65 350.2h2v1.6h-2zM432.75 350.2h2v1.6h-2zM437.45 350.2h2v1.6h-2zM442.15 350.2h2v1.6h-2zM446.85 350.2h2v1.6h-2zM451.55 350.2h2v1.6h-2zM456.25 350.2h2v1.6h-2zM460.95 350.2h2v1.6h-2zM470.35 350.2h2v1.6h-2zM475.05 350.2h2v1.6h-2zM484.45 350.2h2v1.6h-2zM381.05 352.6h2v1.6h-2zM385.75 352.6h2v1.6h-2zM390.45 352.6h2v1.6h-2zM404.55 352.6h2v1.6h-2zM409.25 352.6h2v1.6h-2zM423.35 352.6h2v1.6h-2zM432.75 352.6h2v1.6h-2zM442.15 352.6h2v1.6h-2zM470.35 352.6h2v1.6h-2zM475.05 352.6h2v1.6h-2zM371.65 355h2v1.6h-2zM376.35 355h2v1.6h-2zM385.75 355h2v1.6h-2zM395.15 355h2v1.6h-2zM413.95 355h2v1.6h-2zM437.45 355h2v1.6h-2zM446.85 355h2v1.6h-2zM451.55 355h2v1.6h-2zM456.25 355h2v1.6h-2zM465.65 355h2v1.6h-2zM475.05 355h2v1.6h-2zM479.75 355h2v1.6h-2zM484.45 355h2v1.6h-2zM371.65 357.4h2v1.6h-2zM376.35 357.4h2v1.6h-2zM395.15 357.4h2v1.6h-2zM399.85 357.4h2v1.6h-2zM404.55 357.4h2v1.6h-2zM418.65 357.4h2v1.6h-2zM428.05 357.4h2v1.6h-2zM437.45 357.4h2v1.6h-2zM456.25 357.4h2v1.6h-2zM460.95 357.4h2v1.6h-2zM475.05 357.4h2v1.6h-2zM484.45 357.4h2v1.6h-2z" fill="#fff"/>
<text x="356.2" y="347.29999999999995" text-anchor="end" style="font-size:8.1px;font-weight:bold;stroke:#111;stroke-width:0.3px;" >SKNO-1-siA/E</text>
<text x="494.5" y="350.29999999999995" text-anchor="start" style="font-size:7.9px;" >46.1%</text>
<rect x="365.20000000000005" y="362" width="122.60000000000001" height="24.3" fill="#909090"/>
<path d="M366.25 362h3.4v24.3h-3.4zM370.95 362h3.4v24.3h-3.4zM375.65 362h3.4v24.3h-3.4zM380.35 362h3.4v24.3h-3.4zM385.05 362h3.4v24.3h-3.4zM389.75 362h3.4v24.3h-3.4zM394.45 362h3.4v24.3h-3.4zM399.15 362h3.4v24.3h-3.4zM403.85 362h3.4v24.3h-3.4zM408.55 362h3.4v24.3h-3.4zM413.25 362h3.4v24.3h-3.4zM417.95 362h3.4v24.3h-3.4zM422.65 362h3.4v24.3h-3.4zM427.35 362h3.4v24.3h-3.4zM432.05 362h3.4v24.3h-3.4zM436.75 362h3.4v24.3h-3.4zM441.45 362h3.4v24.3h-3.4zM446.15 362h3.4v24.3h-3.4zM450.85 362h3.4v24.3h-3.4zM455.55 362h3.4v24.3h-3.4zM460.25 362h3.4v24.3h-3.4zM464.95 362h3.4v24.3h-3.4zM469.65 362h3.4v24.3h-3.4zM474.35 362h3.4v24.3h-3.4zM479.05 362h3.4v24.3h-3.4zM483.75 362h3.4v24.3h-3.4z" fill="#000"/>
<path d="M371.65 362.41h2v1.6h-2zM376.35 362.41h2v1.6h-2zM381.05 362.41h2v1.6h-2zM385.75 362.41h2v1.6h-2zM390.45 362.41h2v1.6h-2zM395.15 362.41h2v1.6h-2zM404.55 362.41h2v1.6h-2zM409.25 362.41h2v1.6h-2zM418.65 362.41h2v1.6h-2zM423.35 362.41h2v1.6h-2zM428.05 362.41h2v1.6h-2zM432.75 362.41h2v1.6h-2zM437.45 362.41h2v1.6h-2zM442.15 362.41h2v1.6h-2zM446.85 362.41h2v1.6h-2zM451.55 362.41h2v1.6h-2zM456.25 362.41h2v1.6h-2zM460.95 362.41h2v1.6h-2zM465.65 362.41h2v1.6h-2zM470.35 362.41h2v1.6h-2zM475.05 362.41h2v1.6h-2zM479.75 362.41h2v1.6h-2zM484.45 362.41h2v1.6h-2zM366.95 364.84h2v1.6h-2zM371.65 364.84h2v1.6h-2zM376.35 364.84h2v1.6h-2zM381.05 364.84h2v1.6h-2zM385.75 364.84h2v1.6h-2zM390.45 364.84h2v1.6h-2zM395.15 364.84h2v1.6h-2zM404.55 364.84h2v1.6h-2zM409.25 364.84h2v1.6h-2zM418.65 364.84h2v1.6h-2zM423.35 364.84h2v1.6h-2zM428.05 364.84h2v1.6h-2zM432.75 364.84h2v1.6h-2zM437.45 364.84h2v1.6h-2zM442.15 364.84h2v1.6h-2zM446.85 364.84h2v1.6h-2zM456.25 364.84h2v1.6h-2zM460.95 364.84h2v1.6h-2zM465.65 364.84h2v1.6h-2zM470.35 364.84h2v1.6h-2zM479.75 364.84h2v1.6h-2zM484.45 364.84h2v1.6h-2zM366.95 367.27h2v1.6h-2zM376.35 367.27h2v1.6h-2zM385.75 367.27h2v1.6h-2zM390.45 367.27h2v1.6h-2zM395.15 367.27h2v1.6h-2zM399.85 367.27h2v1.6h-2zM404.55 367.27h2v1.6h-2zM409.25 367.27h2v1.6h-2zM413.95 367.27h2v1.6h-2zM418.65 367.27h2v1.6h-2zM423.35 367.27h2v1.6h-2zM428.05 367.27h2v1.6h-2zM432.75 367.27h2v1.6h-2zM437.45 367.27h2v1.6h-2zM442.15 367.27h2v1.6h-2zM446.85 367.27h2v1.6h-2zM451.55 367.27h2v1.6h-2zM460.95 367.27h2v1.6h-2zM465.65 367.27h2v1.6h-2zM470.35 367.27h2v1.6h-2zM475.05 367.27h2v1.6h-2zM479.75 367.27h2v1.6h-2zM366.95 369.7h2v1.6h-2zM371.65 369.7h2v1.6h-2zM376.35 369.7h2v1.6h-2zM381.05 369.7h2v1.6h-2zM390.45 369.7h2v1.6h-2zM395.15 369.7h2v1.6h-2zM399.85 369.7h2v1.6h-2zM404.55 369.7h2v1.6h-2zM409.25 369.7h2v1.6h-2zM413.95 369.7h2v1.6h-2zM418.65 369.7h2v1.6h-2zM423.35 369.7h2v1.6h-2zM442.15 369.7h2v1.6h-2zM446.85 369.7h2v1.6h-2zM451.55 369.7h2v1.6h-2zM456.25 369.7h2v1.6h-2zM460.95 369.7h2v1.6h-2zM470.35 369.7h2v1.6h-2zM479.75 369.7h2v1.6h-2zM484.45 369.7h2v1.6h-2zM366.95 372.13h2v1.6h-2zM371.65 372.13h2v1.6h-2zM376.35 372.13h2v1.6h-2zM381.05 372.13h2v1.6h-2zM385.75 372.13h2v1.6h-2zM390.45 372.13h2v1.6h-2zM395.15 372.13h2v1.6h-2zM399.85 372.13h2v1.6h-2zM404.55 372.13h2v1.6h-2zM409.25 372.13h2v1.6h-2zM418.65 372.13h2v1.6h-2zM423.35 372.13h2v1.6h-2zM428.05 372.13h2v1.6h-2zM432.75 372.13h2v1.6h-2zM437.45 372.13h2v1.6h-2zM446.85 372.13h2v1.6h-2zM451.55 372.13h2v1.6h-2zM456.25 372.13h2v1.6h-2zM460.95 372.13h2v1.6h-2zM465.65 372.13h2v1.6h-2zM470.35 372.13h2v1.6h-2zM475.05 372.13h2v1.6h-2zM484.45 372.13h2v1.6h-2zM366.95 374.56h2v1.6h-2zM376.35 374.56h2v1.6h-2zM381.05 374.56h2v1.6h-2zM385.75 374.56h2v1.6h-2zM395.15 374.56h2v1.6h-2zM399.85 374.56h2v1.6h-2zM404.55 374.56h2v1.6h-2zM409.25 374.56h2v1.6h-2zM413.95 374.56h2v1.6h-2zM423.35 374.56h2v1.6h-2zM428.05 374.56h2v1.6h-2zM432.75 374.56h2v1.6h-2zM437.45 374.56h2v1.6h-2zM442.15 374.56h2v1.6h-2zM446.85 374.56h2v1.6h-2zM451.55 374.56h2v1.6h-2zM460.95 374.56h2v1.6h-2zM465.65 374.56h2v1.6h-2zM470.35 374.56h2v1.6h-2zM475.05 374.56h2v1.6h-2zM479.75 374.56h2v1.6h-2zM484.45 374.56h2v1.6h-2zM366.95 377h2v1.6h-2zM371.65 377h2v1.6h-2zM376.35 377h2v1.6h-2zM381.05 377h2v1.6h-2zM385.75 377h2v1.6h-2zM390.45 377h2v1.6h-2zM395.15 377h2v1.6h-2zM399.85 377h2v1.6h-2zM404.55 377h2v1.6h-2zM409.25 377h2v1.6h-2zM413.95 377h2v1.6h-2zM418.65 377h2v1.6h-2zM423.35 377h2v1.6h-2zM428.05 377h2v1.6h-2zM432.75 377h2v1.6h-2zM437.45 377h2v1.6h-2zM442.15 377h2v1.6h-2zM446.85 377h2v1.6h-2zM456.25 377h2v1.6h-2zM465.65 377h2v1.6h-2zM470.35 377h2v1.6h-2zM475.05 377h2v1.6h-2zM479.75 377h2v1.6h-2zM484.45 377h2v1.6h-2zM366.95 379.43h2v1.6h-2zM371.65 379.43h2v1.6h-2zM376.35 379.43h2v1.6h-2zM381.05 379.43h2v1.6h-2zM385.75 379.43h2v1.6h-2zM390.45 379.43h2v1.6h-2zM395.15 379.43h2v1.6h-2zM399.85 379.43h2v1.6h-2zM404.55 379.43h2v1.6h-2zM413.95 379.43h2v1.6h-2zM418.65 379.43h2v1.6h-2zM423.35 379.43h2v1.6h-2zM428.05 379.43h2v1.6h-2zM432.75 379.43h2v1.6h-2zM442.15 379.43h2v1.6h-2zM446.85 379.43h2v1.6h-2zM451.55 379.43h2v1.6h-2zM456.25 379.43h2v1.6h-2zM460.95 379.43h2v1.6h-2zM465.65 379.43h2v1.6h-2zM470.35 379.43h2v1.6h-2zM479.75 379.43h2v1.6h-2zM484.45 379.43h2v1.6h-2zM371.65 381.86h2v1.6h-2zM376.35 381.86h2v1.6h-2zM385.75 381.86h2v1.6h-2zM390.45 381.86h2v1.6h-2zM404.55 381.86h2v1.6h-2zM409.25 381.86h2v1.6h-2zM413.95 381.86h2v1.6h-2zM418.65 381.86h2v1.6h-2zM423.35 381.86h2v1.6h-2zM432.75 381.86h2v1.6h-2zM437.45 381.86h2v1.6h-2zM442.15 381.86h2v1.6h-2zM451.55 381.86h2v1.6h-2zM456.25 381.86h2v1.6h-2zM460.95 381.86h2v1.6h-2zM470.35 381.86h2v1.6h-2zM475.05 381.86h2v1.6h-2zM479.75 381.86h2v1.6h-2zM484.45 381.86h2v1.6h-2zM366.95 384.29h2v1.6h-2zM371.65 384.29h2v1.6h-2zM376.35 384.29h2v1.6h-2zM381.05 384.29h2v1.6h-2zM385.75 384.29h2v1.6h-2zM390.45 384.29h2v1.6h-2zM395.15 384.29h2v1.6h-2zM399.85 384.29h2v1.6h-2zM404.55 384.29h2v1.6h-2zM409.25 384.29h2v1.6h-2zM413.95 384.29h2v1.6h-2zM418.65 384.29h2v1.6h-2zM423.35 384.29h2v1.6h-2zM428.05 384.29h2v1.6h-2zM432.75 384.29h2v1.6h-2zM437.45 384.29h2v1.6h-2zM442.15 384.29h2v1.6h-2zM446.85 384.29h2v1.6h-2zM451.55 384.29h2v1.6h-2zM456.25 384.29h2v1.6h-2zM460.95 384.29h2v1.6h-2zM465.65 384.29h2v1.6h-2zM470.35 384.29h2v1.6h-2zM475.05 384.29h2v1.6h-2zM479.75 384.29h2v1.6h-2zM484.45 384.29h2v1.6h-2z" fill="#fff"/>
<text x="356.3" y="375.29999999999995" text-anchor="end" style="font-size:8.1px;font-weight:bold;stroke:#111;stroke-width:0.3px;" >SKNO-1-SiAE+5-Aza</text>
<text x="494.5" y="377.04999999999995" text-anchor="start" style="font-size:7.9px;" >14.4%</text>
<rect x="365.20000000000005" y="388.8" width="122.60000000000001" height="25.2" fill="#909090"/>
<path d="M366.25 388.8h3.4v25.2h-3.4zM370.95 388.8h3.4v25.2h-3.4zM375.65 388.8h3.4v25.2h-3.4zM380.35 388.8h3.4v25.2h-3.4zM385.05 388.8h3.4v25.2h-3.4zM389.75 388.8h3.4v25.2h-3.4zM394.45 388.8h3.4v25.2h-3.4zM399.15 388.8h3.4v25.2h-3.4zM403.85 388.8h3.4v25.2h-3.4zM408.55 388.8h3.4v25.2h-3.4zM413.25 388.8h3.4v25.2h-3.4zM417.95 388.8h3.4v25.2h-3.4zM422.65 388.8h3.4v25.2h-3.4zM427.35 388.8h3.4v25.2h-3.4zM432.05 388.8h3.4v25.2h-3.4zM436.75 388.8h3.4v25.2h-3.4zM441.45 388.8h3.4v25.2h-3.4zM446.15 388.8h3.4v25.2h-3.4zM450.85 388.8h3.4v25.2h-3.4zM455.55 388.8h3.4v25.2h-3.4zM460.25 388.8h3.4v25.2h-3.4zM464.95 388.8h3.4v25.2h-3.4zM469.65 388.8h3.4v25.2h-3.4zM474.35 388.8h3.4v25.2h-3.4zM479.05 388.8h3.4v25.2h-3.4zM483.75 388.8h3.4v25.2h-3.4z" fill="#000"/>
<path d="M366.95 389.26h2v1.6h-2zM376.35 389.26h2v1.6h-2zM381.05 389.26h2v1.6h-2zM385.75 389.26h2v1.6h-2zM390.45 389.26h2v1.6h-2zM395.15 389.26h2v1.6h-2zM399.85 389.26h2v1.6h-2zM404.55 389.26h2v1.6h-2zM418.65 389.26h2v1.6h-2zM446.85 389.26h2v1.6h-2zM456.25 389.26h2v1.6h-2zM475.05 389.26h2v1.6h-2zM484.45 389.26h2v1.6h-2zM366.95 391.78h2v1.6h-2zM376.35 391.78h2v1.6h-2zM385.75 391.78h2v1.6h-2zM395.15 391.78h2v1.6h-2zM409.25 391.78h2v1.6h-2zM418.65 391.78h2v1.6h-2zM432.75 391.78h2v1.6h-2zM437.45 391.78h2v1.6h-2zM451.55 391.78h2v1.6h-2zM456.25 391.78h2v1.6h-2zM460.95 391.78h2v1.6h-2zM475.05 391.78h2v1.6h-2zM366.95 394.3h2v1.6h-2zM371.65 394.3h2v1.6h-2zM376.35 394.3h2v1.6h-2zM385.75 394.3h2v1.6h-2zM390.45 394.3h2v1.6h-2zM404.55 394.3h2v1.6h-2zM409.25 394.3h2v1.6h-2zM413.95 394.3h2v1.6h-2zM418.65 394.3h2v1.6h-2zM423.35 394.3h2v1.6h-2zM428.05 394.3h2v1.6h-2zM442.15 394.3h2v1.6h-2zM451.55 394.3h2v1.6h-2zM465.65 394.3h2v1.6h-2zM470.35 394.3h2v1.6h-2zM475.05 394.3h2v1.6h-2zM484.45 394.3h2v1.6h-2zM376.35 396.82h2v1.6h-2zM385.75 396.82h2v1.6h-2zM395.15 396.82h2v1.6h-2zM399.85 396.82h2v1.6h-2zM413.95 396.82h2v1.6h-2zM423.35 396.82h2v1.6h-2zM428.05 396.82h2v1.6h-2zM437.45 396.82h2v1.6h-2zM442.15 396.82h2v1.6h-2zM446.85 396.82h2v1.6h-2zM456.25 396.82h2v1.6h-2zM460.95 396.82h2v1.6h-2zM475.05 396.82h2v1.6h-2zM484.45 396.82h2v1.6h-2zM366.95 399.34h2v1.6h-2zM381.05 399.34h2v1.6h-2zM385.75 399.34h2v1.6h-2zM390.45 399.34h2v1.6h-2zM395.15 399.34h2v1.6h-2zM399.85 399.34h2v1.6h-2zM409.25 399.34h2v1.6h-2zM423.35 399.34h2v1.6h-2zM432.75 399.34h2v1.6h-2zM456.25 399.34h2v1.6h-2zM460.95 399.34h2v1.6h-2zM470.35 399.34h2v1.6h-2zM366.95 401.86h2v1.6h-2zM371.65 401.86h2v1.6h-2zM381.05 401.86h2v1.6h-2zM385.75 401.86h2v1.6h-2zM404.55 401.86h2v1.6h-2zM418.65 401.86h2v1.6h-2zM423.35 401.86h2v1.6h-2zM428.05 401.86h2v1.6h-2zM437.45 401.86h2v1.6h-2zM442.15 401.86h2v1.6h-2zM451.55 401.86h2v1.6h-2zM465.65 401.86h2v1.6h-2zM475.05 401.86h2v1.6h-2zM479.75 401.86h2v1.6h-2zM484.45 401.86h2v1.6h-2zM366.95 404.38h2v1.6h-2zM371.65 404.38h2v1.6h-2zM376.35 404.38h2v1.6h-2zM385.75 404.38h2v1.6h-2zM390.45 404.38h2v1.6h-2zM409.25 404.38h2v1.6h-2zM413.95 404.38h2v1.6h-2zM418.65 404.38h2v1.6h-2zM432.75 404.38h2v1.6h-2zM437.45 404.38h2v1.6h-2zM442.15 404.38h2v1.6h-2zM446.85 404.38h2v1.6h-2zM451.55 404.38h2v1.6h-2zM456.25 404.38h2v1.6h-2zM460.95 404.38h2v1.6h-2zM470.35 404.38h2v1.6h-2zM475.05 404.38h2v1.6h-2zM484.45 404.38h2v1.6h-2zM381.05 406.9h2v1.6h-2zM385.75 406.9h2v1.6h-2zM390.45 406.9h2v1.6h-2zM395.15 406.9h2v1.6h-2zM404.55 406.9h2v1.6h-2zM409.25 406.9h2v1.6h-2zM423.35 406.9h2v1.6h-2zM432.75 406.9h2v1.6h-2zM470.35 406.9h2v1.6h-2zM475.05 406.9h2v1.6h-2zM484.45 406.9h2v1.6h-2zM371.65 409.42h2v1.6h-2zM376.35 409.42h2v1.6h-2zM395.15 409.42h2v1.6h-2zM413.95 409.42h2v1.6h-2zM437.45 409.42h2v1.6h-2zM446.85 409.42h2v1.6h-2zM451.55 409.42h2v1.6h-2zM456.25 409.42h2v1.6h-2zM465.65 409.42h2v1.6h-2zM475.05 409.42h2v1.6h-2zM479.75 409.42h2v1.6h-2zM376.35 411.94h2v1.6h-2zM395.15 411.94h2v1.6h-2zM399.85 411.94h2v1.6h-2zM404.55 411.94h2v1.6h-2zM418.65 411.94h2v1.6h-2zM428.05 411.94h2v1.6h-2zM442.15 411.94h2v1.6h-2zM456.25 411.94h2v1.6h-2zM460.95 411.94h2v1.6h-2zM475.05 411.94h2v1.6h-2zM484.45 411.94h2v1.6h-2z" fill="#fff"/>
<text x="356.8" y="402.09999999999997" text-anchor="end" style="font-size:8.1px;font-weight:bold;stroke:#111;stroke-width:0.3px;" >U937-MT</text>
<text x="494.5" y="404.29999999999995" text-anchor="start" style="font-size:7.9px;" >47.8%</text>
<rect x="365.20000000000005" y="416" width="122.60000000000001" height="26" fill="#909090"/>
<path d="M366.25 416h3.4v26h-3.4zM370.95 416h3.4v26h-3.4zM375.65 416h3.4v26h-3.4zM380.35 416h3.4v26h-3.4zM385.05 416h3.4v26h-3.4zM389.75 416h3.4v26h-3.4zM394.45 416h3.4v26h-3.4zM399.15 416h3.4v26h-3.4zM403.85 416h3.4v26h-3.4zM408.55 416h3.4v26h-3.4zM413.25 416h3.4v26h-3.4zM417.95 416h3.4v26h-3.4zM422.65 416h3.4v26h-3.4zM427.35 416h3.4v26h-3.4zM432.05 416h3.4v26h-3.4zM436.75 416h3.4v26h-3.4zM441.45 416h3.4v26h-3.4zM446.15 416h3.4v26h-3.4zM450.85 416h3.4v26h-3.4zM455.55 416h3.4v26h-3.4zM460.25 416h3.4v26h-3.4zM464.95 416h3.4v26h-3.4zM469.65 416h3.4v26h-3.4zM474.35 416h3.4v26h-3.4zM479.05 416h3.4v26h-3.4zM483.75 416h3.4v26h-3.4z" fill="#000"/>
<path d="M376.35 416.5h2v1.6h-2zM390.45 416.5h2v1.6h-2zM404.55 416.5h2v1.6h-2zM446.85 416.5h2v1.6h-2zM484.45 416.5h2v1.6h-2zM376.35 419.1h2v1.6h-2zM390.45 419.1h2v1.6h-2zM413.95 419.1h2v1.6h-2zM418.65 419.1h2v1.6h-2zM423.35 419.1h2v1.6h-2zM432.75 419.1h2v1.6h-2zM451.55 419.1h2v1.6h-2zM456.25 419.1h2v1.6h-2zM460.95 419.1h2v1.6h-2zM470.35 419.1h2v1.6h-2zM366.95 421.7h2v1.6h-2zM376.35 421.7h2v1.6h-2zM385.75 421.7h2v1.6h-2zM390.45 421.7h2v1.6h-2zM399.85 421.7h2v1.6h-2zM437.45 421.7h2v1.6h-2zM475.05 421.7h2v1.6h-2zM479.75 421.7h2v1.6h-2zM381.05 424.3h2v1.6h-2zM404.55 424.3h2v1.6h-2zM409.25 424.3h2v1.6h-2zM413.95 424.3h2v1.6h-2zM446.85 424.3h2v1.6h-2zM451.55 424.3h2v1.6h-2zM470.35 424.3h2v1.6h-2zM479.75 424.3h2v1.6h-2zM376.35 426.9h2v1.6h-2zM385.75 426.9h2v1.6h-2zM395.15 426.9h2v1.6h-2zM413.95 426.9h2v1.6h-2zM418.65 426.9h2v1.6h-2zM442.15 426.9h2v1.6h-2zM456.25 426.9h2v1.6h-2zM465.65 426.9h2v1.6h-2zM366.95 429.5h2v1.6h-2zM376.35 429.5h2v1.6h-2zM385.75 429.5h2v1.6h-2zM395.15 429.5h2v1.6h-2zM409.25 429.5h2v1.6h-2zM413.95 429.5h2v1.6h-2zM432.75 429.5h2v1.6h-2zM437.45 429.5h2v1.6h-2zM451.55 429.5h2v1.6h-2zM470.35 429.5h2v1.6h-2zM475.05 429.5h2v1.6h-2zM376.35 432.1h2v1.6h-2zM385.75 432.1h2v1.6h-2zM409.25 432.1h2v1.6h-2zM376.35 434.7h2v1.6h-2zM395.15 434.7h2v1.6h-2zM404.55 434.7h2v1.6h-2zM423.35 434.7h2v1.6h-2zM460.95 434.7h2v1.6h-2zM376.35 437.3h2v1.6h-2zM385.75 437.3h2v1.6h-2zM404.55 437.3h2v1.6h-2zM409.25 437.3h2v1.6h-2zM446.85 437.3h2v1.6h-2zM451.55 437.3h2v1.6h-2zM376.35 439.9h2v1.6h-2zM390.45 439.9h2v1.6h-2zM399.85 439.9h2v1.6h-2zM418.65 439.9h2v1.6h-2zM428.05 439.9h2v1.6h-2zM437.45 439.9h2v1.6h-2zM465.65 439.9h2v1.6h-2z" fill="#fff"/>
<text x="356.8" y="429.2" text-anchor="end" style="font-size:8.1px;font-weight:bold;stroke:#111;stroke-width:0.3px;" >U937-AE+Zn2+</text>
<text x="494.5" y="431.9" text-anchor="start" style="font-size:7.9px;" >75.6%</text>
<path d="M370.75 445.74a1.9 1.58 0 1 0 3.8 0a1.9 1.58 0 1 0 -3.8 0zM375.45 445.74a1.9 1.58 0 1 0 3.8 0a1.9 1.58 0 1 0 -3.8 0zM380.15 445.74a1.9 1.58 0 1 0 3.8 0a1.9 1.58 0 1 0 -3.8 0zM384.85 445.74a1.9 1.58 0 1 0 3.8 0a1.9 1.58 0 1 0 -3.8 0zM389.55 445.74a1.9 1.58 0 1 0 3.8 0a1.9 1.58 0 1 0 -3.8 0zM398.95 445.74a1.9 1.58 0 1 0 3.8 0a1.9 1.58 0 1 0 -3.8 0zM403.65 445.74a1.9 1.58 0 1 0 3.8 0a1.9 1.58 0 1 0 -3.8 0zM408.35 445.74a1.9 1.58 0 1 0 3.8 0a1.9 1.58 0 1 0 -3.8 0zM413.05 445.74a1.9 1.58 0 1 0 3.8 0a1.9 1.58 0 1 0 -3.8 0zM417.75 445.74a1.9 1.58 0 1 0 3.8 0a1.9 1.58 0 1 0 -3.8 0zM427.15 445.74a1.9 1.58 0 1 0 3.8 0a1.9 1.58 0 1 0 -3.8 0zM431.85 445.74a1.9 1.58 0 1 0 3.8 0a1.9 1.58 0 1 0 -3.8 0zM436.55 445.74a1.9 1.58 0 1 0 3.8 0a1.9 1.58 0 1 0 -3.8 0zM441.25 445.74a1.9 1.58 0 1 0 3.8 0a1.9 1.58 0 1 0 -3.8 0zM450.65 445.74a1.9 1.58 0 1 0 3.8 0a1.9 1.58 0 1 0 -3.8 0zM455.35 445.74a1.9 1.58 0 1 0 3.8 0a1.9 1.58 0 1 0 -3.8 0zM460.05 445.74a1.9 1.58 0 1 0 3.8 0a1.9 1.58 0 1 0 -3.8 0zM464.75 445.74a1.9 1.58 0 1 0 3.8 0a1.9 1.58 0 1 0 -3.8 0zM469.45 445.74a1.9 1.58 0 1 0 3.8 0a1.9 1.58 0 1 0 -3.8 0zM478.85 445.74a1.9 1.58 0 1 0 3.8 0a1.9 1.58 0 1 0 -3.8 0zM483.55 445.74a1.9 1.58 0 1 0 3.8 0a1.9 1.58 0 1 0 -3.8 0zM366.05 448.61a1.9 1.58 0 1 0 3.8 0a1.9 1.58 0 1 0 -3.8 0zM370.75 448.61a1.9 1.58 0 1 0 3.8 0a1.9 1.58 0 1 0 -3.8 0zM380.15 448.61a1.9 1.58 0 1 0 3.8 0a1.9 1.58 0 1 0 -3.8 0zM384.85 448.61a1.9 1.58 0 1 0 3.8 0a1.9 1.58 0 1 0 -3.8 0zM394.25 448.61a1.9 1.58 0 1 0 3.8 0a1.9 1.58 0 1 0 -3.8 0zM398.95 448.61a1.9 1.58 0 1 0 3.8 0a1.9 1.58 0 1 0 -3.8 0zM403.65 448.61a1.9 1.58 0 1 0 3.8 0a1.9 1.58 0 1 0 -3.8 0zM408.35 448.61a1.9 1.58 0 1 0 3.8 0a1.9 1.58 0 1 0 -3.8 0zM413.05 448.61a1.9 1.58 0 1 0 3.8 0a1.9 1.58 0 1 0 -3.8 0zM417.75 448.61a1.9 1.58 0 1 0 3.8 0a1.9 1.58 0 1 0 -3.8 0zM422.45 448.61a1.9 1.58 0 1 0 3.8 0a1.9 1.58 0 1 0 -3.8 0zM427.15 448.61a1.9 1.58 0 1 0 3.8 0a1.9 1.58 0 1 0 -3.8 0zM431.85 448.61a1.9 1.58 0 1 0 3.8 0a1.9 1.58 0 1 0 -3.8 0zM436.55 448.61a1.9 1.58 0 1 0 3.8 0a1.9 1.58 0 1 0 -3.8 0zM441.25 448.61a1.9 1.58 0 1 0 3.8 0a1.9 1.58 0 1 0 -3.8 0zM445.95 448.61a1.9 1.58 0 1 0 3.8 0a1.9 1.58 0 1 0 -3.8 0zM450.65 448.61a1.9 1.58 0 1 0 3.8 0a1.9 1.58 0 1 0 -3.8 0zM455.35 448.61a1.9 1.58 0 1 0 3.8 0a1.9 1.58 0 1 0 -3.8 0zM460.05 448.61a1.9 1.58 0 1 0 3.8 0a1.9 1.58 0 1 0 -3.8 0zM464.75 448.61a1.9 1.58 0 1 0 3.8 0a1.9 1.58 0 1 0 -3.8 0zM469.45 448.61a1.9 1.58 0 1 0 3.8 0a1.9 1.58 0 1 0 -3.8 0zM478.85 448.61a1.9 1.58 0 1 0 3.8 0a1.9 1.58 0 1 0 -3.8 0zM483.55 448.61a1.9 1.58 0 1 0 3.8 0a1.9 1.58 0 1 0 -3.8 0zM366.05 451.48a1.9 1.58 0 1 0 3.8 0a1.9 1.58 0 1 0 -3.8 0zM370.75 451.48a1.9 1.58 0 1 0 3.8 0a1.9 1.58 0 1 0 -3.8 0zM375.45 451.48a1.9 1.58 0 1 0 3.8 0a1.9 1.58 0 1 0 -3.8 0zM380.15 451.48a1.9 1.58 0 1 0 3.8 0a1.9 1.58 0 1 0 -3.8 0zM389.55 451.48a1.9 1.58 0 1 0 3.8 0a1.9 1.58 0 1 0 -3.8 0zM394.25 451.48a1.9 1.58 0 1 0 3.8 0a1.9 1.58 0 1 0 -3.8 0zM398.95 451.48a1.9 1.58 0 1 0 3.8 0a1.9 1.58 0 1 0 -3.8 0zM403.65 451.48a1.9 1.58 0 1 0 3.8 0a1.9 1.58 0 1 0 -3.8 0zM413.05 451.48a1.9 1.58 0 1 0 3.8 0a1.9 1.58 0 1 0 -3.8 0zM417.75 451.48a1.9 1.58 0 1 0 3.8 0a1.9 1.58 0 1 0 -3.8 0zM422.45 451.48a1.9 1.58 0 1 0 3.8 0a1.9 1.58 0 1 0 -3.8 0zM427.15 451.48a1.9 1.58 0 1 0 3.8 0a1.9 1.58 0 1 0 -3.8 0zM431.85 451.48a1.9 1.58 0 1 0 3.8 0a1.9 1.58 0 1 0 -3.8 0zM436.55 451.48a1.9 1.58 0 1 0 3.8 0a1.9 1.58 0 1 0 -3.8 0zM441.25 451.48a1.9 1.58 0 1 0 3.8 0a1.9 1.58 0 1 0 -3.8 0zM445.95 451.48a1.9 1.58 0 1 0 3.8 0a1.9 1.58 0 1 0 -3.8 0zM450.65 451.48a1.9 1.58 0 1 0 3.8 0a1.9 1.58 0 1 0 -3.8 0zM455.35 451.48a1.9 1.58 0 1 0 3.8 0a1.9 1.58 0 1 0 -3.8 0zM460.05 451.48a1.9 1.58 0 1 0 3.8 0a1.9 1.58 0 1 0 -3.8 0zM469.45 451.48a1.9 1.58 0 1 0 3.8 0a1.9 1.58 0 1 0 -3.8 0zM474.15 451.48a1.9 1.58 0 1 0 3.8 0a1.9 1.58 0 1 0 -3.8 0zM478.85 451.48a1.9 1.58 0 1 0 3.8 0a1.9 1.58 0 1 0 -3.8 0zM483.55 451.48a1.9 1.58 0 1 0 3.8 0a1.9 1.58 0 1 0 -3.8 0zM366.05 454.35a1.9 1.58 0 1 0 3.8 0a1.9 1.58 0 1 0 -3.8 0zM370.75 454.35a1.9 1.58 0 1 0 3.8 0a1.9 1.58 0 1 0 -3.8 0zM380.15 454.35a1.9 1.58 0 1 0 3.8 0a1.9 1.58 0 1 0 -3.8 0zM384.85 454.35a1.9 1.58 0 1 0 3.8 0a1.9 1.58 0 1 0 -3.8 0zM389.55 454.35a1.9 1.58 0 1 0 3.8 0a1.9 1.58 0 1 0 -3.8 0zM394.25 454.35a1.9 1.58 0 1 0 3.8 0a1.9 1.58 0 1 0 -3.8 0zM398.95 454.35a1.9 1.58 0 1 0 3.8 0a1.9 1.58 0 1 0 -3.8 0zM408.35 454.35a1.9 1.58 0 1 0 3.8 0a1.9 1.58 0 1 0 -3.8 0zM413.05 454.35a1.9 1.58 0 1 0 3.8 0a1.9 1.58 0 1 0 -3.8 0zM417.75 454.35a1.9 1.58 0 1 0 3.8 0a1.9 1.58 0 1 0 -3.8 0zM422.45 454.35a1.9 1.58 0 1 0 3.8 0a1.9 1.58 0 1 0 -3.8 0zM427.15 454.35a1.9 1.58 0 1 0 3.8 0a1.9 1.58 0 1 0 -3.8 0zM431.85 454.35a1.9 1.58 0 1 0 3.8 0a1.9 1.58 0 1 0 -3.8 0zM441.25 454.35a1.9 1.58 0 1 0 3.8 0a1.9 1.58 0 1 0 -3.8 0zM450.65 454.35a1.9 1.58 0 1 0 3.8 0a1.9 1.58 0 1 0 -3.8 0zM464.75 454.35a1.9 1.58 0 1 0 3.8 0a1.9 1.58 0 1 0 -3.8 0zM469.45 454.35a1.9 1.58 0 1 0 3.8 0a1.9 1.58 0 1 0 -3.8 0zM474.15 454.35a1.9 1.58 0 1 0 3.8 0a1.9 1.58 0 1 0 -3.8 0zM478.85 454.35a1.9 1.58 0 1 0 3.8 0a1.9 1.58 0 1 0 -3.8 0zM483.55 454.35a1.9 1.58 0 1 0 3.8 0a1.9 1.58 0 1 0 -3.8 0zM366.05 457.22a1.9 1.58 0 1 0 3.8 0a1.9 1.58 0 1 0 -3.8 0zM375.45 457.22a1.9 1.58 0 1 0 3.8 0a1.9 1.58 0 1 0 -3.8 0zM384.85 457.22a1.9 1.58 0 1 0 3.8 0a1.9 1.58 0 1 0 -3.8 0zM389.55 457.22a1.9 1.58 0 1 0 3.8 0a1.9 1.58 0 1 0 -3.8 0zM403.65 457.22a1.9 1.58 0 1 0 3.8 0a1.9 1.58 0 1 0 -3.8 0zM413.05 457.22a1.9 1.58 0 1 0 3.8 0a1.9 1.58 0 1 0 -3.8 0zM417.75 457.22a1.9 1.58 0 1 0 3.8 0a1.9 1.58 0 1 0 -3.8 0zM422.45 457.22a1.9 1.58 0 1 0 3.8 0a1.9 1.58 0 1 0 -3.8 0zM427.15 457.22a1.9 1.58 0 1 0 3.8 0a1.9 1.58 0 1 0 -3.8 0zM431.85 457.22a1.9 1.58 0 1 0 3.8 0a1.9 1.58 0 1 0 -3.8 0zM436.55 457.22a1.9 1.58 0 1 0 3.8 0a1.9 1.58 0 1 0 -3.8 0zM441.25 457.22a1.9 1.58 0 1 0 3.8 0a1.9 1.58 0 1 0 -3.8 0zM450.65 457.22a1.9 1.58 0 1 0 3.8 0a1.9 1.58 0 1 0 -3.8 0zM460.05 457.22a1.9 1.58 0 1 0 3.8 0a1.9 1.58 0 1 0 -3.8 0zM474.15 457.22a1.9 1.58 0 1 0 3.8 0a1.9 1.58 0 1 0 -3.8 0zM478.85 457.22a1.9 1.58 0 1 0 3.8 0a1.9 1.58 0 1 0 -3.8 0zM483.55 457.22a1.9 1.58 0 1 0 3.8 0a1.9 1.58 0 1 0 -3.8 0zM370.75 460.08a1.9 1.58 0 1 0 3.8 0a1.9 1.58 0 1 0 -3.8 0zM380.15 460.08a1.9 1.58 0 1 0 3.8 0a1.9 1.58 0 1 0 -3.8 0zM403.65 460.08a1.9 1.58 0 1 0 3.8 0a1.9 1.58 0 1 0 -3.8 0zM408.35 460.08a1.9 1.58 0 1 0 3.8 0a1.9 1.58 0 1 0 -3.8 0zM427.15 460.08a1.9 1.58 0 1 0 3.8 0a1.9 1.58 0 1 0 -3.8 0zM431.85 460.08a1.9 1.58 0 1 0 3.8 0a1.9 1.58 0 1 0 -3.8 0zM441.25 460.08a1.9 1.58 0 1 0 3.8 0a1.9 1.58 0 1 0 -3.8 0zM450.65 460.08a1.9 1.58 0 1 0 3.8 0a1.9 1.58 0 1 0 -3.8 0zM455.35 460.08a1.9 1.58 0 1 0 3.8 0a1.9 1.58 0 1 0 -3.8 0zM460.05 460.08a1.9 1.58 0 1 0 3.8 0a1.9 1.58 0 1 0 -3.8 0zM464.75 460.08a1.9 1.58 0 1 0 3.8 0a1.9 1.58 0 1 0 -3.8 0zM474.15 460.08a1.9 1.58 0 1 0 3.8 0a1.9 1.58 0 1 0 -3.8 0zM478.85 460.08a1.9 1.58 0 1 0 3.8 0a1.9 1.58 0 1 0 -3.8 0zM483.55 460.08a1.9 1.58 0 1 0 3.8 0a1.9 1.58 0 1 0 -3.8 0zM366.05 462.95a1.9 1.58 0 1 0 3.8 0a1.9 1.58 0 1 0 -3.8 0zM370.75 462.95a1.9 1.58 0 1 0 3.8 0a1.9 1.58 0 1 0 -3.8 0zM375.45 462.95a1.9 1.58 0 1 0 3.8 0a1.9 1.58 0 1 0 -3.8 0zM380.15 462.95a1.9 1.58 0 1 0 3.8 0a1.9 1.58 0 1 0 -3.8 0zM384.85 462.95a1.9 1.58 0 1 0 3.8 0a1.9 1.58 0 1 0 -3.8 0zM389.55 462.95a1.9 1.58 0 1 0 3.8 0a1.9 1.58 0 1 0 -3.8 0zM394.25 462.95a1.9 1.58 0 1 0 3.8 0a1.9 1.58 0 1 0 -3.8 0zM398.95 462.95a1.9 1.58 0 1 0 3.8 0a1.9 1.58 0 1 0 -3.8 0zM403.65 462.95a1.9 1.58 0 1 0 3.8 0a1.9 1.58 0 1 0 -3.8 0zM408.35 462.95a1.9 1.58 0 1 0 3.8 0a1.9 1.58 0 1 0 -3.8 0zM417.75 462.95a1.9 1.58 0 1 0 3.8 0a1.9 1.58 0 1 0 -3.8 0zM431.85 462.95a1.9 1.58 0 1 0 3.8 0a1.9 1.58 0 1 0 -3.8 0zM436.55 462.95a1.9 1.58 0 1 0 3.8 0a1.9 1.58 0 1 0 -3.8 0zM441.25 462.95a1.9 1.58 0 1 0 3.8 0a1.9 1.58 0 1 0 -3.8 0zM445.95 462.95a1.9 1.58 0 1 0 3.8 0a1.9 1.58 0 1 0 -3.8 0zM450.65 462.95a1.9 1.58 0 1 0 3.8 0a1.9 1.58 0 1 0 -3.8 0zM455.35 462.95a1.9 1.58 0 1 0 3.8 0a1.9 1.58 0 1 0 -3.8 0zM460.05 462.95a1.9 1.58 0 1 0 3.8 0a1.9 1.58 0 1 0 -3.8 0zM469.45 462.95a1.9 1.58 0 1 0 3.8 0a1.9 1.58 0 1 0 -3.8 0zM474.15 462.95a1.9 1.58 0 1 0 3.8 0a1.9 1.58 0 1 0 -3.8 0zM483.55 462.95a1.9 1.58 0 1 0 3.8 0a1.9 1.58 0 1 0 -3.8 0zM366.05 465.82a1.9 1.58 0 1 0 3.8 0a1.9 1.58 0 1 0 -3.8 0zM370.75 465.82a1.9 1.58 0 1 0 3.8 0a1.9 1.58 0 1 0 -3.8 0zM375.45 465.82a1.9 1.58 0 1 0 3.8 0a1.9 1.58 0 1 0 -3.8 0zM384.85 465.82a1.9 1.58 0 1 0 3.8 0a1.9 1.58 0 1 0 -3.8 0zM389.55 465.82a1.9 1.58 0 1 0 3.8 0a1.9 1.58 0 1 0 -3.8 0zM394.25 465.82a1.9 1.58 0 1 0 3.8 0a1.9 1.58 0 1 0 -3.8 0zM398.95 465.82a1.9 1.58 0 1 0 3.8 0a1.9 1.58 0 1 0 -3.8 0zM408.35 465.82a1.9 1.58 0 1 0 3.8 0a1.9 1.58 0 1 0 -3.8 0zM413.05 465.82a1.9 1.58 0 1 0 3.8 0a1.9 1.58 0 1 0 -3.8 0zM417.75 465.82a1.9 1.58 0 1 0 3.8 0a1.9 1.58 0 1 0 -3.8 0zM427.15 465.82a1.9 1.58 0 1 0 3.8 0a1.9 1.58 0 1 0 -3.8 0zM441.25 465.82a1.9 1.58 0 1 0 3.8 0a1.9 1.58 0 1 0 -3.8 0zM445.95 465.82a1.9 1.58 0 1 0 3.8 0a1.9 1.58 0 1 0 -3.8 0zM450.65 465.82a1.9 1.58 0 1 0 3.8 0a1.9 1.58 0 1 0 -3.8 0zM455.35 465.82a1.9 1.58 0 1 0 3.8 0a1.9 1.58 0 1 0 -3.8 0zM464.75 465.82a1.9 1.58 0 1 0 3.8 0a1.9 1.58 0 1 0 -3.8 0zM469.45 465.82a1.9 1.58 0 1 0 3.8 0a1.9 1.58 0 1 0 -3.8 0zM474.15 465.82a1.9 1.58 0 1 0 3.8 0a1.9 1.58 0 1 0 -3.8 0zM483.55 465.82a1.9 1.58 0 1 0 3.8 0a1.9 1.58 0 1 0 -3.8 0zM366.05 468.69a1.9 1.58 0 1 0 3.8 0a1.9 1.58 0 1 0 -3.8 0zM375.45 468.69a1.9 1.58 0 1 0 3.8 0a1.9 1.58 0 1 0 -3.8 0zM380.15 468.69a1.9 1.58 0 1 0 3.8 0a1.9 1.58 0 1 0 -3.8 0zM384.85 468.69a1.9 1.58 0 1 0 3.8 0a1.9 1.58 0 1 0 -3.8 0zM389.55 468.69a1.9 1.58 0 1 0 3.8 0a1.9 1.58 0 1 0 -3.8 0zM394.25 468.69a1.9 1.58 0 1 0 3.8 0a1.9 1.58 0 1 0 -3.8 0zM403.65 468.69a1.9 1.58 0 1 0 3.8 0a1.9 1.58 0 1 0 -3.8 0zM408.35 468.69a1.9 1.58 0 1 0 3.8 0a1.9 1.58 0 1 0 -3.8 0zM413.05 468.69a1.9 1.58 0 1 0 3.8 0a1.9 1.58 0 1 0 -3.8 0zM417.75 468.69a1.9 1.58 0 1 0 3.8 0a1.9 1.58 0 1 0 -3.8 0zM422.45 468.69a1.9 1.58 0 1 0 3.8 0a1.9 1.58 0 1 0 -3.8 0zM427.15 468.69a1.9 1.58 0 1 0 3.8 0a1.9 1.58 0 1 0 -3.8 0zM431.85 468.69a1.9 1.58 0 1 0 3.8 0a1.9 1.58 0 1 0 -3.8 0zM436.55 468.69a1.9 1.58 0 1 0 3.8 0a1.9 1.58 0 1 0 -3.8 0zM441.25 468.69a1.9 1.58 0 1 0 3.8 0a1.9 1.58 0 1 0 -3.8 0zM445.95 468.69a1.9 1.58 0 1 0 3.8 0a1.9 1.58 0 1 0 -3.8 0zM450.65 468.69a1.9 1.58 0 1 0 3.8 0a1.9 1.58 0 1 0 -3.8 0zM455.35 468.69a1.9 1.58 0 1 0 3.8 0a1.9 1.58 0 1 0 -3.8 0zM460.05 468.69a1.9 1.58 0 1 0 3.8 0a1.9 1.58 0 1 0 -3.8 0zM464.75 468.69a1.9 1.58 0 1 0 3.8 0a1.9 1.58 0 1 0 -3.8 0zM469.45 468.69a1.9 1.58 0 1 0 3.8 0a1.9 1.58 0 1 0 -3.8 0zM474.15 468.69a1.9 1.58 0 1 0 3.8 0a1.9 1.58 0 1 0 -3.8 0zM478.85 468.69a1.9 1.58 0 1 0 3.8 0a1.9 1.58 0 1 0 -3.8 0zM483.55 468.69a1.9 1.58 0 1 0 3.8 0a1.9 1.58 0 1 0 -3.8 0zM366.05 471.56a1.9 1.58 0 1 0 3.8 0a1.9 1.58 0 1 0 -3.8 0zM370.75 471.56a1.9 1.58 0 1 0 3.8 0a1.9 1.58 0 1 0 -3.8 0zM375.45 471.56a1.9 1.58 0 1 0 3.8 0a1.9 1.58 0 1 0 -3.8 0zM380.15 471.56a1.9 1.58 0 1 0 3.8 0a1.9 1.58 0 1 0 -3.8 0zM384.85 471.56a1.9 1.58 0 1 0 3.8 0a1.9 1.58 0 1 0 -3.8 0zM389.55 471.56a1.9 1.58 0 1 0 3.8 0a1.9 1.58 0 1 0 -3.8 0zM394.25 471.56a1.9 1.58 0 1 0 3.8 0a1.9 1.58 0 1 0 -3.8 0zM398.95 471.56a1.9 1.58 0 1 0 3.8 0a1.9 1.58 0 1 0 -3.8 0zM403.65 471.56a1.9 1.58 0 1 0 3.8 0a1.9 1.58 0 1 0 -3.8 0zM408.35 471.56a1.9 1.58 0 1 0 3.8 0a1.9 1.58 0 1 0 -3.8 0zM413.05 471.56a1.9 1.58 0 1 0 3.8 0a1.9 1.58 0 1 0 -3.8 0zM417.75 471.56a1.9 1.58 0 1 0 3.8 0a1.9 1.58 0 1 0 -3.8 0zM422.45 471.56a1.9 1.58 0 1 0 3.8 0a1.9 1.58 0 1 0 -3.8 0zM431.85 471.56a1.9 1.58 0 1 0 3.8 0a1.9 1.58 0 1 0 -3.8 0zM441.25 471.56a1.9 1.58 0 1 0 3.8 0a1.9 1.58 0 1 0 -3.8 0zM445.95 471.56a1.9 1.58 0 1 0 3.8 0a1.9 1.58 0 1 0 -3.8 0zM455.35 471.56a1.9 1.58 0 1 0 3.8 0a1.9 1.58 0 1 0 -3.8 0zM460.05 471.56a1.9 1.58 0 1 0 3.8 0a1.9 1.58 0 1 0 -3.8 0zM464.75 471.56a1.9 1.58 0 1 0 3.8 0a1.9 1.58 0 1 0 -3.8 0zM469.45 471.56a1.9 1.58 0 1 0 3.8 0a1.9 1.58 0 1 0 -3.8 0zM474.15 471.56a1.9 1.58 0 1 0 3.8 0a1.9 1.58 0 1 0 -3.8 0zM478.85 471.56a1.9 1.58 0 1 0 3.8 0a1.9 1.58 0 1 0 -3.8 0zM483.55 471.56a1.9 1.58 0 1 0 3.8 0a1.9 1.58 0 1 0 -3.8 0z" fill="#000"/>
<path d="M366.45 445.74a1.5 1.18 0 1 0 3.0 0a1.5 1.18 0 1 0 -3.0 0zM394.65 445.74a1.5 1.18 0 1 0 3.0 0a1.5 1.18 0 1 0 -3.0 0zM422.85 445.74a1.5 1.18 0 1 0 3.0 0a1.5 1.18 0 1 0 -3.0 0zM446.35 445.74a1.5 1.18 0 1 0 3.0 0a1.5 1.18 0 1 0 -3.0 0zM474.55 445.74a1.5 1.18 0 1 0 3.0 0a1.5 1.18 0 1 0 -3.0 0zM375.85 448.61a1.5 1.18 0 1 0 3.0 0a1.5 1.18 0 1 0 -3.0 0zM389.95 448.61a1.5 1.18 0 1 0 3.0 0a1.5 1.18 0 1 0 -3.0 0zM474.55 448.61a1.5 1.18 0 1 0 3.0 0a1.5 1.18 0 1 0 -3.0 0zM385.25 451.48a1.5 1.18 0 1 0 3.0 0a1.5 1.18 0 1 0 -3.0 0zM408.75 451.48a1.5 1.18 0 1 0 3.0 0a1.5 1.18 0 1 0 -3.0 0zM465.15 451.48a1.5 1.18 0 1 0 3.0 0a1.5 1.18 0 1 0 -3.0 0zM375.85 454.35a1.5 1.18 0 1 0 3.0 0a1.5 1.18 0 1 0 -3.0 0zM404.05 454.35a1.5 1.18 0 1 0 3.0 0a1.5 1.18 0 1 0 -3.0 0zM436.95 454.35a1.5 1.18 0 1 0 3.0 0a1.5 1.18 0 1 0 -3.0 0zM446.35 454.35a1.5 1.18 0 1 0 3.0 0a1.5 1.18 0 1 0 -3.0 0zM455.75 454.35a1.5 1.18 0 1 0 3.0 0a1.5 1.18 0 1 0 -3.0 0zM460.45 454.35a1.5 1.18 0 1 0 3.0 0a1.5 1.18 0 1 0 -3.0 0zM371.15 457.22a1.5 1.18 0 1 0 3.0 0a1.5 1.18 0 1 0 -3.0 0zM380.55 457.22a1.5 1.18 0 1 0 3.0 0a1.5 1.18 0 1 0 -3.0 0zM394.65 457.22a1.5 1.18 0 1 0 3.0 0a1.5 1.18 0 1 0 -3.0 0zM399.35 457.22a1.5 1.18 0 1 0 3.0 0a1.5 1.18 0 1 0 -3.0 0zM408.75 457.22a1.5 1.18 0 1 0 3.0 0a1.5 1.18 0 1 0 -3.0 0zM446.35 457.22a1.5 1.18 0 1 0 3.0 0a1.5 1.18 0 1 0 -3.0 0zM455.75 457.22a1.5 1.18 0 1 0 3.0 0a1.5 1.18 0 1 0 -3.0 0zM465.15 457.22a1.5 1.18 0 1 0 3.0 0a1.5 1.18 0 1 0 -3.0 0zM469.85 457.22a1.5 1.18 0 1 0 3.0 0a1.5 1.18 0 1 0 -3.0 0zM366.45 460.08a1.5 1.18 0 1 0 3.0 0a1.5 1.18 0 1 0 -3.0 0zM375.85 460.08a1.5 1.18 0 1 0 3.0 0a1.5 1.18 0 1 0 -3.0 0zM385.25 460.08a1.5 1.18 0 1 0 3.0 0a1.5 1.18 0 1 0 -3.0 0zM389.95 460.08a1.5 1.18 0 1 0 3.0 0a1.5 1.18 0 1 0 -3.0 0zM394.65 460.08a1.5 1.18 0 1 0 3.0 0a1.5 1.18 0 1 0 -3.0 0zM399.35 460.08a1.5 1.18 0 1 0 3.0 0a1.5 1.18 0 1 0 -3.0 0zM413.45 460.08a1.5 1.18 0 1 0 3.0 0a1.5 1.18 0 1 0 -3.0 0zM418.15 460.08a1.5 1.18 0 1 0 3.0 0a1.5 1.18 0 1 0 -3.0 0zM422.85 460.08a1.5 1.18 0 1 0 3.0 0a1.5 1.18 0 1 0 -3.0 0zM436.95 460.08a1.5 1.18 0 1 0 3.0 0a1.5 1.18 0 1 0 -3.0 0zM446.35 460.08a1.5 1.18 0 1 0 3.0 0a1.5 1.18 0 1 0 -3.0 0zM469.85 460.08a1.5 1.18 0 1 0 3.0 0a1.5 1.18 0 1 0 -3.0 0zM413.45 462.95a1.5 1.18 0 1 0 3.0 0a1.5 1.18 0 1 0 -3.0 0zM422.85 462.95a1.5 1.18 0 1 0 3.0 0a1.5 1.18 0 1 0 -3.0 0zM427.55 462.95a1.5 1.18 0 1 0 3.0 0a1.5 1.18 0 1 0 -3.0 0zM465.15 462.95a1.5 1.18 0 1 0 3.0 0a1.5 1.18 0 1 0 -3.0 0zM479.25 462.95a1.5 1.18 0 1 0 3.0 0a1.5 1.18 0 1 0 -3.0 0zM380.55 465.82a1.5 1.18 0 1 0 3.0 0a1.5 1.18 0 1 0 -3.0 0zM404.05 465.82a1.5 1.18 0 1 0 3.0 0a1.5 1.18 0 1 0 -3.0 0zM422.85 465.82a1.5 1.18 0 1 0 3.0 0a1.5 1.18 0 1 0 -3.0 0zM432.25 465.82a1.5 1.18 0 1 0 3.0 0a1.5 1.18 0 1 0 -3.0 0zM436.95 465.82a1.5 1.18 0 1 0 3.0 0a1.5 1.18 0 1 0 -3.0 0zM460.45 465.82a1.5 1.18 0 1 0 3.0 0a1.5 1.18 0 1 0 -3.0 0zM479.25 465.82a1.5 1.18 0 1 0 3.0 0a1.5 1.18 0 1 0 -3.0 0zM371.15 468.69a1.5 1.18 0 1 0 3.0 0a1.5 1.18 0 1 0 -3.0 0zM399.35 468.69a1.5 1.18 0 1 0 3.0 0a1.5 1.18 0 1 0 -3.0 0zM427.55 471.56a1.5 1.18 0 1 0 3.0 0a1.5 1.18 0 1 0 -3.0 0zM436.95 471.56a1.5 1.18 0 1 0 3.0 0a1.5 1.18 0 1 0 -3.0 0zM451.05 471.56a1.5 1.18 0 1 0 3.0 0a1.5 1.18 0 1 0 -3.0 0z" fill="#fff" stroke="#111" stroke-width="0.85"/>
<text x="358.3" y="462.04999999999995" text-anchor="end" style="font-size:8.15px;" >Patient 1</text>
<text x="494.5" y="461.54999999999995" text-anchor="start" style="font-size:7.9px;" >79.6%</text>
<path d="M366.05 476.73a1.9 1.57 0 1 0 3.8 0a1.9 1.57 0 1 0 -3.8 0zM370.75 476.73a1.9 1.57 0 1 0 3.8 0a1.9 1.57 0 1 0 -3.8 0zM375.45 476.73a1.9 1.57 0 1 0 3.8 0a1.9 1.57 0 1 0 -3.8 0zM380.15 476.73a1.9 1.57 0 1 0 3.8 0a1.9 1.57 0 1 0 -3.8 0zM384.85 476.73a1.9 1.57 0 1 0 3.8 0a1.9 1.57 0 1 0 -3.8 0zM389.55 476.73a1.9 1.57 0 1 0 3.8 0a1.9 1.57 0 1 0 -3.8 0zM394.25 476.73a1.9 1.57 0 1 0 3.8 0a1.9 1.57 0 1 0 -3.8 0zM403.65 476.73a1.9 1.57 0 1 0 3.8 0a1.9 1.57 0 1 0 -3.8 0zM413.05 476.73a1.9 1.57 0 1 0 3.8 0a1.9 1.57 0 1 0 -3.8 0zM422.45 476.73a1.9 1.57 0 1 0 3.8 0a1.9 1.57 0 1 0 -3.8 0zM431.85 476.73a1.9 1.57 0 1 0 3.8 0a1.9 1.57 0 1 0 -3.8 0zM436.55 476.73a1.9 1.57 0 1 0 3.8 0a1.9 1.57 0 1 0 -3.8 0zM441.25 476.73a1.9 1.57 0 1 0 3.8 0a1.9 1.57 0 1 0 -3.8 0zM445.95 476.73a1.9 1.57 0 1 0 3.8 0a1.9 1.57 0 1 0 -3.8 0zM450.65 476.73a1.9 1.57 0 1 0 3.8 0a1.9 1.57 0 1 0 -3.8 0zM455.35 476.73a1.9 1.57 0 1 0 3.8 0a1.9 1.57 0 1 0 -3.8 0zM460.05 476.73a1.9 1.57 0 1 0 3.8 0a1.9 1.57 0 1 0 -3.8 0zM464.75 476.73a1.9 1.57 0 1 0 3.8 0a1.9 1.57 0 1 0 -3.8 0zM469.45 476.73a1.9 1.57 0 1 0 3.8 0a1.9 1.57 0 1 0 -3.8 0zM474.15 476.73a1.9 1.57 0 1 0 3.8 0a1.9 1.57 0 1 0 -3.8 0zM478.85 476.73a1.9 1.57 0 1 0 3.8 0a1.9 1.57 0 1 0 -3.8 0zM483.55 476.73a1.9 1.57 0 1 0 3.8 0a1.9 1.57 0 1 0 -3.8 0zM366.05 479.57a1.9 1.57 0 1 0 3.8 0a1.9 1.57 0 1 0 -3.8 0zM375.45 479.57a1.9 1.57 0 1 0 3.8 0a1.9 1.57 0 1 0 -3.8 0zM380.15 479.57a1.9 1.57 0 1 0 3.8 0a1.9 1.57 0 1 0 -3.8 0zM384.85 479.57a1.9 1.57 0 1 0 3.8 0a1.9 1.57 0 1 0 -3.8 0zM394.25 479.57a1.9 1.57 0 1 0 3.8 0a1.9 1.57 0 1 0 -3.8 0zM398.95 479.57a1.9 1.57 0 1 0 3.8 0a1.9 1.57 0 1 0 -3.8 0zM403.65 479.57a1.9 1.57 0 1 0 3.8 0a1.9 1.57 0 1 0 -3.8 0zM408.35 479.57a1.9 1.57 0 1 0 3.8 0a1.9 1.57 0 1 0 -3.8 0zM413.05 479.57a1.9 1.57 0 1 0 3.8 0a1.9 1.57 0 1 0 -3.8 0zM422.45 479.57a1.9 1.57 0 1 0 3.8 0a1.9 1.57 0 1 0 -3.8 0zM427.15 479.57a1.9 1.57 0 1 0 3.8 0a1.9 1.57 0 1 0 -3.8 0zM431.85 479.57a1.9 1.57 0 1 0 3.8 0a1.9 1.57 0 1 0 -3.8 0zM441.25 479.57a1.9 1.57 0 1 0 3.8 0a1.9 1.57 0 1 0 -3.8 0zM445.95 479.57a1.9 1.57 0 1 0 3.8 0a1.9 1.57 0 1 0 -3.8 0zM450.65 479.57a1.9 1.57 0 1 0 3.8 0a1.9 1.57 0 1 0 -3.8 0zM460.05 479.57a1.9 1.57 0 1 0 3.8 0a1.9 1.57 0 1 0 -3.8 0zM464.75 479.57a1.9 1.57 0 1 0 3.8 0a1.9 1.57 0 1 0 -3.8 0zM474.15 479.57a1.9 1.57 0 1 0 3.8 0a1.9 1.57 0 1 0 -3.8 0zM478.85 479.57a1.9 1.57 0 1 0 3.8 0a1.9 1.57 0 1 0 -3.8 0zM483.55 479.57a1.9 1.57 0 1 0 3.8 0a1.9 1.57 0 1 0 -3.8 0zM366.05 482.43a1.9 1.57 0 1 0 3.8 0a1.9 1.57 0 1 0 -3.8 0zM375.45 482.43a1.9 1.57 0 1 0 3.8 0a1.9 1.57 0 1 0 -3.8 0zM384.85 482.43a1.9 1.57 0 1 0 3.8 0a1.9 1.57 0 1 0 -3.8 0zM398.95 482.43a1.9 1.57 0 1 0 3.8 0a1.9 1.57 0 1 0 -3.8 0zM403.65 482.43a1.9 1.57 0 1 0 3.8 0a1.9 1.57 0 1 0 -3.8 0zM408.35 482.43a1.9 1.57 0 1 0 3.8 0a1.9 1.57 0 1 0 -3.8 0zM413.05 482.43a1.9 1.57 0 1 0 3.8 0a1.9 1.57 0 1 0 -3.8 0zM417.75 482.43a1.9 1.57 0 1 0 3.8 0a1.9 1.57 0 1 0 -3.8 0zM422.45 482.43a1.9 1.57 0 1 0 3.8 0a1.9 1.57 0 1 0 -3.8 0zM427.15 482.43a1.9 1.57 0 1 0 3.8 0a1.9 1.57 0 1 0 -3.8 0zM431.85 482.43a1.9 1.57 0 1 0 3.8 0a1.9 1.57 0 1 0 -3.8 0zM441.25 482.43a1.9 1.57 0 1 0 3.8 0a1.9 1.57 0 1 0 -3.8 0zM445.95 482.43a1.9 1.57 0 1 0 3.8 0a1.9 1.57 0 1 0 -3.8 0zM450.65 482.43a1.9 1.57 0 1 0 3.8 0a1.9 1.57 0 1 0 -3.8 0zM455.35 482.43a1.9 1.57 0 1 0 3.8 0a1.9 1.57 0 1 0 -3.8 0zM464.75 482.43a1.9 1.57 0 1 0 3.8 0a1.9 1.57 0 1 0 -3.8 0zM469.45 482.43a1.9 1.57 0 1 0 3.8 0a1.9 1.57 0 1 0 -3.8 0zM474.15 482.43a1.9 1.57 0 1 0 3.8 0a1.9 1.57 0 1 0 -3.8 0zM478.85 482.43a1.9 1.57 0 1 0 3.8 0a1.9 1.57 0 1 0 -3.8 0zM370.75 485.28a1.9 1.57 0 1 0 3.8 0a1.9 1.57 0 1 0 -3.8 0zM375.45 485.28a1.9 1.57 0 1 0 3.8 0a1.9 1.57 0 1 0 -3.8 0zM384.85 485.28a1.9 1.57 0 1 0 3.8 0a1.9 1.57 0 1 0 -3.8 0zM389.55 485.28a1.9 1.57 0 1 0 3.8 0a1.9 1.57 0 1 0 -3.8 0zM398.95 485.28a1.9 1.57 0 1 0 3.8 0a1.9 1.57 0 1 0 -3.8 0zM408.35 485.28a1.9 1.57 0 1 0 3.8 0a1.9 1.57 0 1 0 -3.8 0zM413.05 485.28a1.9 1.57 0 1 0 3.8 0a1.9 1.57 0 1 0 -3.8 0zM417.75 485.28a1.9 1.57 0 1 0 3.8 0a1.9 1.57 0 1 0 -3.8 0zM422.45 485.28a1.9 1.57 0 1 0 3.8 0a1.9 1.57 0 1 0 -3.8 0zM427.15 485.28a1.9 1.57 0 1 0 3.8 0a1.9 1.57 0 1 0 -3.8 0zM431.85 485.28a1.9 1.57 0 1 0 3.8 0a1.9 1.57 0 1 0 -3.8 0zM460.05 485.28a1.9 1.57 0 1 0 3.8 0a1.9 1.57 0 1 0 -3.8 0zM469.45 485.28a1.9 1.57 0 1 0 3.8 0a1.9 1.57 0 1 0 -3.8 0zM474.15 485.28a1.9 1.57 0 1 0 3.8 0a1.9 1.57 0 1 0 -3.8 0zM478.85 485.28a1.9 1.57 0 1 0 3.8 0a1.9 1.57 0 1 0 -3.8 0zM483.55 485.28a1.9 1.57 0 1 0 3.8 0a1.9 1.57 0 1 0 -3.8 0zM366.05 488.12a1.9 1.57 0 1 0 3.8 0a1.9 1.57 0 1 0 -3.8 0zM370.75 488.12a1.9 1.57 0 1 0 3.8 0a1.9 1.57 0 1 0 -3.8 0zM380.15 488.12a1.9 1.57 0 1 0 3.8 0a1.9 1.57 0 1 0 -3.8 0zM389.55 488.12a1.9 1.57 0 1 0 3.8 0a1.9 1.57 0 1 0 -3.8 0zM398.95 488.12a1.9 1.57 0 1 0 3.8 0a1.9 1.57 0 1 0 -3.8 0zM408.35 488.12a1.9 1.57 0 1 0 3.8 0a1.9 1.57 0 1 0 -3.8 0zM413.05 488.12a1.9 1.57 0 1 0 3.8 0a1.9 1.57 0 1 0 -3.8 0zM417.75 488.12a1.9 1.57 0 1 0 3.8 0a1.9 1.57 0 1 0 -3.8 0zM427.15 488.12a1.9 1.57 0 1 0 3.8 0a1.9 1.57 0 1 0 -3.8 0zM431.85 488.12a1.9 1.57 0 1 0 3.8 0a1.9 1.57 0 1 0 -3.8 0zM436.55 488.12a1.9 1.57 0 1 0 3.8 0a1.9 1.57 0 1 0 -3.8 0zM441.25 488.12a1.9 1.57 0 1 0 3.8 0a1.9 1.57 0 1 0 -3.8 0zM445.95 488.12a1.9 1.57 0 1 0 3.8 0a1.9 1.57 0 1 0 -3.8 0zM450.65 488.12a1.9 1.57 0 1 0 3.8 0a1.9 1.57 0 1 0 -3.8 0zM455.35 488.12a1.9 1.57 0 1 0 3.8 0a1.9 1.57 0 1 0 -3.8 0zM464.75 488.12a1.9 1.57 0 1 0 3.8 0a1.9 1.57 0 1 0 -3.8 0zM474.15 488.12a1.9 1.57 0 1 0 3.8 0a1.9 1.57 0 1 0 -3.8 0zM483.55 488.12a1.9 1.57 0 1 0 3.8 0a1.9 1.57 0 1 0 -3.8 0zM366.05 490.98a1.9 1.57 0 1 0 3.8 0a1.9 1.57 0 1 0 -3.8 0zM375.45 490.98a1.9 1.57 0 1 0 3.8 0a1.9 1.57 0 1 0 -3.8 0zM380.15 490.98a1.9 1.57 0 1 0 3.8 0a1.9 1.57 0 1 0 -3.8 0zM389.55 490.98a1.9 1.57 0 1 0 3.8 0a1.9 1.57 0 1 0 -3.8 0zM394.25 490.98a1.9 1.57 0 1 0 3.8 0a1.9 1.57 0 1 0 -3.8 0zM398.95 490.98a1.9 1.57 0 1 0 3.8 0a1.9 1.57 0 1 0 -3.8 0zM403.65 490.98a1.9 1.57 0 1 0 3.8 0a1.9 1.57 0 1 0 -3.8 0zM408.35 490.98a1.9 1.57 0 1 0 3.8 0a1.9 1.57 0 1 0 -3.8 0zM413.05 490.98a1.9 1.57 0 1 0 3.8 0a1.9 1.57 0 1 0 -3.8 0zM417.75 490.98a1.9 1.57 0 1 0 3.8 0a1.9 1.57 0 1 0 -3.8 0zM427.15 490.98a1.9 1.57 0 1 0 3.8 0a1.9 1.57 0 1 0 -3.8 0zM436.55 490.98a1.9 1.57 0 1 0 3.8 0a1.9 1.57 0 1 0 -3.8 0zM441.25 490.98a1.9 1.57 0 1 0 3.8 0a1.9 1.57 0 1 0 -3.8 0zM445.95 490.98a1.9 1.57 0 1 0 3.8 0a1.9 1.57 0 1 0 -3.8 0zM450.65 490.98a1.9 1.57 0 1 0 3.8 0a1.9 1.57 0 1 0 -3.8 0zM455.35 490.98a1.9 1.57 0 1 0 3.8 0a1.9 1.57 0 1 0 -3.8 0zM464.75 490.98a1.9 1.57 0 1 0 3.8 0a1.9 1.57 0 1 0 -3.8 0zM478.85 490.98a1.9 1.57 0 1 0 3.8 0a1.9 1.57 0 1 0 -3.8 0zM483.55 490.98a1.9 1.57 0 1 0 3.8 0a1.9 1.57 0 1 0 -3.8 0zM366.05 493.82a1.9 1.57 0 1 0 3.8 0a1.9 1.57 0 1 0 -3.8 0zM370.75 493.82a1.9 1.57 0 1 0 3.8 0a1.9 1.57 0 1 0 -3.8 0zM380.15 493.82a1.9 1.57 0 1 0 3.8 0a1.9 1.57 0 1 0 -3.8 0zM384.85 493.82a1.9 1.57 0 1 0 3.8 0a1.9 1.57 0 1 0 -3.8 0zM389.55 493.82a1.9 1.57 0 1 0 3.8 0a1.9 1.57 0 1 0 -3.8 0zM394.25 493.82a1.9 1.57 0 1 0 3.8 0a1.9 1.57 0 1 0 -3.8 0zM398.95 493.82a1.9 1.57 0 1 0 3.8 0a1.9 1.57 0 1 0 -3.8 0zM403.65 493.82a1.9 1.57 0 1 0 3.8 0a1.9 1.57 0 1 0 -3.8 0zM408.35 493.82a1.9 1.57 0 1 0 3.8 0a1.9 1.57 0 1 0 -3.8 0zM413.05 493.82a1.9 1.57 0 1 0 3.8 0a1.9 1.57 0 1 0 -3.8 0zM417.75 493.82a1.9 1.57 0 1 0 3.8 0a1.9 1.57 0 1 0 -3.8 0zM427.15 493.82a1.9 1.57 0 1 0 3.8 0a1.9 1.57 0 1 0 -3.8 0zM436.55 493.82a1.9 1.57 0 1 0 3.8 0a1.9 1.57 0 1 0 -3.8 0zM441.25 493.82a1.9 1.57 0 1 0 3.8 0a1.9 1.57 0 1 0 -3.8 0zM445.95 493.82a1.9 1.57 0 1 0 3.8 0a1.9 1.57 0 1 0 -3.8 0zM450.65 493.82a1.9 1.57 0 1 0 3.8 0a1.9 1.57 0 1 0 -3.8 0zM455.35 493.82a1.9 1.57 0 1 0 3.8 0a1.9 1.57 0 1 0 -3.8 0zM460.05 493.82a1.9 1.57 0 1 0 3.8 0a1.9 1.57 0 1 0 -3.8 0zM464.75 493.82a1.9 1.57 0 1 0 3.8 0a1.9 1.57 0 1 0 -3.8 0zM469.45 493.82a1.9 1.57 0 1 0 3.8 0a1.9 1.57 0 1 0 -3.8 0zM478.85 493.82a1.9 1.57 0 1 0 3.8 0a1.9 1.57 0 1 0 -3.8 0zM483.55 493.82a1.9 1.57 0 1 0 3.8 0a1.9 1.57 0 1 0 -3.8 0zM366.05 496.68a1.9 1.57 0 1 0 3.8 0a1.9 1.57 0 1 0 -3.8 0zM370.75 496.68a1.9 1.57 0 1 0 3.8 0a1.9 1.57 0 1 0 -3.8 0zM380.15 496.68a1.9 1.57 0 1 0 3.8 0a1.9 1.57 0 1 0 -3.8 0zM384.85 496.68a1.9 1.57 0 1 0 3.8 0a1.9 1.57 0 1 0 -3.8 0zM389.55 496.68a1.9 1.57 0 1 0 3.8 0a1.9 1.57 0 1 0 -3.8 0zM394.25 496.68a1.9 1.57 0 1 0 3.8 0a1.9 1.57 0 1 0 -3.8 0zM398.95 496.68a1.9 1.57 0 1 0 3.8 0a1.9 1.57 0 1 0 -3.8 0zM403.65 496.68a1.9 1.57 0 1 0 3.8 0a1.9 1.57 0 1 0 -3.8 0zM413.05 496.68a1.9 1.57 0 1 0 3.8 0a1.9 1.57 0 1 0 -3.8 0zM417.75 496.68a1.9 1.57 0 1 0 3.8 0a1.9 1.57 0 1 0 -3.8 0zM422.45 496.68a1.9 1.57 0 1 0 3.8 0a1.9 1.57 0 1 0 -3.8 0zM427.15 496.68a1.9 1.57 0 1 0 3.8 0a1.9 1.57 0 1 0 -3.8 0zM431.85 496.68a1.9 1.57 0 1 0 3.8 0a1.9 1.57 0 1 0 -3.8 0zM436.55 496.68a1.9 1.57 0 1 0 3.8 0a1.9 1.57 0 1 0 -3.8 0zM441.25 496.68a1.9 1.57 0 1 0 3.8 0a1.9 1.57 0 1 0 -3.8 0zM445.95 496.68a1.9 1.57 0 1 0 3.8 0a1.9 1.57 0 1 0 -3.8 0zM455.35 496.68a1.9 1.57 0 1 0 3.8 0a1.9 1.57 0 1 0 -3.8 0zM460.05 496.68a1.9 1.57 0 1 0 3.8 0a1.9 1.57 0 1 0 -3.8 0zM464.75 496.68a1.9 1.57 0 1 0 3.8 0a1.9 1.57 0 1 0 -3.8 0zM469.45 496.68a1.9 1.57 0 1 0 3.8 0a1.9 1.57 0 1 0 -3.8 0zM474.15 496.68a1.9 1.57 0 1 0 3.8 0a1.9 1.57 0 1 0 -3.8 0zM483.55 496.68a1.9 1.57 0 1 0 3.8 0a1.9 1.57 0 1 0 -3.8 0zM366.05 499.53a1.9 1.57 0 1 0 3.8 0a1.9 1.57 0 1 0 -3.8 0zM370.75 499.53a1.9 1.57 0 1 0 3.8 0a1.9 1.57 0 1 0 -3.8 0zM375.45 499.53a1.9 1.57 0 1 0 3.8 0a1.9 1.57 0 1 0 -3.8 0zM380.15 499.53a1.9 1.57 0 1 0 3.8 0a1.9 1.57 0 1 0 -3.8 0zM384.85 499.53a1.9 1.57 0 1 0 3.8 0a1.9 1.57 0 1 0 -3.8 0zM389.55 499.53a1.9 1.57 0 1 0 3.8 0a1.9 1.57 0 1 0 -3.8 0zM394.25 499.53a1.9 1.57 0 1 0 3.8 0a1.9 1.57 0 1 0 -3.8 0zM398.95 499.53a1.9 1.57 0 1 0 3.8 0a1.9 1.57 0 1 0 -3.8 0zM403.65 499.53a1.9 1.57 0 1 0 3.8 0a1.9 1.57 0 1 0 -3.8 0zM413.05 499.53a1.9 1.57 0 1 0 3.8 0a1.9 1.57 0 1 0 -3.8 0zM417.75 499.53a1.9 1.57 0 1 0 3.8 0a1.9 1.57 0 1 0 -3.8 0zM422.45 499.53a1.9 1.57 0 1 0 3.8 0a1.9 1.57 0 1 0 -3.8 0zM427.15 499.53a1.9 1.57 0 1 0 3.8 0a1.9 1.57 0 1 0 -3.8 0zM431.85 499.53a1.9 1.57 0 1 0 3.8 0a1.9 1.57 0 1 0 -3.8 0zM436.55 499.53a1.9 1.57 0 1 0 3.8 0a1.9 1.57 0 1 0 -3.8 0zM441.25 499.53a1.9 1.57 0 1 0 3.8 0a1.9 1.57 0 1 0 -3.8 0zM445.95 499.53a1.9 1.57 0 1 0 3.8 0a1.9 1.57 0 1 0 -3.8 0zM450.65 499.53a1.9 1.57 0 1 0 3.8 0a1.9 1.57 0 1 0 -3.8 0zM455.35 499.53a1.9 1.57 0 1 0 3.8 0a1.9 1.57 0 1 0 -3.8 0zM460.05 499.53a1.9 1.57 0 1 0 3.8 0a1.9 1.57 0 1 0 -3.8 0zM469.45 499.53a1.9 1.57 0 1 0 3.8 0a1.9 1.57 0 1 0 -3.8 0zM474.15 499.53a1.9 1.57 0 1 0 3.8 0a1.9 1.57 0 1 0 -3.8 0zM478.85 499.53a1.9 1.57 0 1 0 3.8 0a1.9 1.57 0 1 0 -3.8 0zM483.55 499.53a1.9 1.57 0 1 0 3.8 0a1.9 1.57 0 1 0 -3.8 0zM375.45 502.38a1.9 1.57 0 1 0 3.8 0a1.9 1.57 0 1 0 -3.8 0zM394.25 502.38a1.9 1.57 0 1 0 3.8 0a1.9 1.57 0 1 0 -3.8 0zM403.65 502.38a1.9 1.57 0 1 0 3.8 0a1.9 1.57 0 1 0 -3.8 0zM408.35 502.38a1.9 1.57 0 1 0 3.8 0a1.9 1.57 0 1 0 -3.8 0zM417.75 502.38a1.9 1.57 0 1 0 3.8 0a1.9 1.57 0 1 0 -3.8 0zM422.45 502.38a1.9 1.57 0 1 0 3.8 0a1.9 1.57 0 1 0 -3.8 0zM445.95 502.38a1.9 1.57 0 1 0 3.8 0a1.9 1.57 0 1 0 -3.8 0zM450.65 502.38a1.9 1.57 0 1 0 3.8 0a1.9 1.57 0 1 0 -3.8 0zM455.35 502.38a1.9 1.57 0 1 0 3.8 0a1.9 1.57 0 1 0 -3.8 0zM460.05 502.38a1.9 1.57 0 1 0 3.8 0a1.9 1.57 0 1 0 -3.8 0zM469.45 502.38a1.9 1.57 0 1 0 3.8 0a1.9 1.57 0 1 0 -3.8 0zM474.15 502.38a1.9 1.57 0 1 0 3.8 0a1.9 1.57 0 1 0 -3.8 0zM478.85 502.38a1.9 1.57 0 1 0 3.8 0a1.9 1.57 0 1 0 -3.8 0zM483.55 502.38a1.9 1.57 0 1 0 3.8 0a1.9 1.57 0 1 0 -3.8 0z" fill="#000"/>
<path d="M399.35 476.73a1.5 1.18 0 1 0 3.0 0a1.5 1.18 0 1 0 -3.0 0zM408.75 476.73a1.5 1.18 0 1 0 3.0 0a1.5 1.18 0 1 0 -3.0 0zM418.15 476.73a1.5 1.18 0 1 0 3.0 0a1.5 1.18 0 1 0 -3.0 0zM427.55 476.73a1.5 1.18 0 1 0 3.0 0a1.5 1.18 0 1 0 -3.0 0zM371.15 479.57a1.5 1.18 0 1 0 3.0 0a1.5 1.18 0 1 0 -3.0 0zM389.95 479.57a1.5 1.18 0 1 0 3.0 0a1.5 1.18 0 1 0 -3.0 0zM418.15 479.57a1.5 1.18 0 1 0 3.0 0a1.5 1.18 0 1 0 -3.0 0zM436.95 479.57a1.5 1.18 0 1 0 3.0 0a1.5 1.18 0 1 0 -3.0 0zM455.75 479.57a1.5 1.18 0 1 0 3.0 0a1.5 1.18 0 1 0 -3.0 0zM469.85 479.57a1.5 1.18 0 1 0 3.0 0a1.5 1.18 0 1 0 -3.0 0zM371.15 482.43a1.5 1.18 0 1 0 3.0 0a1.5 1.18 0 1 0 -3.0 0zM380.55 482.43a1.5 1.18 0 1 0 3.0 0a1.5 1.18 0 1 0 -3.0 0zM389.95 482.43a1.5 1.18 0 1 0 3.0 0a1.5 1.18 0 1 0 -3.0 0zM394.65 482.43a1.5 1.18 0 1 0 3.0 0a1.5 1.18 0 1 0 -3.0 0zM436.95 482.43a1.5 1.18 0 1 0 3.0 0a1.5 1.18 0 1 0 -3.0 0zM460.45 482.43a1.5 1.18 0 1 0 3.0 0a1.5 1.18 0 1 0 -3.0 0zM483.95 482.43a1.5 1.18 0 1 0 3.0 0a1.5 1.18 0 1 0 -3.0 0zM366.45 485.28a1.5 1.18 0 1 0 3.0 0a1.5 1.18 0 1 0 -3.0 0zM380.55 485.28a1.5 1.18 0 1 0 3.0 0a1.5 1.18 0 1 0 -3.0 0zM394.65 485.28a1.5 1.18 0 1 0 3.0 0a1.5 1.18 0 1 0 -3.0 0zM404.05 485.28a1.5 1.18 0 1 0 3.0 0a1.5 1.18 0 1 0 -3.0 0zM436.95 485.28a1.5 1.18 0 1 0 3.0 0a1.5 1.18 0 1 0 -3.0 0zM441.65 485.28a1.5 1.18 0 1 0 3.0 0a1.5 1.18 0 1 0 -3.0 0zM446.35 485.28a1.5 1.18 0 1 0 3.0 0a1.5 1.18 0 1 0 -3.0 0zM451.05 485.28a1.5 1.18 0 1 0 3.0 0a1.5 1.18 0 1 0 -3.0 0zM455.75 485.28a1.5 1.18 0 1 0 3.0 0a1.5 1.18 0 1 0 -3.0 0zM465.15 485.28a1.5 1.18 0 1 0 3.0 0a1.5 1.18 0 1 0 -3.0 0zM375.85 488.12a1.5 1.18 0 1 0 3.0 0a1.5 1.18 0 1 0 -3.0 0zM385.25 488.12a1.5 1.18 0 1 0 3.0 0a1.5 1.18 0 1 0 -3.0 0zM394.65 488.12a1.5 1.18 0 1 0 3.0 0a1.5 1.18 0 1 0 -3.0 0zM404.05 488.12a1.5 1.18 0 1 0 3.0 0a1.5 1.18 0 1 0 -3.0 0zM422.85 488.12a1.5 1.18 0 1 0 3.0 0a1.5 1.18 0 1 0 -3.0 0zM460.45 488.12a1.5 1.18 0 1 0 3.0 0a1.5 1.18 0 1 0 -3.0 0zM469.85 488.12a1.5 1.18 0 1 0 3.0 0a1.5 1.18 0 1 0 -3.0 0zM479.25 488.12a1.5 1.18 0 1 0 3.0 0a1.5 1.18 0 1 0 -3.0 0zM371.15 490.98a1.5 1.18 0 1 0 3.0 0a1.5 1.18 0 1 0 -3.0 0zM385.25 490.98a1.5 1.18 0 1 0 3.0 0a1.5 1.18 0 1 0 -3.0 0zM422.85 490.98a1.5 1.18 0 1 0 3.0 0a1.5 1.18 0 1 0 -3.0 0zM432.25 490.98a1.5 1.18 0 1 0 3.0 0a1.5 1.18 0 1 0 -3.0 0zM460.45 490.98a1.5 1.18 0 1 0 3.0 0a1.5 1.18 0 1 0 -3.0 0zM469.85 490.98a1.5 1.18 0 1 0 3.0 0a1.5 1.18 0 1 0 -3.0 0zM474.55 490.98a1.5 1.18 0 1 0 3.0 0a1.5 1.18 0 1 0 -3.0 0zM375.85 493.82a1.5 1.18 0 1 0 3.0 0a1.5 1.18 0 1 0 -3.0 0zM422.85 493.82a1.5 1.18 0 1 0 3.0 0a1.5 1.18 0 1 0 -3.0 0zM432.25 493.82a1.5 1.18 0 1 0 3.0 0a1.5 1.18 0 1 0 -3.0 0zM474.55 493.82a1.5 1.18 0 1 0 3.0 0a1.5 1.18 0 1 0 -3.0 0zM375.85 496.68a1.5 1.18 0 1 0 3.0 0a1.5 1.18 0 1 0 -3.0 0zM408.75 496.68a1.5 1.18 0 1 0 3.0 0a1.5 1.18 0 1 0 -3.0 0zM451.05 496.68a1.5 1.18 0 1 0 3.0 0a1.5 1.18 0 1 0 -3.0 0zM479.25 496.68a1.5 1.18 0 1 0 3.0 0a1.5 1.18 0 1 0 -3.0 0zM408.75 499.53a1.5 1.18 0 1 0 3.0 0a1.5 1.18 0 1 0 -3.0 0zM465.15 499.53a1.5 1.18 0 1 0 3.0 0a1.5 1.18 0 1 0 -3.0 0zM366.45 502.38a1.5 1.18 0 1 0 3.0 0a1.5 1.18 0 1 0 -3.0 0zM371.15 502.38a1.5 1.18 0 1 0 3.0 0a1.5 1.18 0 1 0 -3.0 0zM380.55 502.38a1.5 1.18 0 1 0 3.0 0a1.5 1.18 0 1 0 -3.0 0zM385.25 502.38a1.5 1.18 0 1 0 3.0 0a1.5 1.18 0 1 0 -3.0 0zM389.95 502.38a1.5 1.18 0 1 0 3.0 0a1.5 1.18 0 1 0 -3.0 0zM399.35 502.38a1.5 1.18 0 1 0 3.0 0a1.5 1.18 0 1 0 -3.0 0zM413.45 502.38a1.5 1.18 0 1 0 3.0 0a1.5 1.18 0 1 0 -3.0 0zM427.55 502.38a1.5 1.18 0 1 0 3.0 0a1.5 1.18 0 1 0 -3.0 0zM432.25 502.38a1.5 1.18 0 1 0 3.0 0a1.5 1.18 0 1 0 -3.0 0zM436.95 502.38a1.5 1.18 0 1 0 3.0 0a1.5 1.18 0 1 0 -3.0 0zM441.65 502.38a1.5 1.18 0 1 0 3.0 0a1.5 1.18 0 1 0 -3.0 0zM465.15 502.38a1.5 1.18 0 1 0 3.0 0a1.5 1.18 0 1 0 -3.0 0z" fill="#fff" stroke="#111" stroke-width="0.85"/>
<text x="358.3" y="492.95" text-anchor="end" style="font-size:8.15px;" >Patient 2</text>
<text x="494.5" y="492.45" text-anchor="start" style="font-size:7.9px;" >75.4%</text>
<path d="M370.75 507.45a1.9 1.6 0 1 0 3.8 0a1.9 1.6 0 1 0 -3.8 0zM469.45 507.45a1.9 1.6 0 1 0 3.8 0a1.9 1.6 0 1 0 -3.8 0zM427.15 510.35a1.9 1.6 0 1 0 3.8 0a1.9 1.6 0 1 0 -3.8 0zM478.85 510.35a1.9 1.6 0 1 0 3.8 0a1.9 1.6 0 1 0 -3.8 0zM408.35 513.25a1.9 1.6 0 1 0 3.8 0a1.9 1.6 0 1 0 -3.8 0zM460.05 513.25a1.9 1.6 0 1 0 3.8 0a1.9 1.6 0 1 0 -3.8 0zM422.45 516.15a1.9 1.6 0 1 0 3.8 0a1.9 1.6 0 1 0 -3.8 0zM431.85 516.15a1.9 1.6 0 1 0 3.8 0a1.9 1.6 0 1 0 -3.8 0zM460.05 516.15a1.9 1.6 0 1 0 3.8 0a1.9 1.6 0 1 0 -3.8 0zM366.05 519.05a1.9 1.6 0 1 0 3.8 0a1.9 1.6 0 1 0 -3.8 0zM370.75 519.05a1.9 1.6 0 1 0 3.8 0a1.9 1.6 0 1 0 -3.8 0zM375.45 519.05a1.9 1.6 0 1 0 3.8 0a1.9 1.6 0 1 0 -3.8 0zM380.15 519.05a1.9 1.6 0 1 0 3.8 0a1.9 1.6 0 1 0 -3.8 0zM389.55 521.95a1.9 1.6 0 1 0 3.8 0a1.9 1.6 0 1 0 -3.8 0zM413.05 524.85a1.9 1.6 0 1 0 3.8 0a1.9 1.6 0 1 0 -3.8 0zM441.25 524.85a1.9 1.6 0 1 0 3.8 0a1.9 1.6 0 1 0 -3.8 0zM394.25 527.75a1.9 1.6 0 1 0 3.8 0a1.9 1.6 0 1 0 -3.8 0zM422.45 527.75a1.9 1.6 0 1 0 3.8 0a1.9 1.6 0 1 0 -3.8 0zM469.45 527.75a1.9 1.6 0 1 0 3.8 0a1.9 1.6 0 1 0 -3.8 0zM483.55 527.75a1.9 1.6 0 1 0 3.8 0a1.9 1.6 0 1 0 -3.8 0zM431.85 530.65a1.9 1.6 0 1 0 3.8 0a1.9 1.6 0 1 0 -3.8 0zM455.35 530.65a1.9 1.6 0 1 0 3.8 0a1.9 1.6 0 1 0 -3.8 0zM469.45 530.65a1.9 1.6 0 1 0 3.8 0a1.9 1.6 0 1 0 -3.8 0zM445.95 533.55a1.9 1.6 0 1 0 3.8 0a1.9 1.6 0 1 0 -3.8 0zM469.45 533.55a1.9 1.6 0 1 0 3.8 0a1.9 1.6 0 1 0 -3.8 0z" fill="#000"/>
<path d="M366.45 507.45a1.5 1.2 0 1 0 3.0 0a1.5 1.2 0 1 0 -3.0 0zM375.85 507.45a1.5 1.2 0 1 0 3.0 0a1.5 1.2 0 1 0 -3.0 0zM380.55 507.45a1.5 1.2 0 1 0 3.0 0a1.5 1.2 0 1 0 -3.0 0zM385.25 507.45a1.5 1.2 0 1 0 3.0 0a1.5 1.2 0 1 0 -3.0 0zM389.95 507.45a1.5 1.2 0 1 0 3.0 0a1.5 1.2 0 1 0 -3.0 0zM394.65 507.45a1.5 1.2 0 1 0 3.0 0a1.5 1.2 0 1 0 -3.0 0zM399.35 507.45a1.5 1.2 0 1 0 3.0 0a1.5 1.2 0 1 0 -3.0 0zM404.05 507.45a1.5 1.2 0 1 0 3.0 0a1.5 1.2 0 1 0 -3.0 0zM408.75 507.45a1.5 1.2 0 1 0 3.0 0a1.5 1.2 0 1 0 -3.0 0zM413.45 507.45a1.5 1.2 0 1 0 3.0 0a1.5 1.2 0 1 0 -3.0 0zM418.15 507.45a1.5 1.2 0 1 0 3.0 0a1.5 1.2 0 1 0 -3.0 0zM422.85 507.45a1.5 1.2 0 1 0 3.0 0a1.5 1.2 0 1 0 -3.0 0zM427.55 507.45a1.5 1.2 0 1 0 3.0 0a1.5 1.2 0 1 0 -3.0 0zM432.25 507.45a1.5 1.2 0 1 0 3.0 0a1.5 1.2 0 1 0 -3.0 0zM436.95 507.45a1.5 1.2 0 1 0 3.0 0a1.5 1.2 0 1 0 -3.0 0zM441.65 507.45a1.5 1.2 0 1 0 3.0 0a1.5 1.2 0 1 0 -3.0 0zM446.35 507.45a1.5 1.2 0 1 0 3.0 0a1.5 1.2 0 1 0 -3.0 0zM451.05 507.45a1.5 1.2 0 1 0 3.0 0a1.5 1.2 0 1 0 -3.0 0zM455.75 507.45a1.5 1.2 0 1 0 3.0 0a1.5 1.2 0 1 0 -3.0 0zM460.45 507.45a1.5 1.2 0 1 0 3.0 0a1.5 1.2 0 1 0 -3.0 0zM465.15 507.45a1.5 1.2 0 1 0 3.0 0a1.5 1.2 0 1 0 -3.0 0zM474.55 507.45a1.5 1.2 0 1 0 3.0 0a1.5 1.2 0 1 0 -3.0 0zM479.25 507.45a1.5 1.2 0 1 0 3.0 0a1.5 1.2 0 1 0 -3.0 0zM483.95 507.45a1.5 1.2 0 1 0 3.0 0a1.5 1.2 0 1 0 -3.0 0zM366.45 510.35a1.5 1.2 0 1 0 3.0 0a1.5 1.2 0 1 0 -3.0 0zM371.15 510.35a1.5 1.2 0 1 0 3.0 0a1.5 1.2 0 1 0 -3.0 0zM375.85 510.35a1.5 1.2 0 1 0 3.0 0a1.5 1.2 0 1 0 -3.0 0zM380.55 510.35a1.5 1.2 0 1 0 3.0 0a1.5 1.2 0 1 0 -3.0 0zM385.25 510.35a1.5 1.2 0 1 0 3.0 0a1.5 1.2 0 1 0 -3.0 0zM389.95 510.35a1.5 1.2 0 1 0 3.0 0a1.5 1.2 0 1 0 -3.0 0zM394.65 510.35a1.5 1.2 0 1 0 3.0 0a1.5 1.2 0 1 0 -3.0 0zM399.35 510.35a1.5 1.2 0 1 0 3.0 0a1.5 1.2 0 1 0 -3.0 0zM404.05 510.35a1.5 1.2 0 1 0 3.0 0a1.5 1.2 0 1 0 -3.0 0zM408.75 510.35a1.5 1.2 0 1 0 3.0 0a1.5 1.2 0 1 0 -3.0 0zM413.45 510.35a1.5 1.2 0 1 0 3.0 0a1.5 1.2 0 1 0 -3.0 0zM418.15 510.35a1.5 1.2 0 1 0 3.0 0a1.5 1.2 0 1 0 -3.0 0zM422.85 510.35a1.5 1.2 0 1 0 3.0 0a1.5 1.2 0 1 0 -3.0 0zM432.25 510.35a1.5 1.2 0 1 0 3.0 0a1.5 1.2 0 1 0 -3.0 0zM436.95 510.35a1.5 1.2 0 1 0 3.0 0a1.5 1.2 0 1 0 -3.0 0zM441.65 510.35a1.5 1.2 0 1 0 3.0 0a1.5 1.2 0 1 0 -3.0 0zM446.35 510.35a1.5 1.2 0 1 0 3.0 0a1.5 1.2 0 1 0 -3.0 0zM451.05 510.35a1.5 1.2 0 1 0 3.0 0a1.5 1.2 0 1 0 -3.0 0zM455.75 510.35a1.5 1.2 0 1 0 3.0 0a1.5 1.2 0 1 0 -3.0 0zM460.45 510.35a1.5 1.2 0 1 0 3.0 0a1.5 1.2 0 1 0 -3.0 0zM465.15 510.35a1.5 1.2 0 1 0 3.0 0a1.5 1.2 0 1 0 -3.0 0zM469.85 510.35a1.5 1.2 0 1 0 3.0 0a1.5 1.2 0 1 0 -3.0 0zM474.55 510.35a1.5 1.2 0 1 0 3.0 0a1.5 1.2 0 1 0 -3.0 0zM483.95 510.35a1.5 1.2 0 1 0 3.0 0a1.5 1.2 0 1 0 -3.0 0zM366.45 513.25a1.5 1.2 0 1 0 3.0 0a1.5 1.2 0 1 0 -3.0 0zM371.15 513.25a1.5 1.2 0 1 0 3.0 0a1.5 1.2 0 1 0 -3.0 0zM375.85 513.25a1.5 1.2 0 1 0 3.0 0a1.5 1.2 0 1 0 -3.0 0zM380.55 513.25a1.5 1.2 0 1 0 3.0 0a1.5 1.2 0 1 0 -3.0 0zM385.25 513.25a1.5 1.2 0 1 0 3.0 0a1.5 1.2 0 1 0 -3.0 0zM389.95 513.25a1.5 1.2 0 1 0 3.0 0a1.5 1.2 0 1 0 -3.0 0zM394.65 513.25a1.5 1.2 0 1 0 3.0 0a1.5 1.2 0 1 0 -3.0 0zM399.35 513.25a1.5 1.2 0 1 0 3.0 0a1.5 1.2 0 1 0 -3.0 0zM404.05 513.25a1.5 1.2 0 1 0 3.0 0a1.5 1.2 0 1 0 -3.0 0zM413.45 513.25a1.5 1.2 0 1 0 3.0 0a1.5 1.2 0 1 0 -3.0 0zM418.15 513.25a1.5 1.2 0 1 0 3.0 0a1.5 1.2 0 1 0 -3.0 0zM422.85 513.25a1.5 1.2 0 1 0 3.0 0a1.5 1.2 0 1 0 -3.0 0zM427.55 513.25a1.5 1.2 0 1 0 3.0 0a1.5 1.2 0 1 0 -3.0 0zM432.25 513.25a1.5 1.2 0 1 0 3.0 0a1.5 1.2 0 1 0 -3.0 0zM436.95 513.25a1.5 1.2 0 1 0 3.0 0a1.5 1.2 0 1 0 -3.0 0zM441.65 513.25a1.5 1.2 0 1 0 3.0 0a1.5 1.2 0 1 0 -3.0 0zM446.35 513.25a1.5 1.2 0 1 0 3.0 0a1.5 1.2 0 1 0 -3.0 0zM451.05 513.25a1.5 1.2 0 1 0 3.0 0a1.5 1.2 0 1 0 -3.0 0zM455.75 513.25a1.5 1.2 0 1 0 3.0 0a1.5 1.2 0 1 0 -3.0 0zM465.15 513.25a1.5 1.2 0 1 0 3.0 0a1.5 1.2 0 1 0 -3.0 0zM469.85 513.25a1.5 1.2 0 1 0 3.0 0a1.5 1.2 0 1 0 -3.0 0zM474.55 513.25a1.5 1.2 0 1 0 3.0 0a1.5 1.2 0 1 0 -3.0 0zM479.25 513.25a1.5 1.2 0 1 0 3.0 0a1.5 1.2 0 1 0 -3.0 0zM483.95 513.25a1.5 1.2 0 1 0 3.0 0a1.5 1.2 0 1 0 -3.0 0zM366.45 516.15a1.5 1.2 0 1 0 3.0 0a1.5 1.2 0 1 0 -3.0 0zM371.15 516.15a1.5 1.2 0 1 0 3.0 0a1.5 1.2 0 1 0 -3.0 0zM375.85 516.15a1.5 1.2 0 1 0 3.0 0a1.5 1.2 0 1 0 -3.0 0zM380.55 516.15a1.5 1.2 0 1 0 3.0 0a1.5 1.2 0 1 0 -3.0 0zM385.25 516.15a1.5 1.2 0 1 0 3.0 0a1.5 1.2 0 1 0 -3.0 0zM389.95 516.15a1.5 1.2 0 1 0 3.0 0a1.5 1.2 0 1 0 -3.0 0zM394.65 516.15a1.5 1.2 0 1 0 3.0 0a1.5 1.2 0 1 0 -3.0 0zM399.35 516.15a1.5 1.2 0 1 0 3.0 0a1.5 1.2 0 1 0 -3.0 0zM404.05 516.15a1.5 1.2 0 1 0 3.0 0a1.5 1.2 0 1 0 -3.0 0zM408.75 516.15a1.5 1.2 0 1 0 3.0 0a1.5 1.2 0 1 0 -3.0 0zM413.45 516.15a1.5 1.2 0 1 0 3.0 0a1.5 1.2 0 1 0 -3.0 0zM418.15 516.15a1.5 1.2 0 1 0 3.0 0a1.5 1.2 0 1 0 -3.0 0zM427.55 516.15a1.5 1.2 0 1 0 3.0 0a1.5 1.2 0 1 0 -3.0 0zM436.95 516.15a1.5 1.2 0 1 0 3.0 0a1.5 1.2 0 1 0 -3.0 0zM441.65 516.15a1.5 1.2 0 1 0 3.0 0a1.5 1.2 0 1 0 -3.0 0zM446.35 516.15a1.5 1.2 0 1 0 3.0 0a1.5 1.2 0 1 0 -3.0 0zM451.05 516.15a1.5 1.2 0 1 0 3.0 0a1.5 1.2 0 1 0 -3.0 0zM455.75 516.15a1.5 1.2 0 1 0 3.0 0a1.5 1.2 0 1 0 -3.0 0zM465.15 516.15a1.5 1.2 0 1 0 3.0 0a1.5 1.2 0 1 0 -3.0 0zM469.85 516.15a1.5 1.2 0 1 0 3.0 0a1.5 1.2 0 1 0 -3.0 0zM474.55 516.15a1.5 1.2 0 1 0 3.0 0a1.5 1.2 0 1 0 -3.0 0zM479.25 516.15a1.5 1.2 0 1 0 3.0 0a1.5 1.2 0 1 0 -3.0 0zM483.95 516.15a1.5 1.2 0 1 0 3.0 0a1.5 1.2 0 1 0 -3.0 0zM385.25 519.05a1.5 1.2 0 1 0 3.0 0a1.5 1.2 0 1 0 -3.0 0zM389.95 519.05a1.5 1.2 0 1 0 3.0 0a1.5 1.2 0 1 0 -3.0 0zM394.65 519.05a1.5 1.2 0 1 0 3.0 0a1.5 1.2 0 1 0 -3.0 0zM399.35 519.05a1.5 1.2 0 1 0 3.0 0a1.5 1.2 0 1 0 -3.0 0zM404.05 519.05a1.5 1.2 0 1 0 3.0 0a1.5 1.2 0 1 0 -3.0 0zM408.75 519.05a1.5 1.2 0 1 0 3.0 0a1.5 1.2 0 1 0 -3.0 0zM413.45 519.05a1.5 1.2 0 1 0 3.0 0a1.5 1.2 0 1 0 -3.0 0zM418.15 519.05a1.5 1.2 0 1 0 3.0 0a1.5 1.2 0 1 0 -3.0 0zM422.85 519.05a1.5 1.2 0 1 0 3.0 0a1.5 1.2 0 1 0 -3.0 0zM427.55 519.05a1.5 1.2 0 1 0 3.0 0a1.5 1.2 0 1 0 -3.0 0zM432.25 519.05a1.5 1.2 0 1 0 3.0 0a1.5 1.2 0 1 0 -3.0 0zM436.95 519.05a1.5 1.2 0 1 0 3.0 0a1.5 1.2 0 1 0 -3.0 0zM441.65 519.05a1.5 1.2 0 1 0 3.0 0a1.5 1.2 0 1 0 -3.0 0zM446.35 519.05a1.5 1.2 0 1 0 3.0 0a1.5 1.2 0 1 0 -3.0 0zM451.05 519.05a1.5 1.2 0 1 0 3.0 0a1.5 1.2 0 1 0 -3.0 0zM455.75 519.05a1.5 1.2 0 1 0 3.0 0a1.5 1.2 0 1 0 -3.0 0zM460.45 519.05a1.5 1.2 0 1 0 3.0 0a1.5 1.2 0 1 0 -3.0 0zM465.15 519.05a1.5 1.2 0 1 0 3.0 0a1.5 1.2 0 1 0 -3.0 0zM469.85 519.05a1.5 1.2 0 1 0 3.0 0a1.5 1.2 0 1 0 -3.0 0zM474.55 519.05a1.5 1.2 0 1 0 3.0 0a1.5 1.2 0 1 0 -3.0 0zM479.25 519.05a1.5 1.2 0 1 0 3.0 0a1.5 1.2 0 1 0 -3.0 0zM483.95 519.05a1.5 1.2 0 1 0 3.0 0a1.5 1.2 0 1 0 -3.0 0zM366.45 521.95a1.5 1.2 0 1 0 3.0 0a1.5 1.2 0 1 0 -3.0 0zM371.15 521.95a1.5 1.2 0 1 0 3.0 0a1.5 1.2 0 1 0 -3.0 0zM375.85 521.95a1.5 1.2 0 1 0 3.0 0a1.5 1.2 0 1 0 -3.0 0zM380.55 521.95a1.5 1.2 0 1 0 3.0 0a1.5 1.2 0 1 0 -3.0 0zM385.25 521.95a1.5 1.2 0 1 0 3.0 0a1.5 1.2 0 1 0 -3.0 0zM394.65 521.95a1.5 1.2 0 1 0 3.0 0a1.5 1.2 0 1 0 -3.0 0zM399.35 521.95a1.5 1.2 0 1 0 3.0 0a1.5 1.2 0 1 0 -3.0 0zM404.05 521.95a1.5 1.2 0 1 0 3.0 0a1.5 1.2 0 1 0 -3.0 0zM408.75 521.95a1.5 1.2 0 1 0 3.0 0a1.5 1.2 0 1 0 -3.0 0zM413.45 521.95a1.5 1.2 0 1 0 3.0 0a1.5 1.2 0 1 0 -3.0 0zM418.15 521.95a1.5 1.2 0 1 0 3.0 0a1.5 1.2 0 1 0 -3.0 0zM422.85 521.95a1.5 1.2 0 1 0 3.0 0a1.5 1.2 0 1 0 -3.0 0zM427.55 521.95a1.5 1.2 0 1 0 3.0 0a1.5 1.2 0 1 0 -3.0 0zM432.25 521.95a1.5 1.2 0 1 0 3.0 0a1.5 1.2 0 1 0 -3.0 0zM436.95 521.95a1.5 1.2 0 1 0 3.0 0a1.5 1.2 0 1 0 -3.0 0zM441.65 521.95a1.5 1.2 0 1 0 3.0 0a1.5 1.2 0 1 0 -3.0 0zM446.35 521.95a1.5 1.2 0 1 0 3.0 0a1.5 1.2 0 1 0 -3.0 0zM451.05 521.95a1.5 1.2 0 1 0 3.0 0a1.5 1.2 0 1 0 -3.0 0zM455.75 521.95a1.5 1.2 0 1 0 3.0 0a1.5 1.2 0 1 0 -3.0 0zM460.45 521.95a1.5 1.2 0 1 0 3.0 0a1.5 1.2 0 1 0 -3.0 0zM465.15 521.95a1.5 1.2 0 1 0 3.0 0a1.5 1.2 0 1 0 -3.0 0zM469.85 521.95a1.5 1.2 0 1 0 3.0 0a1.5 1.2 0 1 0 -3.0 0zM474.55 521.95a1.5 1.2 0 1 0 3.0 0a1.5 1.2 0 1 0 -3.0 0zM479.25 521.95a1.5 1.2 0 1 0 3.0 0a1.5 1.2 0 1 0 -3.0 0zM483.95 521.95a1.5 1.2 0 1 0 3.0 0a1.5 1.2 0 1 0 -3.0 0zM366.45 524.85a1.5 1.2 0 1 0 3.0 0a1.5 1.2 0 1 0 -3.0 0zM371.15 524.85a1.5 1.2 0 1 0 3.0 0a1.5 1.2 0 1 0 -3.0 0zM375.85 524.85a1.5 1.2 0 1 0 3.0 0a1.5 1.2 0 1 0 -3.0 0zM380.55 524.85a1.5 1.2 0 1 0 3.0 0a1.5 1.2 0 1 0 -3.0 0zM385.25 524.85a1.5 1.2 0 1 0 3.0 0a1.5 1.2 0 1 0 -3.0 0zM389.95 524.85a1.5 1.2 0 1 0 3.0 0a1.5 1.2 0 1 0 -3.0 0zM394.65 524.85a1.5 1.2 0 1 0 3.0 0a1.5 1.2 0 1 0 -3.0 0zM399.35 524.85a1.5 1.2 0 1 0 3.0 0a1.5 1.2 0 1 0 -3.0 0zM404.05 524.85a1.5 1.2 0 1 0 3.0 0a1.5 1.2 0 1 0 -3.0 0zM408.75 524.85a1.5 1.2 0 1 0 3.0 0a1.5 1.2 0 1 0 -3.0 0zM418.15 524.85a1.5 1.2 0 1 0 3.0 0a1.5 1.2 0 1 0 -3.0 0zM422.85 524.85a1.5 1.2 0 1 0 3.0 0a1.5 1.2 0 1 0 -3.0 0zM427.55 524.85a1.5 1.2 0 1 0 3.0 0a1.5 1.2 0 1 0 -3.0 0zM432.25 524.85a1.5 1.2 0 1 0 3.0 0a1.5 1.2 0 1 0 -3.0 0zM436.95 524.85a1.5 1.2 0 1 0 3.0 0a1.5 1.2 0 1 0 -3.0 0zM446.35 524.85a1.5 1.2 0 1 0 3.0 0a1.5 1.2 0 1 0 -3.0 0zM451.05 524.85a1.5 1.2 0 1 0 3.0 0a1.5 1.2 0 1 0 -3.0 0zM455.75 524.85a1.5 1.2 0 1 0 3.0 0a1.5 1.2 0 1 0 -3.0 0zM460.45 524.85a1.5 1.2 0 1 0 3.0 0a1.5 1.2 0 1 0 -3.0 0zM465.15 524.85a1.5 1.2 0 1 0 3.0 0a1.5 1.2 0 1 0 -3.0 0zM469.85 524.85a1.5 1.2 0 1 0 3.0 0a1.5 1.2 0 1 0 -3.0 0zM474.55 524.85a1.5 1.2 0 1 0 3.0 0a1.5 1.2 0 1 0 -3.0 0zM479.25 524.85a1.5 1.2 0 1 0 3.0 0a1.5 1.2 0 1 0 -3.0 0zM483.95 524.85a1.5 1.2 0 1 0 3.0 0a1.5 1.2 0 1 0 -3.0 0zM366.45 527.75a1.5 1.2 0 1 0 3.0 0a1.5 1.2 0 1 0 -3.0 0zM371.15 527.75a1.5 1.2 0 1 0 3.0 0a1.5 1.2 0 1 0 -3.0 0zM375.85 527.75a1.5 1.2 0 1 0 3.0 0a1.5 1.2 0 1 0 -3.0 0zM380.55 527.75a1.5 1.2 0 1 0 3.0 0a1.5 1.2 0 1 0 -3.0 0zM385.25 527.75a1.5 1.2 0 1 0 3.0 0a1.5 1.2 0 1 0 -3.0 0zM389.95 527.75a1.5 1.2 0 1 0 3.0 0a1.5 1.2 0 1 0 -3.0 0zM399.35 527.75a1.5 1.2 0 1 0 3.0 0a1.5 1.2 0 1 0 -3.0 0zM404.05 527.75a1.5 1.2 0 1 0 3.0 0a1.5 1.2 0 1 0 -3.0 0zM408.75 527.75a1.5 1.2 0 1 0 3.0 0a1.5 1.2 0 1 0 -3.0 0zM413.45 527.75a1.5 1.2 0 1 0 3.0 0a1.5 1.2 0 1 0 -3.0 0zM418.15 527.75a1.5 1.2 0 1 0 3.0 0a1.5 1.2 0 1 0 -3.0 0zM427.55 527.75a1.5 1.2 0 1 0 3.0 0a1.5 1.2 0 1 0 -3.0 0zM432.25 527.75a1.5 1.2 0 1 0 3.0 0a1.5 1.2 0 1 0 -3.0 0zM436.95 527.75a1.5 1.2 0 1 0 3.0 0a1.5 1.2 0 1 0 -3.0 0zM441.65 527.75a1.5 1.2 0 1 0 3.0 0a1.5 1.2 0 1 0 -3.0 0zM446.35 527.75a1.5 1.2 0 1 0 3.0 0a1.5 1.2 0 1 0 -3.0 0zM451.05 527.75a1.5 1.2 0 1 0 3.0 0a1.5 1.2 0 1 0 -3.0 0zM455.75 527.75a1.5 1.2 0 1 0 3.0 0a1.5 1.2 0 1 0 -3.0 0zM460.45 527.75a1.5 1.2 0 1 0 3.0 0a1.5 1.2 0 1 0 -3.0 0zM465.15 527.75a1.5 1.2 0 1 0 3.0 0a1.5 1.2 0 1 0 -3.0 0zM474.55 527.75a1.5 1.2 0 1 0 3.0 0a1.5 1.2 0 1 0 -3.0 0zM479.25 527.75a1.5 1.2 0 1 0 3.0 0a1.5 1.2 0 1 0 -3.0 0zM366.45 530.65a1.5 1.2 0 1 0 3.0 0a1.5 1.2 0 1 0 -3.0 0zM371.15 530.65a1.5 1.2 0 1 0 3.0 0a1.5 1.2 0 1 0 -3.0 0zM375.85 530.65a1.5 1.2 0 1 0 3.0 0a1.5 1.2 0 1 0 -3.0 0zM380.55 530.65a1.5 1.2 0 1 0 3.0 0a1.5 1.2 0 1 0 -3.0 0zM385.25 530.65a1.5 1.2 0 1 0 3.0 0a1.5 1.2 0 1 0 -3.0 0zM389.95 530.65a1.5 1.2 0 1 0 3.0 0a1.5 1.2 0 1 0 -3.0 0zM394.65 530.65a1.5 1.2 0 1 0 3.0 0a1.5 1.2 0 1 0 -3.0 0zM399.35 530.65a1.5 1.2 0 1 0 3.0 0a1.5 1.2 0 1 0 -3.0 0zM404.05 530.65a1.5 1.2 0 1 0 3.0 0a1.5 1.2 0 1 0 -3.0 0zM408.75 530.65a1.5 1.2 0 1 0 3.0 0a1.5 1.2 0 1 0 -3.0 0zM413.45 530.65a1.5 1.2 0 1 0 3.0 0a1.5 1.2 0 1 0 -3.0 0zM418.15 530.65a1.5 1.2 0 1 0 3.0 0a1.5 1.2 0 1 0 -3.0 0zM422.85 530.65a1.5 1.2 0 1 0 3.0 0a1.5 1.2 0 1 0 -3.0 0zM427.55 530.65a1.5 1.2 0 1 0 3.0 0a1.5 1.2 0 1 0 -3.0 0zM436.95 530.65a1.5 1.2 0 1 0 3.0 0a1.5 1.2 0 1 0 -3.0 0zM441.65 530.65a1.5 1.2 0 1 0 3.0 0a1.5 1.2 0 1 0 -3.0 0zM446.35 530.65a1.5 1.2 0 1 0 3.0 0a1.5 1.2 0 1 0 -3.0 0zM451.05 530.65a1.5 1.2 0 1 0 3.0 0a1.5 1.2 0 1 0 -3.0 0zM460.45 530.65a1.5 1.2 0 1 0 3.0 0a1.5 1.2 0 1 0 -3.0 0zM465.15 530.65a1.5 1.2 0 1 0 3.0 0a1.5 1.2 0 1 0 -3.0 0zM474.55 530.65a1.5 1.2 0 1 0 3.0 0a1.5 1.2 0 1 0 -3.0 0zM479.25 530.65a1.5 1.2 0 1 0 3.0 0a1.5 1.2 0 1 0 -3.0 0zM483.95 530.65a1.5 1.2 0 1 0 3.0 0a1.5 1.2 0 1 0 -3.0 0zM366.45 533.55a1.5 1.2 0 1 0 3.0 0a1.5 1.2 0 1 0 -3.0 0zM371.15 533.55a1.5 1.2 0 1 0 3.0 0a1.5 1.2 0 1 0 -3.0 0zM375.85 533.55a1.5 1.2 0 1 0 3.0 0a1.5 1.2 0 1 0 -3.0 0zM380.55 533.55a1.5 1.2 0 1 0 3.0 0a1.5 1.2 0 1 0 -3.0 0zM385.25 533.55a1.5 1.2 0 1 0 3.0 0a1.5 1.2 0 1 0 -3.0 0zM389.95 533.55a1.5 1.2 0 1 0 3.0 0a1.5 1.2 0 1 0 -3.0 0zM394.65 533.55a1.5 1.2 0 1 0 3.0 0a1.5 1.2 0 1 0 -3.0 0zM399.35 533.55a1.5 1.2 0 1 0 3.0 0a1.5 1.2 0 1 0 -3.0 0zM404.05 533.55a1.5 1.2 0 1 0 3.0 0a1.5 1.2 0 1 0 -3.0 0zM408.75 533.55a1.5 1.2 0 1 0 3.0 0a1.5 1.2 0 1 0 -3.0 0zM413.45 533.55a1.5 1.2 0 1 0 3.0 0a1.5 1.2 0 1 0 -3.0 0zM418.15 533.55a1.5 1.2 0 1 0 3.0 0a1.5 1.2 0 1 0 -3.0 0zM422.85 533.55a1.5 1.2 0 1 0 3.0 0a1.5 1.2 0 1 0 -3.0 0zM427.55 533.55a1.5 1.2 0 1 0 3.0 0a1.5 1.2 0 1 0 -3.0 0zM432.25 533.55a1.5 1.2 0 1 0 3.0 0a1.5 1.2 0 1 0 -3.0 0zM436.95 533.55a1.5 1.2 0 1 0 3.0 0a1.5 1.2 0 1 0 -3.0 0zM441.65 533.55a1.5 1.2 0 1 0 3.0 0a1.5 1.2 0 1 0 -3.0 0zM451.05 533.55a1.5 1.2 0 1 0 3.0 0a1.5 1.2 0 1 0 -3.0 0zM455.75 533.55a1.5 1.2 0 1 0 3.0 0a1.5 1.2 0 1 0 -3.0 0zM460.45 533.55a1.5 1.2 0 1 0 3.0 0a1.5 1.2 0 1 0 -3.0 0zM465.15 533.55a1.5 1.2 0 1 0 3.0 0a1.5 1.2 0 1 0 -3.0 0zM474.55 533.55a1.5 1.2 0 1 0 3.0 0a1.5 1.2 0 1 0 -3.0 0zM479.25 533.55a1.5 1.2 0 1 0 3.0 0a1.5 1.2 0 1 0 -3.0 0zM483.95 533.55a1.5 1.2 0 1 0 3.0 0a1.5 1.2 0 1 0 -3.0 0z" fill="#fff" stroke="#111" stroke-width="0.85"/>
<text x="358.3" y="523.9" text-anchor="end" style="font-size:8.15px;" >Patient 3</text>
<text x="494.5" y="523.4" text-anchor="start" style="font-size:7.9px;" >9.6%</text>
<path d="M436.55 539.48a1.9 1.62 0 1 0 3.8 0a1.9 1.62 0 1 0 -3.8 0zM366.05 542.42a1.9 1.62 0 1 0 3.8 0a1.9 1.62 0 1 0 -3.8 0zM380.15 542.42a1.9 1.62 0 1 0 3.8 0a1.9 1.62 0 1 0 -3.8 0zM450.65 542.42a1.9 1.62 0 1 0 3.8 0a1.9 1.62 0 1 0 -3.8 0zM398.95 545.38a1.9 1.62 0 1 0 3.8 0a1.9 1.62 0 1 0 -3.8 0zM436.55 545.38a1.9 1.62 0 1 0 3.8 0a1.9 1.62 0 1 0 -3.8 0zM422.45 548.33a1.9 1.62 0 1 0 3.8 0a1.9 1.62 0 1 0 -3.8 0zM436.55 548.33a1.9 1.62 0 1 0 3.8 0a1.9 1.62 0 1 0 -3.8 0zM464.75 551.27a1.9 1.62 0 1 0 3.8 0a1.9 1.62 0 1 0 -3.8 0zM450.65 554.23a1.9 1.62 0 1 0 3.8 0a1.9 1.62 0 1 0 -3.8 0zM427.15 557.17a1.9 1.62 0 1 0 3.8 0a1.9 1.62 0 1 0 -3.8 0zM366.05 560.12a1.9 1.62 0 1 0 3.8 0a1.9 1.62 0 1 0 -3.8 0zM389.55 563.08a1.9 1.62 0 1 0 3.8 0a1.9 1.62 0 1 0 -3.8 0zM474.15 563.08a1.9 1.62 0 1 0 3.8 0a1.9 1.62 0 1 0 -3.8 0zM375.45 566.02a1.9 1.62 0 1 0 3.8 0a1.9 1.62 0 1 0 -3.8 0zM380.15 566.02a1.9 1.62 0 1 0 3.8 0a1.9 1.62 0 1 0 -3.8 0zM389.55 566.02a1.9 1.62 0 1 0 3.8 0a1.9 1.62 0 1 0 -3.8 0zM398.95 566.02a1.9 1.62 0 1 0 3.8 0a1.9 1.62 0 1 0 -3.8 0zM413.05 566.02a1.9 1.62 0 1 0 3.8 0a1.9 1.62 0 1 0 -3.8 0zM427.15 566.02a1.9 1.62 0 1 0 3.8 0a1.9 1.62 0 1 0 -3.8 0zM431.85 566.02a1.9 1.62 0 1 0 3.8 0a1.9 1.62 0 1 0 -3.8 0zM436.55 566.02a1.9 1.62 0 1 0 3.8 0a1.9 1.62 0 1 0 -3.8 0zM455.35 566.02a1.9 1.62 0 1 0 3.8 0a1.9 1.62 0 1 0 -3.8 0zM464.75 566.02a1.9 1.62 0 1 0 3.8 0a1.9 1.62 0 1 0 -3.8 0zM469.45 566.02a1.9 1.62 0 1 0 3.8 0a1.9 1.62 0 1 0 -3.8 0zM474.15 566.02a1.9 1.62 0 1 0 3.8 0a1.9 1.62 0 1 0 -3.8 0zM478.85 566.02a1.9 1.62 0 1 0 3.8 0a1.9 1.62 0 1 0 -3.8 0zM483.55 566.02a1.9 1.62 0 1 0 3.8 0a1.9 1.62 0 1 0 -3.8 0z" fill="#000"/>
<path d="M366.45 539.48a1.5 1.23 0 1 0 3.0 0a1.5 1.23 0 1 0 -3.0 0zM371.15 539.48a1.5 1.23 0 1 0 3.0 0a1.5 1.23 0 1 0 -3.0 0zM375.85 539.48a1.5 1.23 0 1 0 3.0 0a1.5 1.23 0 1 0 -3.0 0zM380.55 539.48a1.5 1.23 0 1 0 3.0 0a1.5 1.23 0 1 0 -3.0 0zM385.25 539.48a1.5 1.23 0 1 0 3.0 0a1.5 1.23 0 1 0 -3.0 0zM389.95 539.48a1.5 1.23 0 1 0 3.0 0a1.5 1.23 0 1 0 -3.0 0zM394.65 539.48a1.5 1.23 0 1 0 3.0 0a1.5 1.23 0 1 0 -3.0 0zM399.35 539.48a1.5 1.23 0 1 0 3.0 0a1.5 1.23 0 1 0 -3.0 0zM404.05 539.48a1.5 1.23 0 1 0 3.0 0a1.5 1.23 0 1 0 -3.0 0zM408.75 539.48a1.5 1.23 0 1 0 3.0 0a1.5 1.23 0 1 0 -3.0 0zM413.45 539.48a1.5 1.23 0 1 0 3.0 0a1.5 1.23 0 1 0 -3.0 0zM418.15 539.48a1.5 1.23 0 1 0 3.0 0a1.5 1.23 0 1 0 -3.0 0zM422.85 539.48a1.5 1.23 0 1 0 3.0 0a1.5 1.23 0 1 0 -3.0 0zM427.55 539.48a1.5 1.23 0 1 0 3.0 0a1.5 1.23 0 1 0 -3.0 0zM432.25 539.48a1.5 1.23 0 1 0 3.0 0a1.5 1.23 0 1 0 -3.0 0zM441.65 539.48a1.5 1.23 0 1 0 3.0 0a1.5 1.23 0 1 0 -3.0 0zM446.35 539.48a1.5 1.23 0 1 0 3.0 0a1.5 1.23 0 1 0 -3.0 0zM451.05 539.48a1.5 1.23 0 1 0 3.0 0a1.5 1.23 0 1 0 -3.0 0zM455.75 539.48a1.5 1.23 0 1 0 3.0 0a1.5 1.23 0 1 0 -3.0 0zM460.45 539.48a1.5 1.23 0 1 0 3.0 0a1.5 1.23 0 1 0 -3.0 0zM465.15 539.48a1.5 1.23 0 1 0 3.0 0a1.5 1.23 0 1 0 -3.0 0zM469.85 539.48a1.5 1.23 0 1 0 3.0 0a1.5 1.23 0 1 0 -3.0 0zM474.55 539.48a1.5 1.23 0 1 0 3.0 0a1.5 1.23 0 1 0 -3.0 0zM479.25 539.48a1.5 1.23 0 1 0 3.0 0a1.5 1.23 0 1 0 -3.0 0zM483.95 539.48a1.5 1.23 0 1 0 3.0 0a1.5 1.23 0 1 0 -3.0 0zM371.15 542.42a1.5 1.23 0 1 0 3.0 0a1.5 1.23 0 1 0 -3.0 0zM375.85 542.42a1.5 1.23 0 1 0 3.0 0a1.5 1.23 0 1 0 -3.0 0zM385.25 542.42a1.5 1.23 0 1 0 3.0 0a1.5 1.23 0 1 0 -3.0 0zM389.95 542.42a1.5 1.23 0 1 0 3.0 0a1.5 1.23 0 1 0 -3.0 0zM394.65 542.42a1.5 1.23 0 1 0 3.0 0a1.5 1.23 0 1 0 -3.0 0zM399.35 542.42a1.5 1.23 0 1 0 3.0 0a1.5 1.23 0 1 0 -3.0 0zM404.05 542.42a1.5 1.23 0 1 0 3.0 0a1.5 1.23 0 1 0 -3.0 0zM408.75 542.42a1.5 1.23 0 1 0 3.0 0a1.5 1.23 0 1 0 -3.0 0zM413.45 542.42a1.5 1.23 0 1 0 3.0 0a1.5 1.23 0 1 0 -3.0 0zM418.15 542.42a1.5 1.23 0 1 0 3.0 0a1.5 1.23 0 1 0 -3.0 0zM422.85 542.42a1.5 1.23 0 1 0 3.0 0a1.5 1.23 0 1 0 -3.0 0zM427.55 542.42a1.5 1.23 0 1 0 3.0 0a1.5 1.23 0 1 0 -3.0 0zM432.25 542.42a1.5 1.23 0 1 0 3.0 0a1.5 1.23 0 1 0 -3.0 0zM436.95 542.42a1.5 1.23 0 1 0 3.0 0a1.5 1.23 0 1 0 -3.0 0zM441.65 542.42a1.5 1.23 0 1 0 3.0 0a1.5 1.23 0 1 0 -3.0 0zM446.35 542.42a1.5 1.23 0 1 0 3.0 0a1.5 1.23 0 1 0 -3.0 0zM455.75 542.42a1.5 1.23 0 1 0 3.0 0a1.5 1.23 0 1 0 -3.0 0zM460.45 542.42a1.5 1.23 0 1 0 3.0 0a1.5 1.23 0 1 0 -3.0 0zM465.15 542.42a1.5 1.23 0 1 0 3.0 0a1.5 1.23 0 1 0 -3.0 0zM469.85 542.42a1.5 1.23 0 1 0 3.0 0a1.5 1.23 0 1 0 -3.0 0zM474.55 542.42a1.5 1.23 0 1 0 3.0 0a1.5 1.23 0 1 0 -3.0 0zM479.25 542.42a1.5 1.23 0 1 0 3.0 0a1.5 1.23 0 1 0 -3.0 0zM483.95 542.42a1.5 1.23 0 1 0 3.0 0a1.5 1.23 0 1 0 -3.0 0zM366.45 545.38a1.5 1.23 0 1 0 3.0 0a1.5 1.23 0 1 0 -3.0 0zM371.15 545.38a1.5 1.23 0 1 0 3.0 0a1.5 1.23 0 1 0 -3.0 0zM375.85 545.38a1.5 1.23 0 1 0 3.0 0a1.5 1.23 0 1 0 -3.0 0zM380.55 545.38a1.5 1.23 0 1 0 3.0 0a1.5 1.23 0 1 0 -3.0 0zM385.25 545.38a1.5 1.23 0 1 0 3.0 0a1.5 1.23 0 1 0 -3.0 0zM389.95 545.38a1.5 1.23 0 1 0 3.0 0a1.5 1.23 0 1 0 -3.0 0zM394.65 545.38a1.5 1.23 0 1 0 3.0 0a1.5 1.23 0 1 0 -3.0 0zM404.05 545.38a1.5 1.23 0 1 0 3.0 0a1.5 1.23 0 1 0 -3.0 0zM408.75 545.38a1.5 1.23 0 1 0 3.0 0a1.5 1.23 0 1 0 -3.0 0zM413.45 545.38a1.5 1.23 0 1 0 3.0 0a1.5 1.23 0 1 0 -3.0 0zM418.15 545.38a1.5 1.23 0 1 0 3.0 0a1.5 1.23 0 1 0 -3.0 0zM422.85 545.38a1.5 1.23 0 1 0 3.0 0a1.5 1.23 0 1 0 -3.0 0zM427.55 545.38a1.5 1.23 0 1 0 3.0 0a1.5 1.23 0 1 0 -3.0 0zM432.25 545.38a1.5 1.23 0 1 0 3.0 0a1.5 1.23 0 1 0 -3.0 0zM441.65 545.38a1.5 1.23 0 1 0 3.0 0a1.5 1.23 0 1 0 -3.0 0zM446.35 545.38a1.5 1.23 0 1 0 3.0 0a1.5 1.23 0 1 0 -3.0 0zM451.05 545.38a1.5 1.23 0 1 0 3.0 0a1.5 1.23 0 1 0 -3.0 0zM455.75 545.38a1.5 1.23 0 1 0 3.0 0a1.5 1.23 0 1 0 -3.0 0zM460.45 545.38a1.5 1.23 0 1 0 3.0 0a1.5 1.23 0 1 0 -3.0 0zM465.15 545.38a1.5 1.23 0 1 0 3.0 0a1.5 1.23 0 1 0 -3.0 0zM469.85 545.38a1.5 1.23 0 1 0 3.0 0a1.5 1.23 0 1 0 -3.0 0zM474.55 545.38a1.5 1.23 0 1 0 3.0 0a1.5 1.23 0 1 0 -3.0 0zM479.25 545.38a1.5 1.23 0 1 0 3.0 0a1.5 1.23 0 1 0 -3.0 0zM483.95 545.38a1.5 1.23 0 1 0 3.0 0a1.5 1.23 0 1 0 -3.0 0zM366.45 548.33a1.5 1.23 0 1 0 3.0 0a1.5 1.23 0 1 0 -3.0 0zM371.15 548.33a1.5 1.23 0 1 0 3.0 0a1.5 1.23 0 1 0 -3.0 0zM375.85 548.33a1.5 1.23 0 1 0 3.0 0a1.5 1.23 0 1 0 -3.0 0zM380.55 548.33a1.5 1.23 0 1 0 3.0 0a1.5 1.23 0 1 0 -3.0 0zM385.25 548.33a1.5 1.23 0 1 0 3.0 0a1.5 1.23 0 1 0 -3.0 0zM389.95 548.33a1.5 1.23 0 1 0 3.0 0a1.5 1.23 0 1 0 -3.0 0zM394.65 548.33a1.5 1.23 0 1 0 3.0 0a1.5 1.23 0 1 0 -3.0 0zM399.35 548.33a1.5 1.23 0 1 0 3.0 0a1.5 1.23 0 1 0 -3.0 0zM404.05 548.33a1.5 1.23 0 1 0 3.0 0a1.5 1.23 0 1 0 -3.0 0zM408.75 548.33a1.5 1.23 0 1 0 3.0 0a1.5 1.23 0 1 0 -3.0 0zM413.45 548.33a1.5 1.23 0 1 0 3.0 0a1.5 1.23 0 1 0 -3.0 0zM418.15 548.33a1.5 1.23 0 1 0 3.0 0a1.5 1.23 0 1 0 -3.0 0zM427.55 548.33a1.5 1.23 0 1 0 3.0 0a1.5 1.23 0 1 0 -3.0 0zM432.25 548.33a1.5 1.23 0 1 0 3.0 0a1.5 1.23 0 1 0 -3.0 0zM441.65 548.33a1.5 1.23 0 1 0 3.0 0a1.5 1.23 0 1 0 -3.0 0zM446.35 548.33a1.5 1.23 0 1 0 3.0 0a1.5 1.23 0 1 0 -3.0 0zM451.05 548.33a1.5 1.23 0 1 0 3.0 0a1.5 1.23 0 1 0 -3.0 0zM455.75 548.33a1.5 1.23 0 1 0 3.0 0a1.5 1.23 0 1 0 -3.0 0zM460.45 548.33a1.5 1.23 0 1 0 3.0 0a1.5 1.23 0 1 0 -3.0 0zM465.15 548.33a1.5 1.23 0 1 0 3.0 0a1.5 1.23 0 1 0 -3.0 0zM469.85 548.33a1.5 1.23 0 1 0 3.0 0a1.5 1.23 0 1 0 -3.0 0zM474.55 548.33a1.5 1.23 0 1 0 3.0 0a1.5 1.23 0 1 0 -3.0 0zM479.25 548.33a1.5 1.23 0 1 0 3.0 0a1.5 1.23 0 1 0 -3.0 0zM483.95 548.33a1.5 1.23 0 1 0 3.0 0a1.5 1.23 0 1 0 -3.0 0zM366.45 551.27a1.5 1.23 0 1 0 3.0 0a1.5 1.23 0 1 0 -3.0 0zM371.15 551.27a1.5 1.23 0 1 0 3.0 0a1.5 1.23 0 1 0 -3.0 0zM375.85 551.27a1.5 1.23 0 1 0 3.0 0a1.5 1.23 0 1 0 -3.0 0zM380.55 551.27a1.5 1.23 0 1 0 3.0 0a1.5 1.23 0 1 0 -3.0 0zM385.25 551.27a1.5 1.23 0 1 0 3.0 0a1.5 1.23 0 1 0 -3.0 0zM389.95 551.27a1.5 1.23 0 1 0 3.0 0a1.5 1.23 0 1 0 -3.0 0zM394.65 551.27a1.5 1.23 0 1 0 3.0 0a1.5 1.23 0 1 0 -3.0 0zM399.35 551.27a1.5 1.23 0 1 0 3.0 0a1.5 1.23 0 1 0 -3.0 0zM404.05 551.27a1.5 1.23 0 1 0 3.0 0a1.5 1.23 0 1 0 -3.0 0zM408.75 551.27a1.5 1.23 0 1 0 3.0 0a1.5 1.23 0 1 0 -3.0 0zM413.45 551.27a1.5 1.23 0 1 0 3.0 0a1.5 1.23 0 1 0 -3.0 0zM418.15 551.27a1.5 1.23 0 1 0 3.0 0a1.5 1.23 0 1 0 -3.0 0zM422.85 551.27a1.5 1.23 0 1 0 3.0 0a1.5 1.23 0 1 0 -3.0 0zM427.55 551.27a1.5 1.23 0 1 0 3.0 0a1.5 1.23 0 1 0 -3.0 0zM432.25 551.27a1.5 1.23 0 1 0 3.0 0a1.5 1.23 0 1 0 -3.0 0zM436.95 551.27a1.5 1.23 0 1 0 3.0 0a1.5 1.23 0 1 0 -3.0 0zM441.65 551.27a1.5 1.23 0 1 0 3.0 0a1.5 1.23 0 1 0 -3.0 0zM446.35 551.27a1.5 1.23 0 1 0 3.0 0a1.5 1.23 0 1 0 -3.0 0zM451.05 551.27a1.5 1.23 0 1 0 3.0 0a1.5 1.23 0 1 0 -3.0 0zM455.75 551.27a1.5 1.23 0 1 0 3.0 0a1.5 1.23 0 1 0 -3.0 0zM460.45 551.27a1.5 1.23 0 1 0 3.0 0a1.5 1.23 0 1 0 -3.0 0zM469.85 551.27a1.5 1.23 0 1 0 3.0 0a1.5 1.23 0 1 0 -3.0 0zM474.55 551.27a1.5 1.23 0 1 0 3.0 0a1.5 1.23 0 1 0 -3.0 0zM479.25 551.27a1.5 1.23 0 1 0 3.0 0a1.5 1.23 0 1 0 -3.0 0zM483.95 551.27a1.5 1.23 0 1 0 3.0 0a1.5 1.23 0 1 0 -3.0 0zM366.45 554.23a1.5 1.23 0 1 0 3.0 0a1.5 1.23 0 1 0 -3.0 0zM371.15 554.23a1.5 1.23 0 1 0 3.0 0a1.5 1.23 0 1 0 -3.0 0zM375.85 554.23a1.5 1.23 0 1 0 3.0 0a1.5 1.23 0 1 0 -3.0 0zM380.55 554.23a1.5 1.23 0 1 0 3.0 0a1.5 1.23 0 1 0 -3.0 0zM385.25 554.23a1.5 1.23 0 1 0 3.0 0a1.5 1.23 0 1 0 -3.0 0zM389.95 554.23a1.5 1.23 0 1 0 3.0 0a1.5 1.23 0 1 0 -3.0 0zM394.65 554.23a1.5 1.23 0 1 0 3.0 0a1.5 1.23 0 1 0 -3.0 0zM399.35 554.23a1.5 1.23 0 1 0 3.0 0a1.5 1.23 0 1 0 -3.0 0zM404.05 554.23a1.5 1.23 0 1 0 3.0 0a1.5 1.23 0 1 0 -3.0 0zM408.75 554.23a1.5 1.23 0 1 0 3.0 0a1.5 1.23 0 1 0 -3.0 0zM413.45 554.23a1.5 1.23 0 1 0 3.0 0a1.5 1.23 0 1 0 -3.0 0zM418.15 554.23a1.5 1.23 0 1 0 3.0 0a1.5 1.23 0 1 0 -3.0 0zM422.85 554.23a1.5 1.23 0 1 0 3.0 0a1.5 1.23 0 1 0 -3.0 0zM427.55 554.23a1.5 1.23 0 1 0 3.0 0a1.5 1.23 0 1 0 -3.0 0zM432.25 554.23a1.5 1.23 0 1 0 3.0 0a1.5 1.23 0 1 0 -3.0 0zM436.95 554.23a1.5 1.23 0 1 0 3.0 0a1.5 1.23 0 1 0 -3.0 0zM441.65 554.23a1.5 1.23 0 1 0 3.0 0a1.5 1.23 0 1 0 -3.0 0zM446.35 554.23a1.5 1.23 0 1 0 3.0 0a1.5 1.23 0 1 0 -3.0 0zM455.75 554.23a1.5 1.23 0 1 0 3.0 0a1.5 1.23 0 1 0 -3.0 0zM460.45 554.23a1.5 1.23 0 1 0 3.0 0a1.5 1.23 0 1 0 -3.0 0zM465.15 554.23a1.5 1.23 0 1 0 3.0 0a1.5 1.23 0 1 0 -3.0 0zM469.85 554.23a1.5 1.23 0 1 0 3.0 0a1.5 1.23 0 1 0 -3.0 0zM474.55 554.23a1.5 1.23 0 1 0 3.0 0a1.5 1.23 0 1 0 -3.0 0zM479.25 554.23a1.5 1.23 0 1 0 3.0 0a1.5 1.23 0 1 0 -3.0 0zM483.95 554.23a1.5 1.23 0 1 0 3.0 0a1.5 1.23 0 1 0 -3.0 0zM366.45 557.17a1.5 1.23 0 1 0 3.0 0a1.5 1.23 0 1 0 -3.0 0zM371.15 557.17a1.5 1.23 0 1 0 3.0 0a1.5 1.23 0 1 0 -3.0 0zM375.85 557.17a1.5 1.23 0 1 0 3.0 0a1.5 1.23 0 1 0 -3.0 0zM380.55 557.17a1.5 1.23 0 1 0 3.0 0a1.5 1.23 0 1 0 -3.0 0zM385.25 557.17a1.5 1.23 0 1 0 3.0 0a1.5 1.23 0 1 0 -3.0 0zM389.95 557.17a1.5 1.23 0 1 0 3.0 0a1.5 1.23 0 1 0 -3.0 0zM394.65 557.17a1.5 1.23 0 1 0 3.0 0a1.5 1.23 0 1 0 -3.0 0zM399.35 557.17a1.5 1.23 0 1 0 3.0 0a1.5 1.23 0 1 0 -3.0 0zM404.05 557.17a1.5 1.23 0 1 0 3.0 0a1.5 1.23 0 1 0 -3.0 0zM408.75 557.17a1.5 1.23 0 1 0 3.0 0a1.5 1.23 0 1 0 -3.0 0zM413.45 557.17a1.5 1.23 0 1 0 3.0 0a1.5 1.23 0 1 0 -3.0 0zM418.15 557.17a1.5 1.23 0 1 0 3.0 0a1.5 1.23 0 1 0 -3.0 0zM422.85 557.17a1.5 1.23 0 1 0 3.0 0a1.5 1.23 0 1 0 -3.0 0zM432.25 557.17a1.5 1.23 0 1 0 3.0 0a1.5 1.23 0 1 0 -3.0 0zM436.95 557.17a1.5 1.23 0 1 0 3.0 0a1.5 1.23 0 1 0 -3.0 0zM441.65 557.17a1.5 1.23 0 1 0 3.0 0a1.5 1.23 0 1 0 -3.0 0zM446.35 557.17a1.5 1.23 0 1 0 3.0 0a1.5 1.23 0 1 0 -3.0 0zM451.05 557.17a1.5 1.23 0 1 0 3.0 0a1.5 1.23 0 1 0 -3.0 0zM455.75 557.17a1.5 1.23 0 1 0 3.0 0a1.5 1.23 0 1 0 -3.0 0zM460.45 557.17a1.5 1.23 0 1 0 3.0 0a1.5 1.23 0 1 0 -3.0 0zM465.15 557.17a1.5 1.23 0 1 0 3.0 0a1.5 1.23 0 1 0 -3.0 0zM469.85 557.17a1.5 1.23 0 1 0 3.0 0a1.5 1.23 0 1 0 -3.0 0zM474.55 557.17a1.5 1.23 0 1 0 3.0 0a1.5 1.23 0 1 0 -3.0 0zM479.25 557.17a1.5 1.23 0 1 0 3.0 0a1.5 1.23 0 1 0 -3.0 0zM483.95 557.17a1.5 1.23 0 1 0 3.0 0a1.5 1.23 0 1 0 -3.0 0zM371.15 560.12a1.5 1.23 0 1 0 3.0 0a1.5 1.23 0 1 0 -3.0 0zM375.85 560.12a1.5 1.23 0 1 0 3.0 0a1.5 1.23 0 1 0 -3.0 0zM380.55 560.12a1.5 1.23 0 1 0 3.0 0a1.5 1.23 0 1 0 -3.0 0zM385.25 560.12a1.5 1.23 0 1 0 3.0 0a1.5 1.23 0 1 0 -3.0 0zM389.95 560.12a1.5 1.23 0 1 0 3.0 0a1.5 1.23 0 1 0 -3.0 0zM394.65 560.12a1.5 1.23 0 1 0 3.0 0a1.5 1.23 0 1 0 -3.0 0zM399.35 560.12a1.5 1.23 0 1 0 3.0 0a1.5 1.23 0 1 0 -3.0 0zM404.05 560.12a1.5 1.23 0 1 0 3.0 0a1.5 1.23 0 1 0 -3.0 0zM408.75 560.12a1.5 1.23 0 1 0 3.0 0a1.5 1.23 0 1 0 -3.0 0zM413.45 560.12a1.5 1.23 0 1 0 3.0 0a1.5 1.23 0 1 0 -3.0 0zM418.15 560.12a1.5 1.23 0 1 0 3.0 0a1.5 1.23 0 1 0 -3.0 0zM422.85 560.12a1.5 1.23 0 1 0 3.0 0a1.5 1.23 0 1 0 -3.0 0zM427.55 560.12a1.5 1.23 0 1 0 3.0 0a1.5 1.23 0 1 0 -3.0 0zM432.25 560.12a1.5 1.23 0 1 0 3.0 0a1.5 1.23 0 1 0 -3.0 0zM436.95 560.12a1.5 1.23 0 1 0 3.0 0a1.5 1.23 0 1 0 -3.0 0zM441.65 560.12a1.5 1.23 0 1 0 3.0 0a1.5 1.23 0 1 0 -3.0 0zM446.35 560.12a1.5 1.23 0 1 0 3.0 0a1.5 1.23 0 1 0 -3.0 0zM451.05 560.12a1.5 1.23 0 1 0 3.0 0a1.5 1.23 0 1 0 -3.0 0zM455.75 560.12a1.5 1.23 0 1 0 3.0 0a1.5 1.23 0 1 0 -3.0 0zM460.45 560.12a1.5 1.23 0 1 0 3.0 0a1.5 1.23 0 1 0 -3.0 0zM465.15 560.12a1.5 1.23 0 1 0 3.0 0a1.5 1.23 0 1 0 -3.0 0zM469.85 560.12a1.5 1.23 0 1 0 3.0 0a1.5 1.23 0 1 0 -3.0 0zM474.55 560.12a1.5 1.23 0 1 0 3.0 0a1.5 1.23 0 1 0 -3.0 0zM479.25 560.12a1.5 1.23 0 1 0 3.0 0a1.5 1.23 0 1 0 -3.0 0zM483.95 560.12a1.5 1.23 0 1 0 3.0 0a1.5 1.23 0 1 0 -3.0 0zM366.45 563.08a1.5 1.23 0 1 0 3.0 0a1.5 1.23 0 1 0 -3.0 0zM371.15 563.08a1.5 1.23 0 1 0 3.0 0a1.5 1.23 0 1 0 -3.0 0zM375.85 563.08a1.5 1.23 0 1 0 3.0 0a1.5 1.23 0 1 0 -3.0 0zM380.55 563.08a1.5 1.23 0 1 0 3.0 0a1.5 1.23 0 1 0 -3.0 0zM385.25 563.08a1.5 1.23 0 1 0 3.0 0a1.5 1.23 0 1 0 -3.0 0zM394.65 563.08a1.5 1.23 0 1 0 3.0 0a1.5 1.23 0 1 0 -3.0 0zM399.35 563.08a1.5 1.23 0 1 0 3.0 0a1.5 1.23 0 1 0 -3.0 0zM404.05 563.08a1.5 1.23 0 1 0 3.0 0a1.5 1.23 0 1 0 -3.0 0zM408.75 563.08a1.5 1.23 0 1 0 3.0 0a1.5 1.23 0 1 0 -3.0 0zM413.45 563.08a1.5 1.23 0 1 0 3.0 0a1.5 1.23 0 1 0 -3.0 0zM418.15 563.08a1.5 1.23 0 1 0 3.0 0a1.5 1.23 0 1 0 -3.0 0zM422.85 563.08a1.5 1.23 0 1 0 3.0 0a1.5 1.23 0 1 0 -3.0 0zM427.55 563.08a1.5 1.23 0 1 0 3.0 0a1.5 1.23 0 1 0 -3.0 0zM432.25 563.08a1.5 1.23 0 1 0 3.0 0a1.5 1.23 0 1 0 -3.0 0zM436.95 563.08a1.5 1.23 0 1 0 3.0 0a1.5 1.23 0 1 0 -3.0 0zM441.65 563.08a1.5 1.23 0 1 0 3.0 0a1.5 1.23 0 1 0 -3.0 0zM446.35 563.08a1.5 1.23 0 1 0 3.0 0a1.5 1.23 0 1 0 -3.0 0zM451.05 563.08a1.5 1.23 0 1 0 3.0 0a1.5 1.23 0 1 0 -3.0 0zM455.75 563.08a1.5 1.23 0 1 0 3.0 0a1.5 1.23 0 1 0 -3.0 0zM460.45 563.08a1.5 1.23 0 1 0 3.0 0a1.5 1.23 0 1 0 -3.0 0zM465.15 563.08a1.5 1.23 0 1 0 3.0 0a1.5 1.23 0 1 0 -3.0 0zM469.85 563.08a1.5 1.23 0 1 0 3.0 0a1.5 1.23 0 1 0 -3.0 0zM479.25 563.08a1.5 1.23 0 1 0 3.0 0a1.5 1.23 0 1 0 -3.0 0zM483.95 563.08a1.5 1.23 0 1 0 3.0 0a1.5 1.23 0 1 0 -3.0 0zM366.45 566.02a1.5 1.23 0 1 0 3.0 0a1.5 1.23 0 1 0 -3.0 0zM371.15 566.02a1.5 1.23 0 1 0 3.0 0a1.5 1.23 0 1 0 -3.0 0zM385.25 566.02a1.5 1.23 0 1 0 3.0 0a1.5 1.23 0 1 0 -3.0 0zM394.65 566.02a1.5 1.23 0 1 0 3.0 0a1.5 1.23 0 1 0 -3.0 0zM404.05 566.02a1.5 1.23 0 1 0 3.0 0a1.5 1.23 0 1 0 -3.0 0zM408.75 566.02a1.5 1.23 0 1 0 3.0 0a1.5 1.23 0 1 0 -3.0 0zM418.15 566.02a1.5 1.23 0 1 0 3.0 0a1.5 1.23 0 1 0 -3.0 0zM422.85 566.02a1.5 1.23 0 1 0 3.0 0a1.5 1.23 0 1 0 -3.0 0zM441.65 566.02a1.5 1.23 0 1 0 3.0 0a1.5 1.23 0 1 0 -3.0 0zM446.35 566.02a1.5 1.23 0 1 0 3.0 0a1.5 1.23 0 1 0 -3.0 0zM451.05 566.02a1.5 1.23 0 1 0 3.0 0a1.5 1.23 0 1 0 -3.0 0zM460.45 566.02a1.5 1.23 0 1 0 3.0 0a1.5 1.23 0 1 0 -3.0 0z" fill="#fff" stroke="#111" stroke-width="0.85"/>
<text x="358.3" y="556.15" text-anchor="end" style="font-size:8.15px;" >Patient 4</text>
<text x="494.5" y="555.65" text-anchor="start" style="font-size:7.9px;" >10.7%</text>
<line x1="324.6" y1="444" x2="324.6" y2="503" stroke="#000" stroke-width="1.2" />
<line x1="324.6" y1="506.3" x2="324.6" y2="565" stroke="#000" stroke-width="1.2" />
<text x="321.6" y="473.5" text-anchor="middle" style="font-size:8.3px;font-weight:bold;stroke:#111;stroke-width:0.3px;" transform="rotate(-90 321.6 473.5)" >AML1/ETO<tspan dy="-2.5" font-size="5.5">+</tspan></text>
<text x="321.6" y="535.5" text-anchor="middle" style="font-size:8.3px;font-weight:bold;stroke:#111;stroke-width:0.3px;" transform="rotate(-90 321.6 535.5)" >AML1/ETO<tspan dy="-2.5" font-size="6">-</tspan></text>
</g>
<g id="panelG">
<text x="314.5" y="595" text-anchor="start" style="font-size:15.6px;font-weight:bold;stroke:#111;stroke-width:0.3px;" >G</text>
<line x1="365.2" y1="589" x2="365.2" y2="673.0" stroke="#000" stroke-width="1.5" />
<line x1="364.5" y1="672.5" x2="507" y2="672.5" stroke="#000" stroke-width="1.6" />
<line x1="362.7" y1="672.5" x2="365.2" y2="672.5" stroke="#000" stroke-width="1" />
<text x="361.7" y="675.3" text-anchor="end" style="font-size:8px;" >0</text>
<line x1="362.7" y1="651.78" x2="365.2" y2="651.78" stroke="#000" stroke-width="1" />
<text x="361.7" y="654.5799999999999" text-anchor="end" style="font-size:8px;" >4</text>
<line x1="362.7" y1="631.06" x2="365.2" y2="631.06" stroke="#000" stroke-width="1" />
<text x="361.7" y="633.8599999999999" text-anchor="end" style="font-size:8px;" >8</text>
<line x1="362.7" y1="610.34" x2="365.2" y2="610.34" stroke="#000" stroke-width="1" />
<text x="361.7" y="613.14" text-anchor="end" style="font-size:8px;" >12</text>
<line x1="362.7" y1="589.62" x2="365.2" y2="589.62" stroke="#000" stroke-width="1" />
<text x="361.7" y="592.42" text-anchor="end" style="font-size:8px;" >16</text>
<text x="344.8" y="629.5" text-anchor="middle" style="font-size:9.15px;font-weight:bold;stroke:#111;stroke-width:0.3px;" transform="rotate(-90 344.8 629.5)" >Relative expression</text>
<rect x="371.50" y="590.50" width="5.20" height="5.20" fill="#fff" stroke="#000" stroke-width="0.8"/>
<text x="380.5" y="596" text-anchor="start" style="font-size:8px;" >miR-193a</text>
<rect x="371.50" y="602.60" width="5.20" height="5.20" fill="#8c8c8c" stroke="#000" stroke-width="0.8"/>
<text x="380.5" y="608" text-anchor="start" style="font-size:8px;" >Pten</text>
<line x1="371.40000000000003" y1="666.8679999999999" x2="371.40000000000003" y2="668.808" stroke="#111" stroke-width="0.9" />
<line x1="369.90000000000003" y1="666.8679999999999" x2="372.90000000000003" y2="666.8679999999999" stroke="#111" stroke-width="0.9" />
<rect x="368.80" y="667.84" width="5.20" height="4.66" fill="#fff" stroke="#000" stroke-width="0.85"/>
<line x1="371.40000000000003" y1="667.838" x2="371.40000000000003" y2="668.808" stroke="#111" stroke-width="0.9" />
<line x1="369.90000000000003" y1="668.808" x2="372.90000000000003" y2="668.808" stroke="#111" stroke-width="0.9" />
<line x1="376.6" y1="666.32" x2="376.6" y2="668.32" stroke="#111" stroke-width="0.9" />
<line x1="375.1" y1="666.32" x2="378.1" y2="666.32" stroke="#111" stroke-width="0.9" />
<rect x="374.00" y="667.32" width="5.20" height="5.18" fill="#8c8c8c" stroke="#000" stroke-width="0.85"/>
<line x1="376.6" y1="667.32" x2="376.6" y2="668.32" stroke="#111" stroke-width="0.9" />
<line x1="375.1" y1="668.32" x2="378.1" y2="668.32" stroke="#111" stroke-width="0.9" />
<line x1="382.3" y1="672.5" x2="382.3" y2="670.5" stroke="#000" stroke-width="0.9" />
<text x="374.3" y="684" text-anchor="middle" style="font-size:9.5px;" >-</text>
<text x="374.3" y="694.5" text-anchor="middle" style="font-size:9.5px;" >-</text>
<line x1="388.98" y1="656.182" x2="388.98" y2="659.2919999999999" stroke="#111" stroke-width="0.9" />
<line x1="387.48" y1="656.182" x2="390.48" y2="656.182" stroke="#111" stroke-width="0.9" />
<rect x="386.38" y="657.74" width="5.20" height="14.76" fill="#fff" stroke="#000" stroke-width="0.85"/>
<line x1="388.98" y1="657.737" x2="388.98" y2="659.2919999999999" stroke="#111" stroke-width="0.9" />
<line x1="387.48" y1="659.2919999999999" x2="390.48" y2="659.2919999999999" stroke="#111" stroke-width="0.9" />
<line x1="394.18" y1="660.84" x2="394.18" y2="663.4399999999999" stroke="#111" stroke-width="0.9" />
<line x1="392.68" y1="660.84" x2="395.68" y2="660.84" stroke="#111" stroke-width="0.9" />
<rect x="391.58" y="662.14" width="5.20" height="10.36" fill="#8c8c8c" stroke="#000" stroke-width="0.85"/>
<line x1="394.18" y1="662.14" x2="394.18" y2="663.4399999999999" stroke="#111" stroke-width="0.9" />
<line x1="392.68" y1="663.4399999999999" x2="395.68" y2="663.4399999999999" stroke="#111" stroke-width="0.9" />
<line x1="399.88" y1="672.5" x2="399.88" y2="670.5" stroke="#000" stroke-width="0.9" />
<text x="391.88" y="684" text-anchor="middle" style="font-size:9.5px;" >+</text>
<text x="391.88" y="694.5" text-anchor="middle" style="font-size:9.5px;" >-</text>
<line x1="406.56000000000006" y1="661.936" x2="406.56000000000006" y2="664.416" stroke="#111" stroke-width="0.9" />
<line x1="405.06000000000006" y1="661.936" x2="408.06000000000006" y2="661.936" stroke="#111" stroke-width="0.9" />
<rect x="403.96" y="663.18" width="5.20" height="9.32" fill="#fff" stroke="#000" stroke-width="0.85"/>
<line x1="406.56000000000006" y1="663.176" x2="406.56000000000006" y2="664.416" stroke="#111" stroke-width="0.9" />
<line x1="405.06000000000006" y1="664.416" x2="408.06000000000006" y2="664.416" stroke="#111" stroke-width="0.9" />
<line x1="411.76000000000005" y1="657.552" x2="411.76000000000005" y2="660.5120000000001" stroke="#111" stroke-width="0.9" />
<line x1="410.26000000000005" y1="657.552" x2="413.26000000000005" y2="657.552" stroke="#111" stroke-width="0.9" />
<rect x="409.16" y="659.03" width="5.20" height="13.47" fill="#8c8c8c" stroke="#000" stroke-width="0.85"/>
<line x1="411.76000000000005" y1="659.032" x2="411.76000000000005" y2="660.5120000000001" stroke="#111" stroke-width="0.9" />
<line x1="410.26000000000005" y1="660.5120000000001" x2="413.26000000000005" y2="660.5120000000001" stroke="#111" stroke-width="0.9" />
<line x1="417.46000000000004" y1="672.5" x2="417.46000000000004" y2="670.5" stroke="#000" stroke-width="0.9" />
<text x="409.46000000000004" y="684" text-anchor="middle" style="font-size:9.5px;" >-</text>
<text x="409.46000000000004" y="694.5" text-anchor="middle" style="font-size:9.5px;" >+</text>
<line x1="424.14000000000004" y1="652.072" x2="424.14000000000004" y2="655.632" stroke="#111" stroke-width="0.9" />
<line x1="422.64000000000004" y1="652.072" x2="425.64000000000004" y2="652.072" stroke="#111" stroke-width="0.9" />
<rect x="421.54" y="653.85" width="5.20" height="18.65" fill="#fff" stroke="#000" stroke-width="0.85"/>
<line x1="424.14000000000004" y1="653.852" x2="424.14000000000004" y2="655.632" stroke="#111" stroke-width="0.9" />
<line x1="422.64000000000004" y1="655.632" x2="425.64000000000004" y2="655.632" stroke="#111" stroke-width="0.9" />
<line x1="429.34000000000003" y1="641.112" x2="429.34000000000003" y2="645.872" stroke="#111" stroke-width="0.9" />
<line x1="427.84000000000003" y1="641.112" x2="430.84000000000003" y2="641.112" stroke="#111" stroke-width="0.9" />
<rect x="426.74" y="643.49" width="5.20" height="29.01" fill="#8c8c8c" stroke="#000" stroke-width="0.85"/>
<line x1="429.34000000000003" y1="643.492" x2="429.34000000000003" y2="645.872" stroke="#111" stroke-width="0.9" />
<line x1="427.84000000000003" y1="645.872" x2="430.84000000000003" y2="645.872" stroke="#111" stroke-width="0.9" />
<line x1="435.04" y1="672.5" x2="435.04" y2="670.5" stroke="#000" stroke-width="0.9" />
<text x="427.04" y="684" text-anchor="middle" style="font-size:9.5px;" >+</text>
<text x="427.04" y="694.5" text-anchor="middle" style="font-size:9.5px;" >+</text>
<line x1="441.72" y1="637.55" x2="441.72" y2="642.7" stroke="#111" stroke-width="0.9" />
<line x1="440.22" y1="637.55" x2="443.22" y2="637.55" stroke="#111" stroke-width="0.9" />
<rect x="439.12" y="640.12" width="5.20" height="32.38" fill="#fff" stroke="#000" stroke-width="0.85"/>
<line x1="441.72" y1="640.125" x2="441.72" y2="642.7" stroke="#111" stroke-width="0.9" />
<line x1="440.22" y1="642.7" x2="443.22" y2="642.7" stroke="#111" stroke-width="0.9" />
<line x1="446.92" y1="641.112" x2="446.92" y2="645.872" stroke="#111" stroke-width="0.9" />
<line x1="445.42" y1="641.112" x2="448.42" y2="641.112" stroke="#111" stroke-width="0.9" />
<rect x="444.32" y="643.49" width="5.20" height="29.01" fill="#8c8c8c" stroke="#000" stroke-width="0.85"/>
<line x1="446.92" y1="643.492" x2="446.92" y2="645.872" stroke="#111" stroke-width="0.9" />
<line x1="445.42" y1="645.872" x2="448.42" y2="645.872" stroke="#111" stroke-width="0.9" />
<line x1="452.62" y1="672.5" x2="452.62" y2="670.5" stroke="#000" stroke-width="0.9" />
<text x="444.62" y="684" text-anchor="middle" style="font-size:9.5px;" >-</text>
<text x="444.62" y="694.5" text-anchor="middle" style="font-size:9.5px;" >-</text>
<line x1="459.3" y1="634.81" x2="459.3" y2="640.26" stroke="#111" stroke-width="0.9" />
<line x1="457.8" y1="634.81" x2="460.8" y2="634.81" stroke="#111" stroke-width="0.9" />
<rect x="456.70" y="637.53" width="5.20" height="34.96" fill="#fff" stroke="#000" stroke-width="0.85"/>
<line x1="459.3" y1="637.535" x2="459.3" y2="640.26" stroke="#111" stroke-width="0.9" />
<line x1="457.8" y1="640.26" x2="460.8" y2="640.26" stroke="#111" stroke-width="0.9" />
<line x1="464.5" y1="624.672" x2="464.5" y2="631.232" stroke="#111" stroke-width="0.9" />
<line x1="463.0" y1="624.672" x2="466.0" y2="624.672" stroke="#111" stroke-width="0.9" />
<rect x="461.90" y="627.95" width="5.20" height="44.55" fill="#8c8c8c" stroke="#000" stroke-width="0.85"/>
<line x1="464.5" y1="627.952" x2="464.5" y2="631.232" stroke="#111" stroke-width="0.9" />
<line x1="463.0" y1="631.232" x2="466.0" y2="631.232" stroke="#111" stroke-width="0.9" />
<line x1="470.2" y1="672.5" x2="470.2" y2="670.5" stroke="#000" stroke-width="0.9" />
<text x="462.2" y="684" text-anchor="middle" style="font-size:9.5px;" >+</text>
<text x="462.2" y="694.5" text-anchor="middle" style="font-size:9.5px;" >-</text>
<line x1="476.88" y1="636.1800000000001" x2="476.88" y2="641.48" stroke="#111" stroke-width="0.9" />
<line x1="475.38" y1="636.1800000000001" x2="478.38" y2="636.1800000000001" stroke="#111" stroke-width="0.9" />
<rect x="474.28" y="638.83" width="5.20" height="33.67" fill="#fff" stroke="#000" stroke-width="0.85"/>
<line x1="476.88" y1="638.83" x2="476.88" y2="641.48" stroke="#111" stroke-width="0.9" />
<line x1="475.38" y1="641.48" x2="478.38" y2="641.48" stroke="#111" stroke-width="0.9" />
<line x1="482.08" y1="613.164" x2="482.08" y2="620.9839999999999" stroke="#111" stroke-width="0.9" />
<line x1="480.58" y1="613.164" x2="483.58" y2="613.164" stroke="#111" stroke-width="0.9" />
<rect x="479.48" y="617.07" width="5.20" height="55.43" fill="#8c8c8c" stroke="#000" stroke-width="0.85"/>
<line x1="482.08" y1="617.074" x2="482.08" y2="620.9839999999999" stroke="#111" stroke-width="0.9" />
<line x1="480.58" y1="620.9839999999999" x2="483.58" y2="620.9839999999999" stroke="#111" stroke-width="0.9" />
<line x1="487.78" y1="672.5" x2="487.78" y2="670.5" stroke="#000" stroke-width="0.9" />
<text x="479.78" y="684" text-anchor="middle" style="font-size:9.5px;" >-</text>
<text x="479.78" y="694.5" text-anchor="middle" style="font-size:9.5px;" >+</text>
<line x1="494.46000000000004" y1="625.768" x2="494.46000000000004" y2="632.2080000000001" stroke="#111" stroke-width="0.9" />
<line x1="492.96000000000004" y1="625.768" x2="495.96000000000004" y2="625.768" stroke="#111" stroke-width="0.9" />
<rect x="491.86" y="628.99" width="5.20" height="43.51" fill="#fff" stroke="#000" stroke-width="0.85"/>
<line x1="494.46000000000004" y1="628.988" x2="494.46000000000004" y2="632.2080000000001" stroke="#111" stroke-width="0.9" />
<line x1="492.96000000000004" y1="632.2080000000001" x2="495.96000000000004" y2="632.2080000000001" stroke="#111" stroke-width="0.9" />
<line x1="499.66" y1="609.328" x2="499.66" y2="617.568" stroke="#111" stroke-width="0.9" />
<line x1="498.16" y1="609.328" x2="501.16" y2="609.328" stroke="#111" stroke-width="0.9" />
<rect x="497.06" y="613.45" width="5.20" height="59.05" fill="#8c8c8c" stroke="#000" stroke-width="0.85"/>
<line x1="499.66" y1="613.448" x2="499.66" y2="617.568" stroke="#111" stroke-width="0.9" />
<line x1="498.16" y1="617.568" x2="501.16" y2="617.568" stroke="#111" stroke-width="0.9" />
<line x1="505.36" y1="672.5" x2="505.36" y2="670.5" stroke="#000" stroke-width="0.9" />
<text x="497.36" y="684" text-anchor="middle" style="font-size:9.5px;" >+</text>
<text x="497.36" y="694.5" text-anchor="middle" style="font-size:9.5px;" >+</text>
<text x="336.5" y="683.5" text-anchor="start" style="font-size:7.9px;font-weight:bold;stroke:#111;stroke-width:0.3px;" >5-Aza</text>
<text x="336.5" y="694" text-anchor="start" style="font-size:7.6px;font-weight:bold;stroke:#111;stroke-width:0.3px;" >SAHA</text>
<line x1="366" y1="696.8" x2="436" y2="696.8" stroke="#000" stroke-width="0.9" />
<line x1="439.7" y1="696.8" x2="508.5" y2="696.8" stroke="#000" stroke-width="0.9" />
<text x="400.5" y="705" text-anchor="middle" style="font-size:8.35px;font-weight:bold;stroke:#111;stroke-width:0.3px;" >SKNO-1-Mock</text>
<text x="470.7" y="705" text-anchor="middle" style="font-size:8.15px;font-weight:bold;stroke:#111;stroke-width:0.3px;" >SKNO-1-siA/E</text>
</g>
</svg>
</body></html>
